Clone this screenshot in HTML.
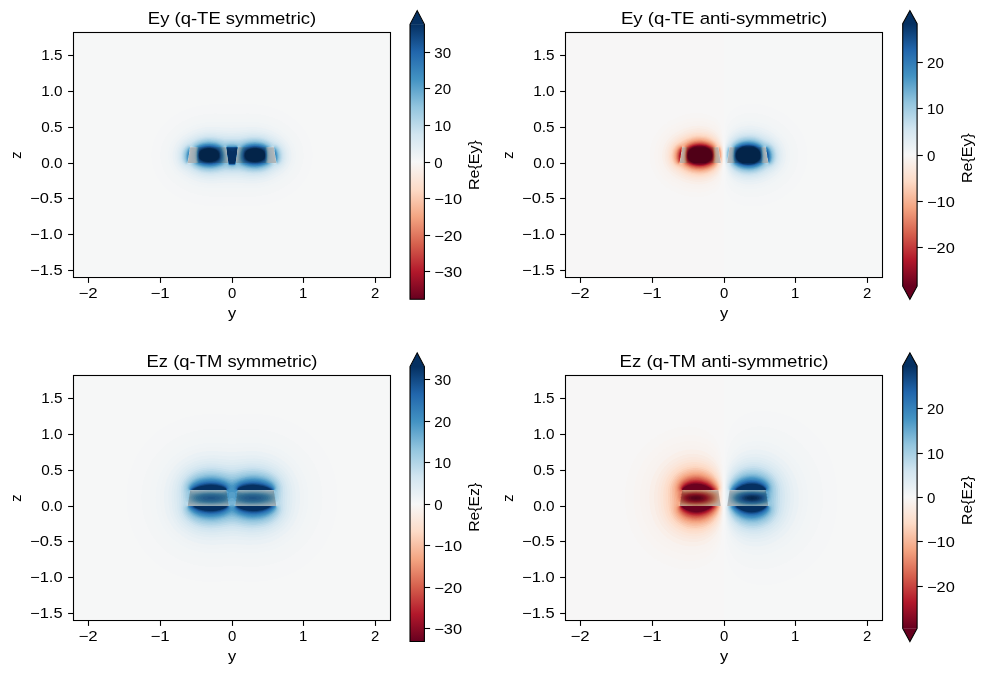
<!DOCTYPE html>
<html><head><meta charset="utf-8"><title>modes</title>
<style>html,body{margin:0;padding:0;background:#fff}body{width:985px;height:673px;overflow:hidden}svg{display:block}text{font-family:"Liberation Sans", sans-serif;fill:#000;opacity:0.999}</style>
</head><body>
<svg width="985" height="673" viewBox="0 0 985 673">
<defs>
<filter id="cm" color-interpolation-filters="sRGB" x="0" y="0" width="100%" height="100%" filterUnits="objectBoundingBox">
<feColorMatrix type="matrix" values="0.5 -0.5 0 0 0.503  0.5 -0.5 0 0 0.503  0.5 -0.5 0 0 0.503  0 0 0 0 1"/>
<feComponentTransfer><feFuncR type="table" tableValues="0.40588 0.70000 0.84118 0.95882 0.99412 0.97059 0.82157 0.57451 0.26471 0.13137 0.02157"/><feFuncG type="table" tableValues="0.00196 0.09608 0.37843 0.64902 0.86078 0.97059 0.90000 0.77451 0.57843 0.40196 0.19020"/><feFuncB type="table" tableValues="0.12353 0.17059 0.30392 0.51176 0.78235 0.97059 0.94314 0.87255 0.76667 0.67647 0.38235"/></feComponentTransfer>
</filter>
<linearGradient id="cb" x1="0" y1="0" x2="0" y2="1"><stop offset="0.0" stop-color="rgb(5,48,97)"/><stop offset="0.1" stop-color="rgb(33,102,172)"/><stop offset="0.2" stop-color="rgb(67,147,195)"/><stop offset="0.3" stop-color="rgb(146,197,222)"/><stop offset="0.4" stop-color="rgb(209,229,240)"/><stop offset="0.5" stop-color="rgb(247,247,247)"/><stop offset="0.6" stop-color="rgb(253,219,199)"/><stop offset="0.7" stop-color="rgb(244,165,130)"/><stop offset="0.8" stop-color="rgb(214,96,77)"/><stop offset="0.9" stop-color="rgb(178,24,43)"/><stop offset="1.0" stop-color="rgb(103,0,31)"/></linearGradient>
</defs>
<rect width="985" height="673" fill="#fff"/>
<g>
<clipPath id="clip0"><rect x="73.5" y="32.5" width="317.0" height="245.0"/></clipPath>
<g clip-path="url(#clip0)">
<g filter="url(#cm)">
<rect x="71.5" y="30.5" width="321.0" height="249.0" fill="#000"/>
<g transform="translate(232.00 163.00) scale(1 -1)"><path fill="#f00" fill-opacity="0.0080" fill-rule="evenodd" d="M-19 -43.2l10.8 -0.3 25 0.2 9.4 0.6 8 1.3 4 1 4.6 1.4 4 1.5 4.4 2 4 2.2 4 2.5 3.5 2.6 3.4 3 3.3 3.4 2.8 3.6 2.3 3.4 2 4 1.7 4 1.3 4.6 0.8 4.4 0.3 4.6 -0.1 4 -0.6 4.4 -0.9 4 -1.5 4.6 -1.8 4 -2.3 4 -2.8 4 -3.1 3.4 -5.3 4.9 -5.4 3.9 -6 3.4 -6.6 2.8 -7.4 2.3 -7 1.4 -7.6 0.8 -9 0.4 -23.4 0 -8.6 -0.2 -9 -0.8 -7.4 -1.3 -4.6 -1.2 -4 -1.3 -4.4 -1.7 -3.6 -1.7 -4 -2.2 -3.4 -2.3 -3.6 -2.7 -3 -2.7 -2.7 -2.8 -2.5 -3 -2.1 -3 -2.1 -3.4 -1.7 -3.6 -1.2 -3 -1 -3.4 -0.9 -4 -0.5 -4 -0.1 -3.6 0.2 -3.4 0.4 -3.6 0.9 -4 1.1 -3.4 1.5 -3.6 1.5 -3 1.8 -3 2.2 -3 2.5 -3 2.7 -2.7 3 -2.7 3 -2.2 4 -2.7 3.6 -1.9 4 -1.9 4 -1.6 8 -2.4 8.4 -1.6z"/><path fill="#f00" fill-opacity="0.0091" fill-rule="evenodd" d="M-19.4 -34.2l36.6 -0.1 6.6 0.3 5.4 0.7 7 1.4 4 1.2 3.6 1.3 4 1.9 3 1.6 3 1.8 3 2.1 3 2.6 2.7 2.6 2.5 3 2 3 1.7 3 1.4 3.6 1.1 3.4 0.7 3.6 0.3 3.4 -0.1 3.6 -0.4 3.4 -0.7 3.6 -1 3 -1.5 3.4 -1.9 3.6 -2.1 3 -3.5 4 -4.2 3.7 -5 3.5 -5 2.7 -5.6 2.3 -6 1.8 -6 1.2 -6.4 0.7 -7 0.3 -15.6 -0.2 -17.4 0.2 -6.6 -0.3 -5.4 -0.7 -7.6 -1.6 -7 -2.4 -6.4 -3.2 -3 -1.8 -3 -2.1 -2.7 -2.1 -2.6 -2.6 -2.2 -2.4 -1.9 -2.6 -1.9 -3 -1.3 -2.4 -1.2 -3 -1 -3 -0.6 -3 -0.5 -3.6 -0.1 -3.4 0.2 -3 0.6 -3.6 0.8 -3 1 -3 1.2 -2.4 1.4 -2.6 2 -3 2.1 -2.4 2.4 -2.6 5.3 -4.3 3 -1.9 3.4 -2 6.6 -2.9 7 -2.2 7.4 -1.5z"/><path fill="#f00" fill-opacity="0.0112" fill-rule="evenodd" d="M-21.4 -29.2l6.2 -0.1 16 0.3 17 -0.4 5 0.2 4 0.4 6.4 1.1 6 1.7 6 2.5 5.6 3.1 3 2.1 3 2.4 2.1 2.1 2.2 2.6 1.8 2.4 1.7 3 1 2.6 1 3 0.7 3 0.3 3 0 3.4 -0.3 3 -0.8 3.6 -1 3 -1.4 3 -1.4 2.4 -2.9 4 -3.5 3.6 -4.1 3.2 -4.4 2.8 -4.6 2.2 -5.4 2.1 -5.6 1.5 -6 1 -4.4 0.3 -4.6 0.1 -17 -0.4 -18.4 0.4 -8 -0.4 -6.6 -1.1 -6 -1.7 -6 -2.4 -5.4 -3.1 -3 -2 -2.6 -2 -2.4 -2.4 -2 -2.1 -1.9 -2.6 -1.5 -2.4 -2.3 -5 -0.9 -3 -0.5 -3 -0.3 -2.6 0 -3 0.2 -2.4 0.5 -3 0.9 -3 1 -2.6 1.2 -2.4 1.6 -2.6 1.9 -2.4 1.9 -2 4.6 -4.1 5.6 -3.6 6.4 -3.1 6 -2 7 -1.5z"/><path fill="#f00" fill-opacity="0.0134" fill-rule="evenodd" d="M-21.4 -25.8l5.6 0 15 0.5 18.6 -0.5 8 0.4 6 0.9 5.4 1.5 5 1.9 5 2.6 5.6 3.6 2.4 2.1 2 2.1 1.7 1.9 1.7 2.6 1.3 2.4 1 2.6 0.8 2.4 0.5 3 0.2 3 -0.1 3 -0.4 2.6 -0.8 3 -1.1 3 -1.3 2.4 -2.3 3.6 -3.2 3.4 -4 3.4 -4 2.6 -4.4 2.3 -5 2 -5.6 1.6 -5.4 0.9 -8 0.5 -18 -0.6 -18.6 0.6 -7.4 -0.3 -5.6 -0.8 -5.4 -1.4 -5.6 -2 -5 -2.5 -5 -3.3 -2.4 -2.1 -2 -1.9 -3.3 -4 -1.5 -2.4 -1.2 -2.6 -0.9 -2.5 -0.8 -2.9 -0.5 -5 0.1 -2.6 0.4 -3 0.6 -2.4 0.9 -2.6 1 -2 1.4 -2.4 1.8 -2.4 1.9 -2.2 4.5 -3.8 5 -3.2 3 -1.6 3.6 -1.5 6 -2 6 -1.2z"/><path fill="#f00" fill-opacity="0.0162" fill-rule="evenodd" d="M-25.3 -22.8l7.5 -0.2 18 0.7 17 -0.7 6.6 0.1 4.4 0.5 5 1 4.6 1.4 5 2.1 6 3.4 4.4 3.5 1.9 1.8 1.7 2 1.8 2.4 1 2 1 2.6 0.7 2.4 0.5 3 0.1 2.6 -0.2 3 -0.5 2.4 -0.7 2.6 -1.1 2.4 -2 3.6 -2.9 3.4 -3.3 3 -4 2.9 -4.4 2.4 -4.6 2 -5 1.6 -5 1 -4 0.4 -3.9 0.2 -20.1 -0.8 -5.4 0.1 -12 0.7 -6.6 -0.1 -5 -0.6 -5 -1.1 -4.4 -1.4 -4.6 -2 -5.4 -3.1 -4.6 -3.4 -3.5 -3.8 -2.6 -4 -1.2 -2.4 -0.8 -2.6 -0.9 -4.4 -0.1 -2.6 0.2 -2.4 0.9 -4.6 1.7 -4 2.7 -4 3.2 -3.2 4.4 -3.5 5.6 -3.1 5.4 -2.4 6.6 -1.8z"/><path fill="#f00" fill-opacity="0.0223" fill-rule="evenodd" d="M-26.3 -20.2l4.1 -0.4 4 0 13 0.8 6 0.1 16.4 -0.8 6 0 4.6 0.4 4 0.8 4 1.1 4 1.5 6 3.1 5 3.4 3.6 3.4 1.6 2 1.2 2 0.9 2 0.9 2.6 0.5 2.4 0.2 2.6 -0.3 4.4 -0.6 2.6 -0.9 2.4 -1.8 3.6 -2.3 3 -2.6 2.5 -3.4 2.6 -4.6 2.7 -5 2.4 -4.4 1.5 -5 1.1 -4.6 0.5 -5 0.2 -14.4 -0.9 -6 -0.2 -15.6 1 -6 0 -4 -0.3 -4.4 -0.8 -4 -1.1 -4 -1.4 -5.6 -2.8 -5 -3.3 -3.5 -3.3 -2.8 -3.4 -2 -4 -1.3 -4.6 -0.3 -4.4 0.6 -4.6 1.4 -4 2.1 -3.4 2.8 -3.2 4 -3.2 5.6 -3.4 5.4 -2.5 5.6 -1.7zM41.8 13.2l-0.4 1.6 0.4 0.1zM43.8 0.3l-0.6 1.9 -0.2 3 0.2 0.2 0.1 -2.6 0.5 -0.5zM-43.8 0.3l0 2 0.5 0.5 0.1 2.6 0.2 -0.2 -0.2 -3zM-41.8 13.2l0 1.7 0.4 -0.1z"/><path fill="#f00" fill-opacity="0.0271" fill-rule="evenodd" d="M-25.7 -17.8l3.5 -0.2 4 0 12.4 1 6 0.2 6 -0.2 11 -0.9 5.6 -0.1 3.9 0.4 3.5 0.5 3.6 0.9 3.4 1.2 5.6 2.7 6 3.7 3.3 2.8 2.4 3 1.1 2 0.8 2 0.6 2 0.3 2.6 0.1 2 -0.2 2.4 -0.5 2.6 -0.7 2 -1.5 3 -2.1 3 -2.6 2.6 -3 2.2 -4.6 2.7 -4.4 2.1 -4.6 1.6 -4.4 1 -4.6 0.6 -4.4 0.1 -14.6 -1.2 -6.4 -0.1 -5.6 0.2 -10.4 1 -5.6 0.1 -3.4 -0.3 -4 -0.6 -3.6 -0.9 -3.4 -1.3 -5.6 -2.6 -5 -3.1 -3.2 -2.7 -2.6 -3 -2 -3.4 -0.9 -2.6 -0.5 -2 -0.3 -2.4 -0.1 -2 0.6 -4 1.2 -3.6 2.2 -3.4 2.6 -2.8 3.6 -2.6 5.4 -3.3 5 -2.3 5.6 -1.6zM42.8 0.2l-0.3 1 -0.4 6.6 -1.3 7 0 0.4 0.4 0.3 0.6 -0.2 0.1 -2.5 0.3 -0.7 0.1 -2.3 0.5 -1 0.1 -2.6 0.3 -0.5 0.2 -1.9 0.3 -1 0.2 -2.6zM-43.8 0.2l-0.1 0 0.1 2.6 0.4 1 0.2 1.9 0.3 0.5 0.2 2.6 0.4 1 0.1 2.3 0.3 0.7 0.1 2.5 0.6 0.2 0.4 -0.3 0 -0.4 -1.4 -8.1 -0.3 -5.9 -0.1 -0.6z"/><path fill="#f00" fill-opacity="0.0279" fill-rule="evenodd" d="M-26.5 -15.8l3.7 -0.2 4 0 12.6 1.1 7 0.2 6 -0.2 10.4 -1 5.6 -0.1 3 0.2 3.4 0.5 3.6 0.8 3 1 5.4 2.5 6 3.6 3.5 2.6 2.1 2.6 0.9 1.4 0.9 2 0.6 2 0.3 2 0.2 2 -0.2 2.6 -1 4 -1.4 3 -1.7 2.4 -2.2 2.2 -2.4 2 -5 3 -4.6 2.2 -4 1.5 -4.4 1 -4.6 0.6 -4.4 0 -4 -0.2 -10 -1.1 -7 -0.2 -5.6 0.3 -10.4 1.1 -5.6 0.1 -3.4 -0.2 -3 -0.5 -3 -0.7 -3 -0.9 -5 -2.2 -5.6 -3.2 -3.4 -2.6 -2.6 -2.6 -2.1 -3.6 -1.2 -3.4 -0.6 -4.1 0.4 -3.9 0.9 -3 1.6 -3 2 -2.5 3 -2.3 6.6 -4 4.4 -2.1 5 -1.7zM41.8 0.2l-0.5 0 0.3 3.6 -0.2 4 -1.3 7.4 1.1 0.6 0.6 -0.3 0.1 -1.7 0.3 -1.3 0.2 -2.3 0.4 -1 0.1 -2 0.3 -1.1 0.2 -1.9 0.4 -1.1 0.2 -2.9 -0.2 -0.1zM-43.8 0.1l-0.2 0.1 0.2 2.9 0.3 0.7 0.3 2.3 0.3 1.1 0.1 2 0.4 1 0.2 2.3 0.3 1.3 0.1 1.7 0.6 0.3 1.1 -0.6 -1 -5 -0.4 -3.4 -0.1 -3.6 0.3 -3z"/><path fill="#f00" fill-opacity="0.0315" fill-rule="evenodd" d="M-26.3 -14.2l3.5 -0.3 4 0 12.6 1.3 7 0.2 6 -0.2 11 -1.2 5 -0.1 6 0.6 5.4 1.4 2.6 1 3 1.4 7 4.2 2.9 2.1 1.8 2 1.7 3 0.9 3.6 0.1 4 -0.8 4 -1 2.4 -1.6 2.6 -1.8 2 -2.2 1.8 -5 3 -4.6 2.3 -4 1.6 -4.4 1.1 -4.6 0.5 -4.4 0.1 -4 -0.3 -9.6 -1.2 -7.4 -0.2 -6 0.3 -10.6 1.3 -5 0.1 -6 -0.6 -5 -1.3 -4.4 -1.8 -6.6 -3.6 -3 -2 -2.4 -2.4 -2.2 -3.3 -1.3 -3.4 -0.6 -4 0.3 -3.6 0.8 -3 1.3 -2.4 1.7 -2 2.4 -2.1 7 -4.2 4 -2 5 -1.7zM40.2 0.2l-0.2 0 0.6 1.6 0.2 1.4 0.1 3.6 -0.6 4 -1.1 4.5 2 0.5 0.6 0 0.7 -5.6 0.3 -0.7 0.1 -2.3 0.3 -0.8 0.2 -2.2 0.4 -0.9 0.1 -1.5 0.3 -1.6 -0.4 -0.2zM-43.8 0l-0.4 0.2 0.3 1.6 0.1 1.5 0.4 0.9 0.2 2.2 0.3 0.8 0.1 2.3 0.3 0.7 0.7 5.6 1.2 -0.1 1.4 -0.5 -1.1 -4.4 -0.6 -4 0.1 -4 0.3 -1.6 0.5 -1z"/><path fill="#f00" fill-opacity="0.0355" fill-rule="evenodd" d="M-26.2 -12.8l3.4 -0.2 3.6 0 13 1.6 8 0.1 5.4 -0.2 10.6 -1.4 5 -0.1 5 0.4 5 1.2 3.4 1.3 3.6 1.8 8 4.7 1.4 1.2 1 1.1 1.1 1.5 0.7 1.6 0.8 3 0.1 3.4 -0.2 2 -0.5 2 -1.1 2.6 -1.2 2 -1.7 1.8 -2 1.6 -7 4.1 -3.4 1.7 -4 1.4 -3.6 0.8 -4 0.4 -4.4 0.1 -4 -0.4 -9 -1.3 -8.6 -0.2 -6 0.3 -10 1.4 -5 0.2 -5 -0.4 -5 -1.2 -5 -2 -7 -3.9 -2.4 -1.7 -1.9 -1.7 -2 -3 -1.2 -3 -0.6 -3.6 0.1 -3.4 0.6 -2.6 1.2 -2.4 1.6 -2 1.6 -1.4 8.6 -5 3 -1.5 5 -1.7zM38.8 0.2l-0.3 0 0.9 1.6 0.5 1.4 0.2 3.5 -0.3 2.5 -0.5 2.6 -0.6 2 -0.7 1.4 1.8 0.6 2 0.1 0.1 -1.7 0.3 -1.1 0.2 -1.9 0.4 -1.5 0.2 -2.5 0.2 -0.5 0.2 -1.9 0.4 -1.2 0.1 -1.8 0.4 -1.6 -0.5 -0.3zM-44.2 0.2l0.3 1.6 0.1 1.8 0.4 1.2 0.2 1.9 0.2 0.5 0.2 2.5 0.4 1.5 0.2 1.9 0.3 1.1 0.1 1.6 0.6 0.1 1.4 -0.1 1.8 -0.6 -0.7 -1.4 -0.6 -2 -0.5 -2.6 -0.3 -2.4 0 -2 0.3 -2 0.6 -1.6 0.7 -1 -5.3 -0.3z"/><path fill="#f00" fill-opacity="0.0399" fill-rule="evenodd" d="M-28 -11.2l3.8 -0.5 4.4 0 4 0.4 9.6 1.3 10 0.1 4 -0.2 9.4 -1.4 5 -0.2 5 0.3 4.6 1 3 1 3 1.4 6 3.8 3.4 1.6 2 1.7 0.9 1.1 0.8 1.6 0.8 3 0.1 3.4 -0.6 3.5 -1 2.5 -1.3 2 -1.3 1.6 -1.8 1.4 -10 5.4 -3.6 1.4 -4 0.9 -4 0.5 -4 0 -4.4 -0.4 -9 -1.4 -10 -0.2 -5 0.3 -9.6 1.5 -5 0.3 -4.4 -0.4 -4.6 -1 -3 -1 -3 -1.5 -7.4 -4.1 -2.6 -1.9 -1.8 -2.4 -1.4 -3 -0.7 -2.9 -0.1 -3.5 0.4 -2.6 1 -2.4 1.2 -1.7 1.4 -1.4 4 -1.9 4.6 -3 3.4 -1.8 4 -1.4zM37.2 0.2l-0.1 0 0.1 0.3 1 1.3 0.7 1.4 0.3 1.6 0.1 2 -0.2 2 -0.5 2.4 -0.6 2 -1 2 1.9 0.6 2.9 0.2 1.2 -8.8 0.3 -0.4 0.1 -2 0.4 -1 0.1 -2 0.4 -1.6 -0.1 -0.2 -0.4 -0.1zM-44.2 0l-0.1 0.8 0.4 1 0.1 2 0.4 1 0.1 2 0.3 0.4 1.2 8.8 2.9 -0.2 1.9 -0.6 -1 -2 -0.6 -2 -0.5 -2.4 -0.2 -2 0.1 -2 0.4 -1.9 0.6 -1.1 1.1 -1.6 -6.7 -0.3z"/><path fill="#f00" fill-opacity="0.0447" fill-rule="evenodd" d="M-26.3 -10.2l3.5 -0.3 4 0.1 4 0.5 6.6 1.2 3.4 0.3 11 -0.1 10 -1.6 5 -0.4 5 0.2 5 1 2.6 0.8 3 1.3 3 1.8 3.4 2.8 3 0.6 1 0.6 1 0.8 1.5 2.4 0.9 3 0.1 3.4 -0.5 3 -0.7 2 -1.2 2 -1.2 1.6 -1.3 1.1 -1.6 0.8 -2.5 1.1 -4.5 2.7 -2.4 1.2 -3.6 1.3 -3.4 0.8 -4 0.4 -4.6 -0.1 -4 -0.5 -7 -1.4 -3.4 -0.2 -11.6 0.1 -10 1.7 -4.4 0.4 -5 -0.2 -5 -1 -2.6 -0.8 -2.4 -1.2 -5 -3 -4 -1.8 -2 -1.6 -1.8 -2.4 -1.2 -3 -0.5 -3 0.1 -3.4 0.5 -2 0.6 -1.6 1 -1.4 1.3 -1.2 1.4 -0.7 2.6 -0.5 4.4 -3.4 4 -2.1 4 -1.3zM-5.2 10l-1 4.8 0 0.4 0.4 0.5 0.2 -2.5 0.4 -0.5zM-3.8 0.7l-0.4 1.1 -0.4 3.4 0.4 0.6 0 -2.6 0.1 -0.4 0.3 -0.2zM3.8 0.7l0 1.9 0.3 0.2 0.1 0.4 0 2.6 0.4 -0.6 -0.4 -3.4zM5.2 10l0 2.7 0.4 0.5 0.2 2.5 0.4 -0.5 0 -0.4zM36.8 0.2l-0.4 0 1.7 4.6 0.2 2.4 -0.4 3 -1.5 5 1.4 0.6 4 0.3 0.5 -2.9 0.1 -2 0.4 -1 0.1 -2 0.4 -1.4 0.2 -2 0.3 -1.1 0.2 -1.9 0.4 -1.6 -0.2 -0.3 -0.4 -0.1zM-44.2 -0.1l-0.1 0.8 0.3 1.1 0.2 2 0.3 1 0.2 2 0.4 1.4 0.1 2 0.4 1 0.1 2 0.5 2.9 4 -0.3 1 -0.3 0.4 -0.3 -1.5 -5 -0.4 -3.4 0.3 -2.6 1.6 -4 -6.8 -0.4z"/><path fill="#f00" fill-opacity="0.0502" fill-rule="evenodd" d="M-25.8 -9.2l4 -0.2 4 0.2 3.6 0.5 6 1.3 3 0.3 5 -0.3 7 0.2 9 -1.7 5 -0.5 5 0.1 5 0.9 4 1.4 3.4 1.9 2.9 2.3 0.8 1 0.4 1 0 0.6 -6.3 0.4 1 4 0.3 3 -0.2 3 -1.1 5 0.8 0.6 4.4 0.5 0.6 -0.1 0.5 -3 0.1 -2 0.4 -1 0.1 -2 0.4 -1.4 0.2 -2 0.3 -1 0.2 -2 0.4 -1 -0.1 -1.5 0.5 -0.6 1 0 1.4 0.8 1.1 1.3 0.7 1.4 0.6 2 0.2 2 0 2 -0.4 2.6 -0.7 2 -1.1 2 -1.2 1.4 -1.2 1 -1.4 0.7 -2.6 0.5 -3.4 2.6 -3.6 1.8 -3 1.1 -3.4 0.8 -4 0.4 -4.6 -0.1 -4 -0.5 -7 -1.6 -2.4 -0.2 -13 0.1 -9 1.9 -5 0.4 -5 -0.2 -4.6 -0.8 -4.4 -1.7 -2.6 -1.4 -3.4 -2.6 -3 -0.7 -2.2 -1.5 -1.5 -2 -1.3 -3 -0.6 -3.4 0.1 -3 0.7 -2.6 1.1 -2 0.7 -0.7 1 -0.6 1 -0.2 0.5 0.1 0.4 0.4 -0.1 1.6 0.4 1 0.2 2 0.3 1 0.2 2 0.4 1.4 0.1 2 0.4 1 0.1 2 0.5 3 0.6 0.1 4.4 -0.5 0.6 -0.3 0.2 -0.3 -1.1 -5 -0.2 -3 0.3 -3 1 -4 -6.3 -0.4 0.1 -1 0.6 -1 1.8 -1.8 2 -1.4 2 -1.1 2.6 -1.1 2.4 -0.8zM-3.8 0.2l-0.4 0.6 -0.4 1 -0.5 5.4 -1.5 7 0 1 0.4 0.6 0.4 0 0.2 -1.6 0.4 -1.1 0.1 -2.9 0.3 -0.8 0.2 -2.6 0.4 -0.7 0.1 -2.3 0.3 -0.9zM3.7 0.2l0.1 2.7 0.3 0.9 0.1 2.3 0.4 0.7 0.2 2.6 0.3 0.8 0.1 2.9 0.4 1.1 0.2 1.6 0.4 0 0.4 -0.6 0 -1 -1.5 -7 -0.5 -5.4 -0.4 -1z"/><path fill="#f00" fill-opacity="0.0563" fill-rule="evenodd" d="M-25.3 -8.2l3.5 -0.2 4 0.3 3.6 0.6 6.4 1.5 2 0.2 5.6 -0.4 5.4 0.4 1.6 0 9.4 -2.1 5.6 -0.5 3 0.1 3 0.4 2.4 0.5 3 0.9 3 1.4 2.6 1.6 1.7 1.8 0.9 1.5 -5.8 0.4 0.8 3.6 0.3 3.5 -0.3 3.9 -0.8 4 0.6 0.6 4 0.4 -0.1 1 -0.7 1 -1.6 1.5 -2 1.3 -2 0.9 -4.6 1.5 -4.4 0.6 -4 0.1 -3.6 -0.4 -3.4 -0.7 -5 -1.3 -2 -0.3 -6.6 0.3 -7.4 -0.3 -9 2.2 -5.6 0.5 -3 -0.1 -3 -0.3 -3 -0.7 -2.4 -0.8 -2.6 -1.2 -2 -1.3 -1.6 -1.5 -0.7 -1 -0.1 -0.4 0 -0.6 4 -0.4 0.6 -0.6 -0.8 -4 -0.3 -4 0.3 -3.4 0.8 -3.6 -5.8 -0.4 0.9 -1.6 1.3 -1.3 2 -1.4 2 -1.1 2.4 -1.1 2.6 -0.7zM-4.2 0.2l-0.4 0 -0.5 1 -0.5 6 -1.4 7 -0.1 1 0.4 0.6 0.5 0.1 0.4 0 0.1 -0.1 0.2 -1.6 0.3 -0.7 0.1 -2.7 0.3 -1 0.2 -2.6 0.4 -0.8 0.1 -2.2 0.3 -1 0.2 -3zM3.8 0.1l-0.2 0.1 0 0.6 0.2 2.4 0.3 1 0.1 2.2 0.4 0.8 0.2 2.6 0.3 1 0.1 2.7 0.3 0.7 0.3 1.7 0.4 0 0.5 -0.1 0.4 -0.6 0 -0.4 -1.5 -7.6 -0.4 -5.4 -0.3 -1 -0.3 -0.6zM-46.4 -0.2l0.6 -0.4 1.1 0 0.7 2.4 0.1 2 0.4 1 0.7 5.4 0.3 1 0.1 2 0.4 1.6 0 2 -0.2 0.2 -0.6 0.1 -1 -0.1 -1 -0.5 -1.7 -1.7 -1.4 -2.6 -0.8 -2.5 -0.2 -2.9 0.3 -3 1 -2.6zM44.5 -0.2l0.3 -0.4 0.4 -0.1 1 0.4 0.7 0.5 1 1.6 0.9 3 0.1 3.4 -0.8 3.6 -1.2 2.4 -1.1 1.5 -1 0.8 -1 0.5 -1 0.1 -0.6 -0.1 -0.2 -0.2 0 -2 0.4 -1.5 0.1 -2.1 0.3 -1 0.7 -5.4 0.4 -1 0.1 -2 0.3 -0.6z"/><path fill="#f00" fill-opacity="0.0597" fill-rule="evenodd" d="M-26.1 -7.2l4.3 -0.3 4.6 0.4 3.4 0.7 5.6 1.5 2 0.4 6 -0.8 2 0.1 3.4 0.7 1.6 -0.1 8.4 -2.1 3 -0.5 3 -0.2 3 0 3 0.3 3 0.6 2.6 0.8 2.4 1 2.6 1.6 1.6 1.3 1.1 1.6 -5.2 0.4 0.7 3 0.3 4 -0.3 4.6 -0.7 3.4 0.5 0.6 3.7 0.4 -0.7 1.3 -1.3 1.3 -1.7 1.1 -2 1.1 -4.6 1.5 -4.4 0.6 -4 0 -3.6 -0.3 -3.4 -0.8 -5.6 -1.7 -1.4 -0.2 -6.6 0.6 -7.4 -0.6 -8.6 2.4 -5.4 0.7 -3 0 -2.6 -0.3 -3 -0.6 -2.4 -0.7 -2.6 -1.1 -2.4 -1.6 -1.6 -1.4 -0.7 -1.3 3.7 -0.4 0.5 -0.6 -0.7 -3.4 -0.3 -4.6 0.3 -4 0.7 -3 -5.2 -0.4 0.7 -1.1 1.6 -1.5 3.4 -2.1 4 -1.5zM-5.8 0.2l-0.2 7 -1.7 8 0.4 0.6 1.1 0.3 0.4 -0.1 0.6 -2.2 0.2 -3 0.2 -0.7 0.2 -2.3 0.4 -1.2 0.1 -2.4 0.3 -0.7 0.4 -3.3 -0.4 -0.2zM3.8 0l-0.4 0.2 0.4 3.3 0.3 0.7 0.1 2.4 0.4 1.2 0.6 6 0.6 2.2 0.4 0.1 1.1 -0.3 0.4 -0.6 -1.7 -8 -0.2 -7zM-46.1 0.2l0.9 -0.4 0.4 0 0.4 1.4 0.3 0.6 0.2 2 0.3 1 0.2 2 0.4 1.4 0.1 2 0.4 1 0.1 2 0.3 1.6 -0.1 1.4 -0.6 0.3 -1.4 -0.5 -1.8 -1.8 -1.1 -2 -0.8 -2.4 -0.3 -3 0.3 -2.6 0.8 -2.4zM44.6 0.2l0.2 -0.4 1 0.2 0.8 0.8 0.5 1 0.9 3 0.1 3.4 -0.6 3 -1.2 2.6 -1.7 2 -0.8 0.5 -1 0.2 -0.6 -0.3 -0.1 -1.4 0.3 -1.6 0.1 -2 0.4 -1 0.1 -2 0.4 -1.4 0.2 -2 0.3 -1 0.2 -2 0.3 -0.6z"/><path fill="#f00" fill-opacity="0.0635" fill-rule="evenodd" d="M-27.4 -6.2l4.6 -0.4 5 0.3 4 0.8 6.6 2.1 1.4 0.2 3.6 -1 2 -0.3 2 0.2 3.4 1 1 0.1 8.1 -2.4 3.5 -0.7 3 -0.3 3 0 3 0.2 2.4 0.5 3 0.8 2.6 1.1 2 1.1 1.5 1.1 1.4 1.6 -4.7 0.4 0.7 3 0.3 4 -0.2 4 -0.8 4 0.4 0.6 3.3 0.4 -0.7 1 -1.2 1.1 -1.6 1 -2 1 -4 1.3 -4.4 0.7 -4 0 -4 -0.5 -3.6 -0.8 -6 -2.2 -4 0.8 -3.4 0.2 -3 -0.2 -4 -0.8 -7.6 2.6 -3 0.6 -3 0.3 -3 0.1 -3 -0.3 -2.4 -0.5 -2.6 -0.7 -2.4 -1 -2 -1.2 -1.6 -1.2 -0.9 -1.3 3.3 -0.4 0.4 -0.6 -0.8 -4 -0.2 -4 0.3 -4 0.7 -3 -4.7 -0.4 1.9 -2 3 -1.8 3.6 -1.4zM-6.8 0.2l-0.1 0 0.3 1 0.2 2.6 -0.1 3.4 -0.6 3.6 -1.2 4.4 0.2 0.6 1.9 0.4 0.4 0 0.6 -2.4 0.1 -2 0.4 -1.6 0.1 -2.4 0.4 -1 0.2 -2.6 0.2 -0.5 0.2 -1.9 0.3 -1.6 -0.5 -0.3 -0.4 0zM3.8 -0.1l-0.5 0.3 0.3 1.6 0.2 1.9 0.2 0.5 0.2 2.6 0.4 1 0.1 2.4 0.4 1.6 0.1 2 0.6 2.4 1 0 1.3 -0.4 0.2 -0.6 -1.3 -5 -0.6 -3.4 0 -4 0.2 -1.6 0.3 -1zM-45.5 0.2l0.7 -0.3 0.3 1.3 0.4 0.6 0.1 2 0.4 1 0.2 2 0.4 1.4 0.1 2 0.3 1 0.2 2.6 0.3 1 -0.1 1.3 -1.4 -0.3 -1.6 -1.6 -1.1 -2 -0.8 -2.4 -0.4 -3 0.3 -2.6 0.7 -2.4zM44.6 0.2l0.2 -0.3 0.7 0.3 0.7 1 0.7 1.6 0.5 3 -0.1 3 -0.6 2.4 -1.1 2.6 -0.8 1 -1 0.9 -1 0.4 -0.6 0 -0.1 -1.3 0.3 -1 0.2 -2.6 0.3 -1 0.1 -2 0.4 -1.4 0.2 -2 0.4 -1 0.1 -2 0.4 -0.6z"/><path fill="#f00" fill-opacity="0.0678" fill-rule="evenodd" d="M-25.6 -5.8l4.8 -0.1 5 0.7 4.6 1.3 5.4 2.4 0.6 0 1.4 -1.3 1 -0.4 1 -0.4 1.6 -0.2 1.4 0.1 1.6 0.4 1 0.5 1.4 1.3 0.6 0 4 -1.8 3 -1.1 3.4 -0.9 3.6 -0.5 3.4 -0.1 3 0.2 3 0.5 2.6 0.7 4 1.8 2 1.4 1.1 1.1 -4.2 0.4 0.8 3 0.2 4 -0.2 4.6 -0.8 3.4 0.3 0.6 0.2 0 2.8 0.4 -1.8 1.7 -3 1.7 -3.4 1.2 -4 0.7 -4 0.1 -4 -0.4 -4 -0.9 -3.6 -1.4 -1.9 -1.1 -0.8 -1 0 -0.6 1.3 -0.4 0.2 -0.6 -1.3 -4 -0.8 -4.4 0.1 -4 0.4 -1.6 0.6 -1 -2.7 -0.4 -0.5 -0.4 -1 0.4 -0.6 0.4 0.4 1.6 0.1 2 0.4 1 0.1 2.2 0.4 1.2 0.1 2 0.4 1.5 0.1 2.1 0.4 2 0.2 0.6 0.3 0.4 0.1 0.4 -0.3 0.6 -0.7 0.4 -1 0.4 -1.4 0.3 -4.6 0.1 -3 -0.5 -1.1 -0.7 -0.3 -0.6 0.1 -0.4 0.3 -0.4 0.2 -0.7 0.4 -1.9 0.1 -2 0.4 -1.6 0.1 -2 0.4 -1.2 0.1 -2.2 0.4 -1 0.1 -2 0.4 -1.6 -0.6 -0.4 -1 -0.4 -0.5 0.4 -2.7 0.4 0.6 1 0.3 1 0.2 3 -0.1 2.6 -0.4 2.4 -0.8 3.1 -0.8 1.9 0.2 0.6 1.3 0.4 -0.3 1 -0.5 0.6 -2.5 1.3 -2.4 1 -3 0.9 -3.6 0.5 -3 0.2 -3 -0.2 -3 -0.5 -3 -0.8 -3.4 -1.7 -1.6 -1 -1.2 -1.3 2.8 -0.4 0.2 0 0.3 -0.6 -0.8 -3.4 -0.2 -4.6 0.2 -4 0.8 -3 -4.2 -0.4 2.7 -2.2 3 -1.5 3.4 -1.2zM-45.1 0.2l0.3 -0.1 0.3 1.1 0.3 0.6 0.3 2.4 0.2 0.6 0.3 2.4 0.3 1 0.2 2.6 0.3 0.4 0.1 2.6 0.4 1 -0.1 1.2 -1.3 -0.8 -1.4 -1.4 -1 -2 -0.7 -2.6 -0.2 -2.4 0.2 -2.6 0.9 -3zM44.7 0.2l0.1 -0.1 0.3 0.1 0.4 0.6 1 3 0.3 2.4 -0.1 2.6 -0.6 2.4 -1.2 2.6 -1.4 1.4 -1.3 0.8 -0.1 -1.2 0.4 -1 0.1 -2.6 0.3 -0.4 0.2 -2.6 0.3 -1 0.3 -2.4 0.2 -0.6 0.3 -2.4 0.3 -0.6z"/><path fill="#f00" fill-opacity="0.0727" fill-rule="evenodd" d="M-28 -4.8l2.8 -0.3 3 -0.1 3 0.1 3 0.5 3 0.8 2.4 0.9 2.6 1.2 1.4 1.3 0.2 0.2 -2.4 0.4 0.7 1 0.5 1 0.3 1.6 0.1 2 -0.1 2.4 -0.5 2.6 -0.9 3 -0.8 1.4 0.1 0.6 1.2 0.4 -0.8 1 -2.6 1.6 -3.4 1.2 -4.6 0.8 -4 0.2 -4 -0.5 -4 -1 -3 -1.4 -2.4 -1.9 2.4 -0.4 0.3 -0.6 -0.7 -3.4 -0.3 -4.6 0.3 -4 0.8 -3 -3.7 -0.4 1.9 -1.5 2.4 -1.3 2.6 -1zM17 -4.8l2.8 -0.3 3 -0.1 3 0.1 3 0.5 2.4 0.6 2.6 1 2.4 1.3 1.9 1.5 -3.7 0.4 0.8 3 0.3 4 -0.3 4.6 -0.7 3.4 0.3 0.6 2.4 0.4 -2.4 1.9 -3.6 1.6 -3.9 0.9 -4.1 0.4 -4.4 -0.3 -4 -0.8 -3.6 -1.4 -1.4 -0.8 -1 -0.9 -0.4 -0.6 1.2 -0.4 0.1 -0.6 -0.9 -2 -0.9 -3 -0.4 -2.4 -0.1 -2.6 0.4 -3 0.5 -1 0.7 -1 -2.4 -0.4 1.6 -1.5 2.6 -1.2 3 -1.1zM-2.4 -2.8l2.2 -0.4 2 0.2 1.4 0.8 0.7 1 -0.3 1 -0.4 0.4 0.9 5 0.1 2 0.4 1 0.1 2 0.4 1.6 0.1 2 0.4 2.4 -0.2 1 -1.2 0.8 -2.4 0.3 -5 -0.1 -1.6 -0.5 -0.4 -0.3 -0.4 -0.6 1 -8.6 0.4 -0.9 0.1 -2.1 0.9 -5 -0.4 -0.4 -0.3 -1 0.7 -1zM-44.8 0.2l0.2 1 0.4 0.6 0.2 2.4 0.4 1 0.1 2 0.4 1 0.2 2.6 0.3 0.4 0.1 2.6 0.3 1 0 1 -1.7 -1.6 -0.7 -1 -1 -2.4 -0.5 -2 -0.1 -2 0.1 -2.6 0.8 -3zM44.7 0.2l0.6 1 0.8 3 0.1 2.6 -0.1 2 -0.5 2 -1 2.4 -0.7 1 -1.7 1.6 0 -1 0.3 -1 0.1 -2.6 0.3 -0.4 0.2 -2.6 0.4 -1 0.1 -2 0.4 -1 0.2 -2.4 0.4 -0.6z"/><path fill="#f00" fill-opacity="0.0784" fill-rule="evenodd" d="M-27.3 -4.2l2.5 -0.3 3 -0.1 2.6 0.2 3 0.4 2.4 0.7 2.6 0.9 2 1 1.5 1.2 -2.1 0.4 0.8 1 0.7 1.6 0.4 3 -0.1 2.4 -0.5 2.6 -1 3 -0.8 1.4 0.1 0.6 1 0.4 -0.6 0.6 -2.4 1.5 -3.6 1.2 -3.4 0.7 -4 0.2 -4 -0.4 -3.6 -0.8 -3 -1.2 -2.7 -1.8 2.2 -0.4 0.1 -0.6 -0.8 -3.4 -0.3 -4.6 0.3 -4 0.9 -3 -1.1 -0.3 -2.1 -0.1 2.1 -1.4 2.4 -1.2 2.6 -0.8zM17.8 -4.2l5.4 -0.4 3 0.2 2.6 0.4 4.4 1.4 2 1 2.1 1.4 -2.1 0.1 -1.1 0.3 0.9 3 0.3 4 -0.3 4.6 -0.8 3.4 0.1 0.6 2.2 0.4 -2.7 1.8 -3.6 1.4 -3.4 0.7 -4 0.3 -4 -0.3 -4 -0.9 -3.6 -1.4 -2 -1.5 1 -0.5 0.1 -0.6 -1 -2 -0.9 -3 -0.4 -2.4 -0.1 -2.6 0.2 -1.4 0.4 -1.6 1.3 -2 -2.1 -0.4 1.5 -1.2 2.6 -1.2 3 -1zM-2.2 -2.2l1.4 -0.4 2 0.1 1.6 0.5 0.6 0.8 0.1 0.4 -0.3 1 0 0.6 0.9 4.4 0.1 2 0.3 1 0.2 2 0.3 1.6 0.1 1.9 0.4 1.5 0 1 -0.3 0.6 -1 0.6 -2 0.2 -5.4 0 -1.6 -0.4 -0.4 -0.4 -0.3 -0.6 0 -1 0.4 -1.4 0.1 -2 0.3 -1.6 0.2 -2 0.3 -1 0.1 -2 0.9 -4.4 0 -0.6 -0.3 -1 0.5 -1zM-45 2.2l0.2 -0.4 0.6 0.1 0.2 2.3 0.4 1 0.2 2.6 0.3 0.4 0.1 2.6 0.3 0.4 0.2 3 0.3 0.4 0 0.8 -1.9 -2.2 -1.3 -3.4 -0.3 -3.6 0.2 -2.5zM44.2 2.2l0 -0.3 0.6 -0.1 0.7 2 0.2 3 -0.2 2 -0.4 2 -1 2.4 -1.9 2.2 0 -0.8 0.3 -0.4 0.2 -3 0.3 -0.4 0.1 -2.6 0.3 -0.4 0.2 -2.6 0.4 -1z"/><path fill="#f00" fill-opacity="0.0851" fill-rule="evenodd" d="M-26.9 -3.8l5.1 -0.2 5 0.5 4.6 1.3 2 0.9 1.5 1.1 -1.8 0.4 0.8 1 0.8 1.6 0.4 1.4 0.1 2 -0.2 2.6 -0.5 2.4 -0.8 2.6 -0.9 1.4 -0.1 0.6 0.9 0.4 -0.2 0.2 -2.6 1.5 -3 1 -3.4 0.7 -3.6 0.2 -3.4 -0.2 -3.6 -0.7 -3 -1 -2.9 -1.7 1.8 -0.4 0 -0.6 -0.5 -1.4 -0.5 -2.6 -0.2 -4 0.3 -4 1 -3 -1 -0.3 -1.7 -0.1 2.3 -1.4 2 -0.8 2.4 -0.8zM18.4 -3.8l4.8 -0.2 5 0.5 4.6 1.3 2 0.9 1.7 1.1 -1.7 0.1 -1 0.3 1 3 0.3 4 -0.2 4 -0.5 2.6 -0.5 1.4 0 0.6 1.8 0.4 -2.9 1.7 -3 1 -3.6 0.7 -3.4 0.2 -3.6 -0.2 -3.4 -0.7 -3.6 -1.3 -2.2 -1.4 0.9 -0.4 -0.1 -0.6 -0.9 -1.4 -0.8 -2.6 -0.6 -3 -0.1 -2.4 0.5 -3 0.8 -1.6 0.8 -1 -1.8 -0.4 2.1 -1.3 2 -0.9 2.4 -0.7zM-2.3 -1.8l1.6 -0.3 1.9 0 1.6 0.7 0.4 0.6 0 1.5 0.9 4.5 0.1 2 0.3 1 0.2 2.6 0.3 1 0.1 2 0.3 1.4 -0.2 1.2 -1 0.5 -1.4 0.2 -6 0 -1.6 -0.4 -0.5 -0.5 -0.1 -1 0.3 -1.4 0.1 -2 0.3 -1 0.2 -2.6 0.3 -1 0.7 -5.4 0.3 -1 0 -1.6 0.4 -0.6zM-44.4 2.2l0.2 0 0.1 2 0.4 1 0.2 2.6 0.3 0.4 0.2 2.6 0.3 0.4 -0.1 3.1 -0.8 -1.1 -1 -2.4 -0.6 -3 0.1 -4zM44.2 2.2l0.6 0.5 0.3 1.1 0.1 4 -0.6 3 -1 2.4 -0.8 1.1 -0.1 -3.1 0.3 -0.4 0.2 -2.6 0.3 -0.4 0.2 -2.6 0.4 -1z"/><path fill="#f00" fill-opacity="0.0930" fill-rule="evenodd" d="M-26.7 -3.2l4.5 -0.3 5 0.5 4 1 3.5 1.8 -1.5 0.4 0.9 1 0.8 1.6 0.4 1.4 0.2 2 -0.1 2.6 -0.5 2.4 -0.7 2.2 -1.4 2.4 0.7 0.4 -2.3 1.3 -3 1 -3 0.6 -3.6 0.2 -3.4 -0.2 -3 -0.6 -3 -0.9 -2.7 -1.4 1.3 -0.4 -1 -4 -0.3 -4 0.4 -4.6 0.3 -1.4 0.7 -1.6 -0.7 -0.3 -1.4 -0.1 3.8 -1.9 2.6 -0.7zM18.6 -3.2l4.6 -0.3 4.6 0.4 4 1 3.8 1.9 -1.4 0.1 -0.7 0.3 0.7 1.6 0.3 1.4 0.4 4.6 -0.3 3.9 -1 4.1 1.3 0.4 -2.7 1.4 -3 0.9 -3 0.6 -3.4 0.2 -3.6 -0.2 -3 -0.6 -3 -1 -2.3 -1.3 0.7 -0.4 -1.4 -2.4 -0.7 -2.2 -0.5 -2.4 -0.1 -2.6 0.2 -2 0.4 -1.4 0.8 -1.6 0.9 -1 -1.5 -0.4 2.1 -1.2 2 -0.7zM-2.4 -1.2l1.2 -0.4 2 -0.1 1.4 0.3 0.7 0.6 0.6 2.6 0.1 2 0.4 1.4 0.2 2 0.3 1 0.2 2.6 0.3 1 0.1 2.4 0.3 1 -0.2 1 -0.4 0.2 -1.6 0.2 -3.4 -0.1 -3 0.1 -1 -0.1 -1 -0.3 -0.2 -1 0.3 -1 0.1 -2.4 0.3 -1 0.2 -2.6 0.3 -1 0.2 -2 0.4 -1.4 0.5 -4 0.3 -0.8zM-44.4 2.8l0.3 2 0.4 0.4 0.1 2.6 0.4 0.4 0.1 2.6 0.4 0.4 -0.1 2.8 -0.4 -0.8 -0.5 -1.4 -0.5 -1 -0.5 -3 0 -4zM44.2 2.8l0.5 1 0 4 -0.5 3 -0.5 1 -0.5 1.4 -0.4 0.8 -0.1 -2.8 0.4 -0.4 0.1 -2.6 0.4 -0.4 0.1 -2.6 0.4 -0.4z"/><path fill="#f00" fill-opacity="0.1026" fill-rule="evenodd" d="M-26.8 -2.8l4 -0.2 4.6 0.3 4 0.9 3.6 1.6 -1.3 0.4 1.4 1.6 0.7 1.4 0.4 2 0.1 2.6 -0.4 2.4 -0.5 2 -0.7 1.5 -1.4 2.1 0.5 0.4 -2.4 1.2 -2.6 0.7 -3 0.5 -3 0.2 -3 -0.1 -3 -0.5 -2.4 -0.7 -2.8 -1.3 0.8 -0.5 -0.7 -1.9 -0.5 -2 -0.3 -2.6 0 -3 0.5 -3.4 0.4 -1.5 0.6 -1.1 -1.5 -0.4 3.9 -1.7zM18.6 -2.8l4.2 -0.2 4.4 0.3 4.1 1 3.4 1.5 -1.5 0.4 0.6 1.1 0.4 1.5 0.5 3.4 0 3 -0.3 2.6 -0.5 2 -0.7 2 0.8 0.4 -2.8 1.3 -2.4 0.7 -3 0.5 -3 0.1 -3 -0.2 -3 -0.5 -2.6 -0.7 -2.4 -1.2 0.5 -0.4 -1.4 -2 -0.7 -1.6 -0.5 -2 -0.4 -2.4 0.1 -2.6 0.4 -2 0.7 -1.4 1.4 -1.6 -1.3 -0.4 3.6 -1.6zM-1.3 -1.2l1.5 -0.1 1.6 0.1 1 0.5 0.2 0.5 1 5.4 0.7 5.6 0.3 1 0.1 2.4 0.3 1 -0.2 0.9 -1.4 0.1 -4 -0.3 -3.6 0.3 -1.4 -0.1 -0.2 -0.9 0.3 -1 0.1 -2.4 0.3 -1 0.7 -5.6 1 -5.4 0.2 -0.5 0.6 -0.3zM-44.2 5.8l0.4 -0.5 0.2 2.5 0.4 0.4 0 0.6 0 2.4 -0.6 -0.4 -0.2 -0.6 -0.1 -2 -0.3 -1zM43.7 5.8l0.1 -0.5 0.4 0.5 0.2 1.4 -0.3 1 -0.1 2 -0.2 0.6 -0.6 0.4 0 -2.4 0 -0.6 0.4 -0.4zM-43.1 11.8l0.3 -0.2 0 2 -0.2 -0.8zM42.7 11.8l0.1 -0.2 0.3 0.2 0 0.5 -0.3 1.3z"/><path fill="#f00" fill-opacity="0.1143" fill-rule="evenodd" d="M-27.1 -2.2l3.9 -0.4 4 0.2 4 0.8 3.6 1.4 -1.1 0.4 1.5 1.3 0.9 1.7 0.5 2 0.1 2.6 -0.3 2 -0.5 2 -0.9 2 -1.7 2 0.4 0.4 -2.1 0.9 -2.4 0.7 -2.6 0.4 -3 0.2 -3 -0.2 -2.4 -0.4 -2.6 -0.6 -2.3 -1 0.5 -0.4 -0.9 -1.6 -0.5 -1.4 -0.5 -4 0 -3 0.4 -2.6 0.7 -2 0.6 -1 -1 -0.4 3 -1.2zM18.4 -2.2l3.8 -0.4 4 0.2 4 0.8 3.6 1.4 -1 0.4 0.6 1 0.7 2 0.4 2.6 0 3 -0.5 4 -0.5 1.4 -0.9 1.6 0.5 0.4 -2.3 1 -2.6 0.6 -2.4 0.4 -3 0.2 -3 -0.2 -2.6 -0.4 -2.4 -0.7 -2.1 -0.9 0.4 -0.4 -1.9 -2.3 -0.5 -1.3 -0.6 -2 -0.4 -3.4 0.5 -3 0.9 -2 1.6 -1.6 -1.1 -0.4 3.2 -1.3zM-2.2 -0.8l1.4 -0.2 2 0.1 1 0.2 0.6 0.2 0.1 0.3 0.5 2 0.2 2 0.4 1.4 0.1 2 0.3 1 0.2 2.5 0.3 1.1 0.2 2.4 0.2 1 -0.1 0.7 -5.4 -0.5 -5 0.5 -0.1 -0.7 0.2 -1 0.2 -2.4 0.3 -1 0.2 -2.6 0.3 -1 0.1 -2 0.4 -1.4 0.2 -2 0.5 -2 0.1 -0.3zM-43.8 5.8l0 2.3 -0.2 -0.3 -0.1 -1zM43.7 5.8l0.4 0.9 -0.1 1.1 -0.2 0.3zM-43.5 8.8l0.3 -0.2 0 2.4 -0.4 -0.8zM43.2 8.8l0 -0.2 0.3 0.2 0.2 1 -0.2 1 -0.3 0.2z"/><path fill="#f00" fill-opacity="0.1290" fill-rule="evenodd" d="M-27.5 -1.8l3.7 -0.3 4 0.1 3.6 0.6 3.5 1.2 -1 0.4 1.5 0.9 1.2 1.7 0.7 2.4 0.2 2.6 -0.4 2.4 -0.6 2 -1.1 2 -1.9 1.6 0.3 0.4 -4 1.2 -5 0.5 -5 -0.4 -4.3 -1.3 0.3 -0.4 -1 -0.9 -0.4 -0.8 -0.6 -1.3 -0.3 -2 -0.2 -4 0.4 -3.6 0.8 -2 0.3 -0.5 0.9 -0.5 -0.9 -0.4 2.6 -0.9zM18 -1.8l3.8 -0.3 4 0.1 3.4 0.6 3.6 1.2 -0.9 0.4 0.9 0.6 0.4 0.7 0.6 1.3 0.4 2.9 0.1 3.1 -0.5 4 -0.9 2 -1.1 1 0.3 0.4 -4.3 1.3 -5 0.4 -5 -0.5 -4 -1.2 0.3 -0.4 -1.3 -1.1 -0.9 -0.9 -0.8 -1.6 -0.5 -1.4 -0.5 -3.6 0.4 -3 0.5 -1.4 0.6 -1 1.1 -1 1 -0.6 -1 -0.4 2.6 -0.9zM-2.8 -0.2l1 -0.4 2.6 0 1.4 0.1 0.6 0.3 0.6 2 0.2 2 0.4 1.4 0.6 5.6 0.3 1 0.3 4 -4 -0.9 -1.4 -0.1 -5 1 0.3 -4 0.3 -1 0.6 -5.6 0.4 -1.4 0.2 -2z"/><path fill="#f00" fill-opacity="0.1481" fill-rule="evenodd" d="M-28.1 -1.2l2.9 -0.4 3 -0.1 3 0.2 2.4 0.4 3 0.9 -1.1 0.4 2.1 1 1 1 0.7 1.6 0.5 2 0.1 2 -0.4 2.4 -0.4 1.6 -0.8 1.4 -1.1 1.3 -2.1 1.3 0.4 0.4 -2.3 0.7 -3 0.5 -3 0.1 -2.6 -0.1 -2.4 -0.4 -2.8 -0.8 0.4 -0.4 -2.2 -1.4 -0.8 -2.2 -0.4 -2.4 -0.1 -3.6 0.5 -3 0.8 -1.9 0.6 -0.4 1.5 -0.7 -1 -0.4zM17.5 -1.2l3.7 -0.5 3.6 0 3.4 0.5 3.5 1 -1 0.4 1.5 0.7 0.6 0.4 0.5 0.9 0.7 3 0.1 3.6 -0.2 2.4 -0.7 2.3 -0.4 0.9 -0.5 0.4 -1.7 1 0.4 0.4 -2.8 0.8 -3 0.4 -3 0.1 -3 -0.2 -4.3 -1.1 0.4 -0.4 -2.1 -1.3 -1 -1 -1 -1.9 -0.6 -2.8 -0.1 -2.6 0.6 -2.4 0.7 -1.4 1 -1.1 2.1 -1.1 -1.1 -0.4zM-2.4 -0.2l4.2 -0.1 1 0.1 0.5 2 0.3 2.4 0.4 1 0.6 6 0.3 0.6 0.1 3 0.2 0.7 -1 -0.1 -2.4 -0.9 -1.6 -0.2 -1.4 0.1 -3 1 -1 0.1 0.2 -0.7 0.1 -3 0.3 -0.6 0.1 -2.4 0.4 -1.6 0.1 -2 0.4 -1 0.2 -2 0.5 -2 0.1 -0.4z"/><path fill="#f00" fill-opacity="0.1739" fill-rule="evenodd" d="M-25.3 -1.2l2.5 -0.2 3 0.2 4.8 1 -1.3 0.4 1.5 0.6 1.6 0.7 0.8 0.7 0.7 1 0.5 1.6 0.3 2 -0.2 2.4 -0.4 2 -0.7 1.6 -0.8 1 -1.2 0.8 -2.4 1.2 0.5 0.4 -2.7 0.6 -2.4 0.3 -3 0 -2.6 -0.2 -2.9 -0.7 0.4 -0.4 -2.9 -1.5 -0.6 -0.5 -0.4 -1 -0.4 -1.6 -0.3 -3 0.2 -3.4 0.7 -2.6 0.8 -0.8 2.9 -1.2 -1.3 -0.4 2.8 -0.7zM20.4 -1.2l4.8 -0.1 4.6 0.8 0.8 0.3 -1.3 0.4 2.9 1.2 0.8 0.8 0.5 1.6 0.4 2.4 0 3 -0.4 2.6 -0.7 2 -0.6 0.5 -2.9 1.5 0.4 0.4 -2.9 0.7 -3 0.2 -3.6 -0.1 -3 -0.5 -1.1 -0.3 0.5 -0.4 -3.4 -1.9 -1.2 -1.7 -0.9 -2.4 -0.2 -2.6 0.3 -2.4 0.8 -2 1.2 -1.3 1.6 -0.7 1.5 -0.6 -1.3 -0.4 2.8 -0.7zM-2.9 0.2l0.1 -0.3 2.6 0.2 3 -0.2 0.6 2.3 0.2 2 0.3 1 0.2 2 0.3 1.6 0.2 2.4 0.3 0.6 0 3 -0.1 0.4 -3.6 -1.3 -1.4 -0.2 -1.6 0.3 -2.9 1.2 -0.2 -0.4 0 -3 0.3 -0.6 0.7 -6z"/><path fill="#f00" fill-opacity="0.2105" fill-rule="evenodd" d="M-26.5 -0.8l4.7 -0.2 5 0.7 0.4 0.1 -1.7 0.4 3.3 1 2 1.4 0.6 0.6 0.6 1.6 0.3 3 -0.5 3 -0.6 1.4 -0.8 1.1 -2 1.3 -3.1 1.2 0.7 0.4 -4.6 0.6 -3 -0.1 -3 -0.5 0.6 -0.4 -3.2 -1.2 -1.4 -0.9 -0.6 -0.5 -0.4 -1.3 -0.5 -2.7 0 -3.4 0.6 -2.6 0.3 -0.8 1 -0.8 2.1 -0.8 2.1 -0.6 -1.6 -0.4zM19.1 -0.8l4.7 -0.2 5 0.6 0.4 0.2 -1.6 0.4 3.2 1 1.8 1 0.5 1 0.4 1.6 0.2 3.5 -0.5 3.6 -0.4 1.3 -0.6 0.5 -1.4 0.9 -3.2 1.2 0.6 0.4 -3 0.5 -3 0.1 -4.6 -0.6 0.7 -0.4 -3.5 -1.5 -1.6 -1.1 -0.8 -1 -0.4 -1 -0.6 -2.4 -0.1 -2.6 0.7 -2.4 0.8 -1.2 1 -0.8 2 -0.9 2.3 -0.7 -1.7 -0.4zM-2.9 0.2l0.1 -0.2 3 0.4 2.6 -0.4 0.6 2.2 0.7 5.6 0.3 1 0.2 2.4 0.2 0.6 0.1 2.4 -0.1 0.8 -3 -1.5 -2 -0.4 -1.6 0.4 -3 1.5 -0.1 -0.8 0.1 -2.4 0.2 -0.6 0.2 -2.4 0.4 -1.6 0.1 -2 0.3 -1 0.2 -2z"/><path fill="#f00" fill-opacity="0.2667" fill-rule="evenodd" d="M-27.5 -0.2l4.7 -0.4 4.7 0.4 -3 0.4 2.9 0.4 2 0.5 1.4 0.7 1.5 1 0.8 1 0.4 1 0.4 2.4 -0.4 3 -0.6 1.6 -0.6 0.8 -1.4 1.2 -1.5 0.7 -4.8 1.3 1.2 0.4 -2.4 0.2 -3.9 -0.2 1.2 -0.4 -4.3 -1.1 -1.6 -0.6 -1.4 -1 -0.8 -1.3 -0.5 -2.6 0 -3 0.5 -2.4 0.8 -1.3 2 -1.1 2.4 -0.7 3.2 -0.5zM18.1 -0.2l4.7 -0.4 4.7 0.4 -2.9 0.4 2.6 0.4 2 0.5 1.8 0.7 1.2 0.7 0.6 0.6 0.4 1.5 0.3 3.2 -0.3 3.1 -0.4 1.6 -0.6 0.6 -1.4 1 -1.6 0.6 -4.3 1.1 1.2 0.4 -3.9 0.2 -2.4 -0.2 1.2 -0.4 -4.8 -1.3 -1.5 -0.7 -1.3 -1 -0.6 -0.9 -0.6 -1.1 -0.4 -2 -0.1 -2.6 0.5 -1.9 1 -1.5 2 -1.3 2.6 -0.8 3.3 -0.5zM-2.8 0.2l0 -0.2 2 0.7 1 0.1 2.6 -0.8 0.6 2.2 0.1 2 0.4 1 0.2 2.6 0.3 1 0.1 2.4 0.3 0.6 0 3.1 -3 -2 -1 -0.3 -1 -0.1 -2 0.7 -2.6 1.7 0 -3.1 0.3 -0.6 0.1 -2.4 0.3 -1 0.2 -2.6 0.2 -0.4 0.3 -2.6z"/><path fill="#f00" fill-opacity="0.3636" fill-rule="evenodd" d="M-2.8 0.2l0 -0.1 0.5 0.1 1.5 0.9 1 0.1 1 -0.3 1.6 -0.8 0.5 2.1 0.2 2 0.4 1 0.2 2.6 0.3 1 0.1 2.4 0.3 1 0 2.4 -1.6 -1.3 -1.4 -1 -1 -0.4 -1 0 -1 0.2 -1 0.5 -2.6 2 0 -2.8 0.3 -0.6 0.1 -2.4 0.3 -1 0.2 -2.6 0.3 -0.4 0.3 -2.6 0.3 -1zM-25.9 0.8l3.7 -0.2 3.4 0.3 3 0.9 2.3 1.4 0.7 1 0.4 1 0.3 2.6 -0.4 2.4 -0.4 1 -0.7 1 -1.6 1.3 -2 0.9 -2.6 0.6 -3 0.2 -3 -0.1 -2.5 -0.5 -2.1 -0.8 -1.8 -1.4 -0.7 -1.2 -0.4 -2.4 0.1 -2.7 0.4 -2.2 0.6 -0.7 2 -1.3 2 -0.7zM19.8 0.8l4 -0.2 3.4 0.4 2.7 0.8 2.3 1.4 0.6 0.7 0.2 0.9 0.3 3 -0.3 3 -0.2 0.8 -0.6 0.8 -1.4 1.1 -2 0.9 -2.6 0.6 -3 0.2 -3 -0.1 -2.4 -0.5 -2 -0.8 -1.7 -1 -1.2 -1.6 -0.7 -2 -0.1 -2.4 0.7 -2.5 1 -1.2 1.4 -1.1 2 -0.7z"/><path fill="#f00" fill-opacity="0.5357" fill-rule="evenodd" d="M-2.8 0.2l2 1.4 1 0.1 1 -0.4 1.6 -1.1 0.1 1 0.4 1 0.3 2.6 0.2 0.4 0.2 2.6 0.4 1 0.1 2.4 0.3 1 0 2.2 -1.6 -1.6 -1 -0.8 -1.5 -0.8 -0.9 -0.1 -1 0.3 -1.6 1 -2 2 0 -2.2 0.3 -1 0.1 -2.4 0.4 -1 0.2 -2.6 0.2 -0.4 0.3 -2.6 0.4 -1zM-26.6 1.2l3.8 -0.3 3.6 0.3 3 0.9 1.8 1.1 1.3 1.6 0.4 1 0.2 1.4 -0.3 2.6 -0.4 1 -0.7 1 -1.3 1.2 -1.6 0.8 -2.4 0.7 -2.6 0.3 -3 0 -2.4 -0.4 -2.1 -0.6 -1.9 -1.2 -1 -0.9 -0.6 -1.5 -0.3 -3 0.4 -2.4 0.6 -1 1.3 -1.1 2 -0.9zM19.2 1.2l3.6 -0.3 3.4 0.3 3 0.8 2.3 1.2 0.7 0.7 0.5 0.9 0.3 2 -0.1 3 -0.1 0.8 -0.6 1.1 -1.1 1.1 -1.9 1 -2.4 0.7 -2.6 0.3 -3 0 -2.4 -0.4 -2.1 -0.6 -1.7 -1 -1.5 -1.6 -0.7 -1.8 -0.3 -2.2 0.4 -2 0.9 -1.4 1.2 -1 1.8 -0.9z"/><path fill="#f00" fill-opacity="1.0000" fill-rule="evenodd" d="M-2.8 0.8l0 -0.5 1.6 1.5 0.4 0.2 1 0.2 1 -0.4 1.6 -1.5 0.2 1.5 0.3 0.4 0.2 2.6 0.3 0.4 0.2 2.6 0.3 1 0.1 2.4 0.4 1 0 1.9 -1 -1.4 -2 -1.6 -1 -0.5 -1 -0.2 -1 0.4 -2.1 1.4 -1.5 1.9 0 -1.9 0.4 -1 0.1 -2.4 0.3 -1 0.2 -2.6 0.3 -0.4 0.2 -2.6 0.3 -0.4zM-27.2 1.8l3.4 -0.5 3.6 0.1 3 0.8 2.1 1 1.4 1.6 0.5 1 0.2 1 -0.2 2.4 -0.9 2 -1.6 1.6 -1.5 0.7 -2 0.6 -2.6 0.4 -2.4 0 -2.6 -0.4 -2.4 -0.8 -1.6 -0.9 -1.4 -1.6 -0.4 -1 -0.2 -2.6 0.3 -2 0.6 -1 1.2 -1 1.5 -0.8zM18.6 1.8l3.2 -0.5 3.4 0.1 3 0.6 2.5 1.2 1.5 1.5 0.6 1.5 0 3 -0.6 1.6 -1.2 1.4 -1.6 1 -2.2 0.8 -2 0.4 -2.4 0.1 -3 -0.3 -2 -0.5 -2.1 -0.9 -1.5 -1.4 -0.9 -1.6 -0.3 -1.6 0.1 -2 0.6 -1.4 1.1 -1.2 1.4 -1z"/><linearGradient id="gapg" gradientUnits="userSpaceOnUse" x1="0" y1="15.85" x2="0" y2="-1.5"><stop offset="0" stop-color="#f00" stop-opacity="0.84"/><stop offset="0.24" stop-color="#f00" stop-opacity="0.86"/><stop offset="0.32" stop-color="#f00" stop-opacity="0.97"/><stop offset="0.85" stop-color="#f00" stop-opacity="1"/><stop offset="1" stop-color="#f00" stop-opacity="0.8"/></linearGradient><polygon points="-3.20,-1.50 -5.60,15.85 5.60,15.85 3.20,-1.50" fill="url(#gapg)"/></g>
</g>
<polygon points="187.70,163.00 190.20,147.15 226.40,147.15 228.80,163.00" fill="#000" fill-opacity="0.24"/><polygon points="276.30,163.00 273.80,147.15 237.60,147.15 235.20,163.00" fill="#000" fill-opacity="0.24"/>
</g>
<rect x="73.5" y="275.95" width="317.0" height="0.95" fill="#fff"/>
<rect x="73.5" y="32.5" width="317.0" height="245.0" fill="none" stroke="#000" stroke-width="1.10"/>
<line x1="88.50" y1="277.50" x2="88.50" y2="282.90" stroke="#000" stroke-width="1.10"/>
<text x="88.10" y="298.40" font-size="13.89" text-anchor="middle" textLength="19.2" lengthAdjust="spacingAndGlyphs">−2</text>
<line x1="160.50" y1="277.50" x2="160.50" y2="282.90" stroke="#000" stroke-width="1.10"/>
<text x="160.10" y="298.40" font-size="13.89" text-anchor="middle" textLength="19.2" lengthAdjust="spacingAndGlyphs">−1</text>
<line x1="232.50" y1="277.50" x2="232.50" y2="282.90" stroke="#000" stroke-width="1.10"/>
<text x="232.10" y="298.40" font-size="13.89" text-anchor="middle" textLength="8.3" lengthAdjust="spacingAndGlyphs">0</text>
<line x1="303.50" y1="277.50" x2="303.50" y2="282.90" stroke="#000" stroke-width="1.10"/>
<text x="303.10" y="298.40" font-size="13.89" text-anchor="middle" textLength="8.3" lengthAdjust="spacingAndGlyphs">1</text>
<line x1="375.50" y1="277.50" x2="375.50" y2="282.90" stroke="#000" stroke-width="1.10"/>
<text x="375.10" y="298.40" font-size="13.89" text-anchor="middle" textLength="8.3" lengthAdjust="spacingAndGlyphs">2</text>
<line x1="68.10" y1="55.50" x2="73.50" y2="55.50" stroke="#000" stroke-width="1.10"/>
<text x="62.60" y="60.35" font-size="13.89" text-anchor="end" textLength="21.3" lengthAdjust="spacingAndGlyphs">1.5</text>
<line x1="68.10" y1="91.50" x2="73.50" y2="91.50" stroke="#000" stroke-width="1.10"/>
<text x="62.60" y="96.35" font-size="13.89" text-anchor="end" textLength="21.3" lengthAdjust="spacingAndGlyphs">1.0</text>
<line x1="68.10" y1="127.50" x2="73.50" y2="127.50" stroke="#000" stroke-width="1.10"/>
<text x="62.60" y="132.35" font-size="13.89" text-anchor="end" textLength="21.3" lengthAdjust="spacingAndGlyphs">0.5</text>
<line x1="68.10" y1="163.50" x2="73.50" y2="163.50" stroke="#000" stroke-width="1.10"/>
<text x="62.60" y="168.35" font-size="13.89" text-anchor="end" textLength="21.3" lengthAdjust="spacingAndGlyphs">0.0</text>
<line x1="68.10" y1="198.50" x2="73.50" y2="198.50" stroke="#000" stroke-width="1.10"/>
<text x="62.60" y="203.35" font-size="13.89" text-anchor="end" textLength="32.5" lengthAdjust="spacingAndGlyphs">−0.5</text>
<line x1="68.10" y1="234.50" x2="73.50" y2="234.50" stroke="#000" stroke-width="1.10"/>
<text x="62.60" y="239.35" font-size="13.89" text-anchor="end" textLength="32.5" lengthAdjust="spacingAndGlyphs">−1.0</text>
<line x1="68.10" y1="270.50" x2="73.50" y2="270.50" stroke="#000" stroke-width="1.10"/>
<text x="62.60" y="275.35" font-size="13.89" text-anchor="end" textLength="32.5" lengthAdjust="spacingAndGlyphs">−1.5</text>
<text x="232.00" y="317.70" font-size="13.89" text-anchor="middle" textLength="8.2" lengthAdjust="spacingAndGlyphs">y</text>
<text x="20.50" y="155.00" font-size="13.89" text-anchor="middle" textLength="7.3" lengthAdjust="spacingAndGlyphs" transform="rotate(-90 20.50 155.00)">z</text>
<text x="232.00" y="23.60" font-size="16.67" text-anchor="middle" textLength="168.3" lengthAdjust="spacingAndGlyphs">Ey (q-TE symmetric)</text>
<rect x="410.00" y="24.35" width="14.40" height="274.95" fill="url(#cb)"/>
<polygon points="410.00,24.65 417.20,10.60 424.40,24.65" fill="rgb(5,48,97)"/>
<polygon points="410.00,299.30 410.00,24.35 417.20,10.60 424.40,24.35 424.40,299.30" fill="none" stroke="#000" stroke-width="1.10" stroke-linejoin="miter"/>
<line x1="424.40" y1="52.50" x2="430.10" y2="52.50" stroke="#000" stroke-width="1.10"/>
<text x="434.30" y="58.10" font-size="13.89" text-anchor="start" textLength="16.8" lengthAdjust="spacingAndGlyphs">30</text>
<line x1="424.40" y1="88.50" x2="430.10" y2="88.50" stroke="#000" stroke-width="1.10"/>
<text x="434.30" y="94.10" font-size="13.89" text-anchor="start" textLength="16.8" lengthAdjust="spacingAndGlyphs">20</text>
<line x1="424.40" y1="125.50" x2="430.10" y2="125.50" stroke="#000" stroke-width="1.10"/>
<text x="434.30" y="131.10" font-size="13.89" text-anchor="start" textLength="16.8" lengthAdjust="spacingAndGlyphs">10</text>
<line x1="424.40" y1="162.50" x2="430.10" y2="162.50" stroke="#000" stroke-width="1.10"/>
<text x="434.30" y="168.10" font-size="13.89" text-anchor="start" textLength="8.4" lengthAdjust="spacingAndGlyphs">0</text>
<line x1="424.40" y1="198.50" x2="430.10" y2="198.50" stroke="#000" stroke-width="1.10"/>
<text x="434.30" y="204.10" font-size="13.89" text-anchor="start" textLength="27.8" lengthAdjust="spacingAndGlyphs">−10</text>
<line x1="424.40" y1="235.50" x2="430.10" y2="235.50" stroke="#000" stroke-width="1.10"/>
<text x="434.30" y="241.10" font-size="13.89" text-anchor="start" textLength="27.8" lengthAdjust="spacingAndGlyphs">−20</text>
<line x1="424.40" y1="271.50" x2="430.10" y2="271.50" stroke="#000" stroke-width="1.10"/>
<text x="434.30" y="277.10" font-size="13.89" text-anchor="start" textLength="27.8" lengthAdjust="spacingAndGlyphs">−30</text>
<text x="479.10" y="165.02" font-size="13.89" text-anchor="middle" textLength="49.9" lengthAdjust="spacingAndGlyphs" transform="rotate(-90 479.10 165.02)">Re{Ey}</text>
</g>
<g>
<clipPath id="clip1"><rect x="565.5" y="32.5" width="317.0" height="245.0"/></clipPath>
<g clip-path="url(#clip1)">
<g filter="url(#cm)">
<rect x="563.5" y="30.5" width="321.0" height="249.0" fill="#000"/>
<rect x="565.5" y="32.5" width="158.5" height="245.0" fill="#0f0" fill-opacity="0.008"/><g transform="translate(724.00 163.00) scale(1 -1)"><path fill="#f00" fill-opacity="0.0080" fill-rule="evenodd" d="M23.7 -43.2l5.1 -0.3 5 0.3 5 0.8 5.4 1.4 5.6 2 5 2.3 5 2.9 4.4 3.2 4 3.5 3.6 3.6 3.2 4.3 2.5 4 2 4 1.9 5 1.3 5 0.7 5 0.1 5 -0.4 5 -0.9 5 -1.4 4.4 -1.8 4.6 -2.4 4.4 -3.1 4.6 -3.3 3.8 -3.7 3.6 -4.3 3.5 -4.4 3 -4.6 2.4 -5.4 2.4 -5 1.6 -5.6 1.3 -5 0.6 -3.4 0.2 -3.6 -0.1 -3.4 -0.4 -3 -0.6 -2.6 -0.6 -3 -1.2 -2.4 -1.3 -2 -1.5 -2 -1.8 -1.6 -1.9 -1.2 -2 -0.9 -2 -1.5 -5 -0.9 -7 -0.4 -7 -0.2 -10.6 0.1 -25.4 0.7 -11 0.5 -4 0.8 -3.5 1.4 -3.5 1.6 -2.9 2 -2.4 2.6 -2.1 3 -1.7 2.9 -1.3 3.5 -1z"/><path fill="#f00" fill-opacity="0.0091" fill-rule="evenodd" d="M24.7 -34.8l4.5 0 4.6 0.5 4.4 0.8 4.6 1.3 4.4 1.7 4 1.9 4.6 2.7 3.4 2.5 3.6 3.1 2.8 3.1 2.7 3.4 2.1 3.6 1.7 3.4 1.4 4 0.9 4 0.4 4 0.1 4 -0.5 4.6 -0.9 4 -1.3 4 -1.6 3.4 -2.4 4 -2.7 3.6 -2.7 3 -3.6 3.1 -3.4 2.6 -4 2.4 -4 2 -4 1.6 -5 1.6 -4.6 0.9 -4.4 0.5 -3.6 0 -3 -0.1 -3.4 -0.5 -3 -0.8 -3.1 -1 -1.9 -1 -2 -1.3 -2 -1.6 -1.6 -1.5 -1.4 -2.1 -1.3 -2.4 -1 -2.4 -1.3 -5.6 -0.7 -8 -0.3 -7.4 -0.1 -10 0.5 -12.6 0.9 -8 0.7 -3.4 1 -2.8 1.6 -2.9 1.7 -2.3 2.3 -2.2 2.4 -1.7 3 -1.4 3 -1.1 3.6 -0.7z"/><path fill="#f00" fill-opacity="0.0112" fill-rule="evenodd" d="M21.5 -29.8l3.7 -0.3 4 0.1 4.6 0.5 4 0.9 4 1.2 4.4 1.8 4 2 3.6 2.2 2.9 2.2 3.1 2.6 2.6 2.8 2.2 3 1.8 3 1.6 3.6 1.2 3.4 0.7 3.6 0.3 3.4 -0.1 4 -0.5 3.6 -0.8 3.4 -1.3 3.6 -1.5 3 -2.2 3.4 -2.4 3 -2.6 2.8 -3 2.6 -3.6 2.4 -3.4 2.1 -4 1.9 -4 1.4 -4 1.2 -4 0.7 -6 0.5 -3 -0.1 -3 -0.3 -2.6 -0.5 -3 -0.9 -2.4 -1.1 -2 -1.1 -2 -1.4 -1.6 -1.3 -1.4 -1.7 -1.4 -2.2 -1.2 -2.2 -0.7 -2.2 -1.3 -5.5 -0.9 -10.1 0 -14.4 0.9 -10.4 0.8 -3.6 0.8 -3 1.4 -3.2 1.6 -2.3 2 -2.2 2 -1.6 2.4 -1.5 2.6 -1.1 3 -0.9z"/><path fill="#f00" fill-opacity="0.0134" fill-rule="evenodd" d="M20.4 -26.2l3.4 -0.4 4 -0.1 4 0.4 4 0.7 4 1.1 3.4 1.3 3.6 1.7 3.4 1.9 3 2 3 2.4 2.6 2.4 2.1 2.6 2 3 1.5 3 1.2 3 0.7 3 0.5 3.4 0.1 3 -0.3 3.6 -0.6 3 -1.1 3.4 -1.3 3 -1.8 3 -1.8 2.6 -2.3 2.4 -2.7 2.6 -2.8 2.1 -3.4 2.2 -3.6 1.8 -3.4 1.5 -3.6 1.2 -3.4 0.9 -6 0.8 -3 0.1 -3 -0.1 -2.6 -0.4 -3 -0.6 -2.4 -0.8 -2.6 -1.1 -2 -1.2 -2 -1.6 -1.4 -1.4 -1.6 -1.9 -2 -3.8 -1.4 -5 -0.9 -4.7 -0.4 -4.6 -0.1 -13.4 1.2 -9.6 0.6 -3 0.8 -2.4 1.2 -2.8 1.5 -2.2 1.5 -1.8 2 -1.8 2.6 -1.6 2.4 -1.2 3 -1z"/><path fill="#f00" fill-opacity="0.0162" fill-rule="evenodd" d="M21.4 -23.8l3.4 -0.2 3.4 0 3.6 0.4 3.4 0.7 3.6 1 3.4 1.3 3.6 1.6 3.4 2 3 2 2.6 2 2.2 2.2 2.1 2.6 1.7 2.4 1.2 2.6 1.2 3 0.7 3 0.4 3 0 3 -0.3 3 -0.7 3 -1 3 -1.4 3 -1.6 2.4 -1.9 2.6 -2.2 2.2 -2.4 2.1 -3 2.2 -3 1.8 -3 1.5 -3.6 1.5 -3.4 1.1 -3.6 0.8 -6 0.7 -3 0 -3 -0.2 -3 -0.6 -3 -0.9 -2.4 -1 -2 -1.2 -2 -1.4 -1.6 -1.4 -1.4 -1.8 -1.3 -2 -1.8 -4 -1.5 -5.8 -0.4 -3.2 -0.3 -3.4 0 -11.6 1.6 -8.4 0.7 -2.6 1 -2.4 1.1 -2 1.4 -2 1.9 -2.1 2 -1.5 2 -1.2 3 -1.3 3 -0.9z"/><path fill="#f00" fill-opacity="0.0223" fill-rule="evenodd" d="M20.2 -21.2l3 -0.4 3.1 -0.1 2.9 0.2 3.6 0.5 6 1.6 3.4 1.4 3 1.5 3.6 2 2.4 1.7 2.5 2.1 2 1.9 1.7 2 1.6 2.6 1.2 2.4 0.9 2.6 0.6 2.4 0.3 3 0 3 -0.3 2.6 -0.8 3 -0.9 2.4 -1.2 2.6 -1.6 2.4 -2 2.5 -2 1.9 -2.4 2.1 -2.6 1.7 -3 1.8 -3 1.5 -3.4 1.4 -3 0.9 -6 1.2 -3 0.2 -3 0 -3 -0.3 -3 -0.6 -2.6 -0.8 -2.4 -1.1 -2 -1.1 -2 -1.5 -1.6 -1.4 -1.4 -1.8 -1.4 -2 -0.9 -2 -1.7 -5.3 -0.8 -3.3 -0.3 -3 -0.2 -5.4 0.2 -6 0.3 -2 1.4 -5.6 1.4 -3.9 1 -2.1 1.4 -2 1.6 -1.7 2 -1.6 2 -1.3 2.4 -1.2 3 -1zM3.8 0.2l-0.2 0 0.2 2.5 0.2 0.1 0.2 0.4 0 2.5 0.2 -0.5 -0.2 -4 -0.2 -1z"/><path fill="#f00" fill-opacity="0.0271" fill-rule="evenodd" d="M20 -18.8l2.8 -0.3 3 -0.1 3 0.2 3 0.4 3 0.6 3 1 5.4 2.3 6 3.6 4.1 3.3 1.8 2 1.4 2 1.1 2 1 2.6 0.7 2.4 0.3 2.6 0 2.4 -0.2 2.6 -0.5 2.4 -0.9 2.5 -1.1 2.5 -1.3 2 -1.5 2 -1.8 2 -4.1 3.2 -5.4 3.2 -6 2.5 -3 0.8 -3 0.6 -3 0.3 -3 0.1 -3 -0.2 -2.6 -0.4 -3 -0.7 -2.4 -1 -2 -1 -2 -1.3 -2 -1.7 -1.6 -1.7 -2.2 -3.7 -2.2 -5.4 -0.6 -2.6 -0.3 -3.4 -0.1 -5 0.1 -5 0.3 -1.8 3 -8 1 -1.8 1.6 -2 1.4 -1.6 2 -1.6 2 -1.2 2.6 -1.1 2.4 -0.8zM3.8 0.1l-0.5 0.1 0.5 3.1 0.3 0.9 0.1 2.1 0.4 0.5 0.2 2.4 0.2 0 0.1 0.6 0.1 2.9 0.4 0.5 0.2 2.4 0.4 -0.4 0 -0.4 -1.2 -7.6 -0.3 -7z"/><path fill="#f00" fill-opacity="0.0279" fill-rule="evenodd" d="M23.1 -17.2l3.1 -0.1 3 0.2 3 0.5 3 0.8 3 1 3 1.3 6 3.4 2.6 1.7 2 1.7 1.4 1.5 1.5 2 1.2 2 0.8 1.9 0.8 2.5 0.3 2 0.1 2.6 -0.2 2.4 -0.5 2.6 -0.7 2 -2 4 -1.5 2 -1.8 1.8 -2 1.7 -2.4 1.8 -3 1.8 -3.6 1.7 -5.4 2.1 -3 0.7 -3 0.5 -5 0.1 -5 -0.6 -4.6 -1.4 -2 -1 -2 -1.3 -3 -2.6 -2.4 -3.5 -2.6 -5.4 -0.7 -2 -0.3 -2 -0.2 -6.4 0.3 -6 0.5 -1.2 0.8 -1.4 1.6 -4.1 1.7 -2.9 1.3 -1.6 1.6 -1.5 2 -1.5 1.9 -1.2 2.5 -1 2.6 -0.8 2.4 -0.5zM41.8 12.4l-0.5 2.4 0.5 0.3zM43.8 0.2l-0.5 0.6 -0.2 1.4 -0.2 3 0.3 0.3 0.1 -2.3 0.2 -0.4 0.3 -0.3zM3.2 0.1l0.6 3.6 0.2 0.5 0.2 2.4 0.4 1.2 0.2 2 0.3 1 0.1 2.3 0.4 1.1 0.1 1.6 0.3 0 0.6 -0.6 -1.2 -8 -0.2 -3.4 0.3 -3.6 -1.7 -0.3z"/><path fill="#f00" fill-opacity="0.0315" fill-rule="evenodd" d="M23 -15.8l2.8 0 3 0.2 3 0.5 3 0.7 3 1.1 3 1.3 6 3.4 4 2.9 2.6 2.9 1.2 2 0.9 2 0.8 4 0.2 2 -0.2 2.6 -0.4 2 -0.7 2.5 -0.9 1.9 -1.2 2 -1.3 1.8 -1.6 1.6 -2 1.6 -2.4 1.7 -6 3.2 -5.6 2.1 -5.4 1.1 -5 0.2 -4.6 -0.5 -4.5 -1.3 -3.9 -2.1 -3.1 -2.6 -2.5 -3.2 -2.8 -5 -0.5 -1.6 -0.4 -2 -0.3 -6.4 0.1 -3.6 0.3 -2.4 0.6 -1.3 0.9 -0.7 1.5 -3.6 1.6 -2.8 1.6 -1.8 1.4 -1.4 2 -1.4 2 -1.1 4.6 -1.6 2.4 -0.5zM43.2 0.2l-0.3 0 -0.2 1 -0.4 5.6 -1.3 8 -0.1 0.4 0.3 0.3 0.6 -0.2 0.1 -2.5 0.3 -0.6 0.1 -2.4 0.5 -0.9 0.1 -2.7 0.3 -0.5 0.2 -2 0.4 -0.9 0.1 -2.6zM3.2 -0.2l-0.1 0.4 0.4 1.6 0.2 2 0.2 0.4 0.3 2.6 0.4 1 0.2 2.3 0.4 1.7 0 1.8 0.3 0.6 0.2 1.6 0.5 0 0.9 -0.6 -0.9 -5 -0.4 -3.4 -0.1 -3.6 0.5 -3z"/><path fill="#f00" fill-opacity="0.0355" fill-rule="evenodd" d="M22.6 -14.2l5.1 0 5.1 0.8 4.9 1.7 5.1 2.5 5.4 3.3 3.1 2.7 1.1 1.4 1.2 2 0.7 2 0.5 2 0.3 4 -0.7 4 -0.7 2 -1 2 -1.3 2 -1.2 1.4 -1.4 1.4 -2 1.5 -6 3.5 -5 2.2 -5 1.3 -5 0.6 -5 -0.3 -4.6 -1.1 -4 -1.7 -3 -2.1 -2.4 -2.6 -3.8 -5.5 -0.7 -1.6 -0.4 -1.4 -0.4 -4 0 -6 0.4 -3 0.3 -0.7 0.6 -0.3 0.6 2 0.3 2 0.4 1.4 0.1 2 0.4 1 0.1 2 0.4 1.6 0.1 1.9 0.4 2.1 0.2 0.2 0.4 -0.1 0.8 -0.1 0.7 -0.6 -1 -5 -0.4 -4 0.1 -3.4 0.7 -2.6 -3 -0.4 -0.1 -0.6 0.2 -1 0.5 -1.4 1.8 -3 1.3 -1.6 1.4 -1.4 2 -1.5 2 -1.1 4.6 -1.7zM42.2 0.2l-0.3 0 0.1 4 -0.3 3.6 -1.2 7 0 0.4 0.7 0.6 0.6 -0.3 0.2 -2.3 0.2 -0.7 0.2 -2.3 0.4 -1 0.1 -2 0.3 -1.1 0.2 -1.9 0.4 -1.1 0.2 -2.9 -0.2 -0.1z"/><path fill="#f00" fill-opacity="0.0399" fill-rule="evenodd" d="M20.2 -12.8l3.6 -0.3 4 0.1 3.4 0.5 3.6 1 4.4 1.9 7.6 4.3 2 1.3 1.9 1.8 1.6 2.4 1 2.6 0.6 3 -0.1 3.4 -0.6 3 -1.2 3 -1.7 2.6 -2.1 2.1 -4 2.7 -4.4 2.4 -3.6 1.6 -4.9 1.6 -5.1 0.6 -2.4 0 -3 -0.2 -3 -0.6 -2.6 -0.8 -2.4 -1.2 -2 -1.2 -1.6 -1.2 -1.7 -1.8 -2.6 -3.6 -1.7 -1.8 -0.9 -2.2 -0.5 -3 -0.1 -3.4 0.1 -4 0.4 -3 0.6 -0.8 0.6 1.8 0.2 2 0.4 1.4 0.2 2 0.3 1 0.2 2 0.4 1.6 0.1 2 0.4 2 0.2 0.3 2 -0.5 0.4 -0.4 -1.1 -5.4 -0.3 -4 0.2 -3 0.8 -2.6 -3.1 -0.4 0.1 -1.1 0.5 -1.5 0.9 -1.7 1.6 -2 1.4 -1.5 2 -1.4 4 -2 2.6 -0.8zM41.3 0.2l-0.3 0 0.4 3 0 3.6 -1.4 8.4 1.2 0.6 0.6 -0.1 0.7 -5.5 0.3 -0.7 0.1 -2.3 0.3 -0.8 0.2 -2.2 0.4 -0.9 0.4 -3.1 -0.4 -0.2z"/><path fill="#f00" fill-opacity="0.0447" fill-rule="evenodd" d="M21.9 -11.8l3.3 -0.1 3.6 0.3 3.4 0.6 3 1 3.6 1.5 5 3 3.5 1.8 1.5 1.1 1.3 1.4 1.5 2.4 0.9 2.6 0.3 2.4 -0.1 3 -0.7 3 -1 2.6 -1.3 2 -1.9 2 -3 2.1 -6.6 3.4 -3.4 1.6 -3 0.9 -3 0.6 -2.6 0.2 -3 0 -3 -0.3 -3 -0.7 -2.4 -0.9 -2.6 -1.2 -2 -1.4 -1.4 -1.3 -1.6 -1.8 -1.5 -2.2 -1.9 -1.6 -0.7 -1 -0.4 -1 -0.7 -4 0 -6 0.4 -3 0.3 -1 0.2 1 0.4 0.6 0.2 2 0.5 1.4 0.1 2 0.4 1 1 7.6 0.3 0.4 2.3 -0.4 0.5 -0.6 -1.1 -6 -0.1 -3.4 0.2 -2.6 0.7 -3 -3.1 -0.4 0.6 -2 1 -1.6 1.4 -1.9 1.6 -1.4 2 -1.4 2 -1.1 2.4 -1 3 -0.8zM40.2 0.2l-0.1 0 0.6 3 0.1 3 -0.3 3 -0.9 6 0.6 0.6 1 0.1 0.6 -0.1 0.6 -5 0.4 -1.1 0.2 -2.5 0.2 -0.6 0.2 -1.8 0.4 -1.2 0.1 -1.8 0.4 -1.6 -0.5 -0.3z"/><path fill="#f00" fill-opacity="0.0502" fill-rule="evenodd" d="M22.3 -10.8l2.9 0 3.6 0.2 3 0.6 3 0.9 4 1.9 5 3.1 3.4 1.5 2 1.7 1.2 1.7 1 2.4 0.4 2.6 0 3 -0.5 2.4 -0.9 2.6 -1.5 2.4 -1.7 1.8 -2 1.4 -10 5.1 -4.4 1.4 -4.6 0.7 -3 0 -2.4 -0.3 -2.6 -0.5 -2.4 -0.7 -2 -0.9 -2 -1.1 -1.8 -1.3 -1.5 -1.6 -1.5 -2 -0.5 -1.4 0.1 -0.6 1.9 -0.4 0.4 -0.6 -0.8 -5 -0.2 -3.4 0.2 -3.6 0.6 -3 -3 -0.4 0.4 -1 1.1 -2 1.2 -1.6 1.8 -1.6 2 -1.3 2.6 -1.3 2 -0.7 3 -0.7zM39.8 0.2l-0.2 0 0.6 3.6 0.1 3 -0.3 3 -0.8 5.4 0.5 0.5 1.5 0.3 0.6 0 0 -0.2 0.1 -1.6 0.4 -1 0.1 -2 0.4 -1.3 0.2 -2.7 0.3 -0.4 0.1 -2 0.4 -1 0.1 -2 0.4 -1.6 -0.1 -0.1 -0.4 -0.2zM2.7 1.2l0.1 -0.3 0.1 0.9 0.3 0.1 0.4 2.3 0.3 1 0.2 2 0.3 1 0.3 2.6 0.3 1 0.1 2 0.3 1.4 0 1 -0.2 0.3 -1 -0.4 -0.7 -0.9 -0.4 -1 -0.5 -2 -0.4 -5z"/><path fill="#f00" fill-opacity="0.0563" fill-rule="evenodd" d="M22.7 -9.8l3.1 0 3 0.3 3 0.6 2.4 0.8 2.6 1 2 1.1 4.4 3.3 2.6 0.5 1 0.4 1 0.6 0.9 1 1.2 2 0.6 2 0.4 2.4 -0.1 2.6 -0.5 2.4 -0.9 2.6 -1.3 2 -1.3 1.4 -2 1.4 -3 1.2 -4.6 2.6 -2.4 1.2 -4 1.3 -4.6 0.6 -5 -0.1 -4.4 -1 -2.6 -1 -2 -1.1 -1.5 -1.1 -1.6 -1.4 -1.5 -2 -0.4 -1.6 1.7 -0.4 0.3 -0.6 -0.7 -4 -0.2 -4 0.2 -4 0.6 -3 -2.8 -0.4 0.2 -0.6 1.2 -2 1.4 -1.4 1.7 -1.5 2 -1.3 2.5 -1.1 2.5 -0.8 2.4 -0.6zM39.2 0.2l0.5 3 0.2 3.6 -0.3 4 -0.7 4.4 0.4 0.6 1.9 0.3 0.6 0 0.2 -1.9 0.3 -1 0.1 -2 0.4 -1 0.1 -2 0.4 -1.4 0.1 -2 0.4 -1 0.2 -2 0.4 -1.6 -0.2 -0.3 -0.4 -0.1zM3.2 2.2l0.4 2.6 0.3 0.4 0.8 6 0.2 0.6 0.2 2.4 0.3 1 -0.2 0.9 -0.8 -0.3 -0.7 -1 -0.5 -1.6 -0.4 -1.9 -0.3 -3.5 0.1 -3 0.2 -1.6z"/><path fill="#f00" fill-opacity="0.0597" fill-rule="evenodd" d="M21.7 -8.8l3.1 -0.1 3 0.2 2.4 0.4 3 0.8 3 1.2 2.6 1.4 2 1.7 1.4 1.4 0.2 0.6 0 1 -3.6 0.4 0.6 3 0.1 3.6 -0.2 3.4 -0.7 5 0.3 0.6 0.3 0.1 2 0.3 0.6 0 0.1 -0.4 0.5 -4.6 0.4 -1 0.7 -5.4 0.3 -1 0.2 -2 0.4 -1 0 -0.6 -0.3 -1 0.1 -0.3 0.6 -0.4 1 0 1 0.5 0.9 0.8 1.1 1.4 0.8 2 0.4 2 0.1 2.6 -0.4 2.4 -0.8 2.6 -1 2 -1.3 1.4 -1.2 1 -1.2 0.7 -3 0.8 -3.4 2.3 -3 1.6 -4 1.3 -4 0.7 -5 -0.1 -4.6 -0.9 -4 -1.6 -2 -1.3 -1.4 -1.3 -1.4 -1.6 -0.7 -1.6 1.6 -0.4 0.2 -0.6 -0.6 -3.4 -0.3 -4.6 0.2 -4 0.6 -3 -2.5 -0.4 0.9 -1.6 1.4 -1.6 1.6 -1.3 2 -1.3 2 -1 2.4 -0.9zM3.1 3.2l0.1 -0.4 0.2 2 0.4 0.4 0.2 2.6 0.4 1 0.2 2.4 0.3 0.6 0.1 2.4 0.3 1 -0.1 0.7 -1 -0.9 -0.4 -0.7 -0.7 -3.1 -0.3 -3.9z"/><path fill="#f00" fill-opacity="0.0635" fill-rule="evenodd" d="M20.2 -7.8l3 -0.3 3 0.1 3 0.3 3 0.7 3 1.1 2.6 1.3 2.3 1.8 1.2 1.6 0.4 1 -3.2 0.4 0.6 3 0.1 4 -0.2 4 -0.7 4 0.3 0.6 1.9 0.4 0.1 1 -0.7 1 -1.1 1 -2.6 1.8 -3.4 1.5 -4 1 -4 0.4 -4 -0.3 -4 -0.9 -3.6 -1.6 -3 -2.1 -1.7 -2.2 -0.3 -0.6 1.5 -0.4 0.1 -0.6 -0.7 -4 -0.3 -3.9 0.3 -4.1 0.6 -3 -2.2 -0.4 2 -2.6 2.7 -2.1 3.6 -1.7zM44.7 -0.8l0.5 -0.1 1 0.2 1 0.8 0.9 1.1 0.6 1.6 0.4 1.4 0.3 2 -0.1 2 -0.7 3.6 -1.6 3 -0.8 1 -1.2 1 -1.2 0.5 -1 0.2 -0.8 -0.3 -0.3 -0.4 0.7 -3.6 0.1 -2 0.3 -1 0.1 -2 0.4 -1.4 0.2 -2 0.4 -1 0.1 -2 0.4 -1 0 -1zM3.6 5.2l0.2 0 0.2 2.6 0.4 1 0.1 2.4 0.3 0.6 0.1 3 -0.1 0.3 -0.8 -1.3 -0.7 -3 -0.2 -3.6 0.2 -1.5z"/><path fill="#f00" fill-opacity="0.0678" fill-rule="evenodd" d="M22 -7.2l2.8 -0.2 3 0.2 3 0.6 2.4 0.7 2.6 1.1 2.4 1.5 1.8 1.5 1 1.6 -2.8 0.4 0.6 3 0.2 4 -0.3 4.5 -0.6 3.5 0.1 0.6 1.7 0.4 -0.2 0.6 -0.5 1 -1.4 1.3 -2 1.3 -2 1 -3.6 1.1 -3.4 0.5 -4 0.1 -3.6 -0.5 -3.4 -1 -3 -1.5 -2.6 -2 -1.4 -1.9 1.2 -0.4 0.1 -0.6 -0.7 -3.4 -0.3 -4.6 0.2 -4 0.7 -3 -2 -0.4 2.2 -2.5 1.6 -1.1 2 -1.2 4 -1.5zM44.6 -0.2l0.2 -0.3 0.4 0 1 0.4 0.9 0.9 0.6 1 0.9 3 0.1 3.4 -0.7 3 -1.4 3 -0.8 1.1 -1 0.9 -1 0.5 -1 0.2 -0.6 -0.2 -0.2 -0.5 0 -1.4 0.4 -1.6 0.1 -2 0.3 -1 0.8 -5.4 0.3 -1 0.2 -2 0.2 -0.6zM3.7 5.8l0.3 2.4 0.3 0.6 0.1 2.4 0.4 0.6 0 2.9 -0.5 -1 -0.7 -2.9 0 -2 -0.2 -1.6z"/><path fill="#f00" fill-opacity="0.0727" fill-rule="evenodd" d="M19.6 -6.2l3.2 -0.5 3 0 3 0.3 3 0.7 2.4 0.9 2.6 1.2 2 1.5 1.4 1.7 0.2 0.2 -2.4 0.4 0.6 3 0.2 4 -0.3 4.6 -0.7 3.4 0.1 0.6 1.4 0.4 -1 1.6 -1.5 1.2 -3 1.7 -4 1.2 -4 0.5 -4 -0.1 -4 -0.7 -3.6 -1.4 -3 -1.9 -1.9 -2.1 1 -0.4 0.1 -0.6 -0.8 -3.4 -0.3 -4.6 0.3 -4 0.7 -3 -1.7 -0.4 2.2 -2.2 2.4 -1.7 3 -1.3zM44.6 0.2l0.2 -0.4 1 0.2 0.7 0.8 0.6 1 0.9 3 0.1 3.4 -0.7 3 -1.1 2.6 -0.7 1 -1.1 1 -0.7 0.4 -1 0.3 -0.6 -0.3 -0.1 -1.4 0.3 -1.6 0.1 -2 0.4 -1 0.1 -2 0.4 -1.4 0.2 -2 0.3 -1 0.2 -2 0.3 -0.6zM4 8.8l0.3 0 -0.1 2.9 -0.2 -0.5 -0.2 -1zM4.4 12.2l0.4 -0.4 0 2.4z"/><path fill="#f00" fill-opacity="0.0784" fill-rule="evenodd" d="M20.2 -5.8l3 -0.3 3 0.1 3 0.3 2.6 0.6 2.4 0.9 2.6 1.3 1.5 1.1 1.4 1.6 -2 0.4 0.7 3 0.2 4 -0.3 4 -0.8 4 0.1 0.6 1.1 0.4 -0.9 1.3 -1.6 1.2 -3 1.5 -3.4 1.1 -4 0.5 -3.6 0 -4 -0.7 -3 -1 -3 -1.7 -2.4 -2.2 0.8 -0.4 0 -0.6 -0.5 -2 -0.4 -2.4 -0.2 -5 0.4 -3 0.7 -2.6 -1.4 -0.4 2 -2 2.6 -1.5 3 -1.2zM44.6 0.2l0.2 -0.3 0.8 0.3 0.8 1 0.6 1.6 0.6 3 -0.2 3 -0.7 3 -1.4 2.4 -1.5 1.6 -1 0.4 -0.6 0 -0.1 -1.4 0.4 -1.6 0.1 -2 0.3 -1 0.1 -2 0.4 -1.4 0.2 -2 0.4 -1 0.1 -2 0.3 -0.6z"/><path fill="#f00" fill-opacity="0.0851" fill-rule="evenodd" d="M20.6 -5.2l2.6 -0.3 2.6 0 3 0.3 2.4 0.6 2.6 0.8 2 1 2 1.3 1.3 1.3 -1.7 0.4 0.8 3 0.2 4 -0.3 4 -0.8 4.6 0.8 0.4 -0.9 1 -1.4 1.1 -3 1.5 -3.6 1 -3.4 0.5 -3.6 -0.1 -3.4 -0.5 -3.6 -1.2 -2.4 -1.3 -2.4 -2 0.6 -0.4 -1 -4.6 -0.3 -5 0.4 -3.4 0.8 -2.6 -1.2 -0.4 2.1 -1.7 2.4 -1.5 3 -1.1zM44.7 0.2l0.1 -0.2 0.4 0.2 0.5 0.6 1 2.4 0.4 2.6 -0.2 3 -0.6 2.4 -1.1 2.6 -1.4 1.4 -0.7 0.5 -0.9 0.3 -0.1 -1.2 0.3 -1 0.2 -2.6 0.3 -1 0.2 -2 0.3 -1 0.3 -2.4 0.3 -1 0.2 -2 0.3 -0.6z"/><path fill="#f00" fill-opacity="0.0930" fill-rule="evenodd" d="M20.7 -4.8l2.5 -0.2 2.6 0 2.4 0.3 2.6 0.5 2.4 0.8 2 0.9 1.6 0.9 1.7 1.4 -1.4 0.4 0.8 2.6 0.3 3.4 -0.3 5 -1 4.6 0.7 0.4 -1.8 1.6 -2.6 1.3 -3.4 1.1 -3.6 0.5 -3.5 0 -2.9 -0.3 -3.6 -1 -3 -1.4 -2.2 -1.8 0.3 -0.4 -0.7 -2 -0.4 -2 -0.3 -5 0.4 -4 0.9 -2.6 -0.9 -0.4 1.9 -1.5 2.6 -1.4 3 -1zM44.7 0.2l0.3 0 0.3 0.6 1.1 3 0.2 2.5 -0.1 2.5 -0.6 2.4 -0.9 2 -1.2 1.6 -1.6 1.1 0 -1.1 0.3 -1 0.1 -2.6 0.3 -0.4 0.2 -2.6 0.3 -1 0.3 -2.4 0.2 -0.6 0.3 -2.4 0.4 -0.6z"/><path fill="#f00" fill-opacity="0.1026" fill-rule="evenodd" d="M20.6 -4.2l4.6 -0.3 2.6 0.2 2.4 0.4 4 1.4 2 1.1 1.6 1.2 -1 0.4 0.6 1.6 0.5 2.4 0.1 2.6 -0.1 3 -0.5 3.4 -0.8 2.6 0.4 0.4 -0.8 0.7 -2.4 1.4 -3 1.2 -3.5 0.6 -3.5 0.2 -3.6 -0.3 -3.4 -0.9 -3 -1.3 -2.3 -1.6 0.2 -0.4 -1.1 -3 -0.5 -4.6 0 -2.4 0.3 -2.6 0.4 -1.4 0.8 -1.6 -0.7 -0.4 1.9 -1.3 2.4 -1.3 2.6 -0.9zM44.7 0.8l0.1 -0.5 0.3 0.5 0.9 3 0.2 2.4 -0.2 2.6 -0.4 2 -1.1 2.4 -0.7 1 -1.6 1.6 0 -1 0.3 -1 0.1 -2.6 0.3 -0.4 0.2 -2.6 0.4 -1 0.1 -2 0.4 -1 0.2 -2.4 0.4 -0.6z"/><path fill="#f00" fill-opacity="0.1143" fill-rule="evenodd" d="M20.3 -3.8l2.5 -0.2 2.4 -0.1 4.6 0.6 4 1.3 2 1 1.4 1 -0.8 0.4 0.6 1 0.5 2 0.3 2.6 0 3 -0.4 3.4 -0.6 2 -0.7 1.6 0.3 0.4 -0.2 0.1 -2.4 1.6 -3 1.1 -3 0.6 -3.6 0.3 -3.4 -0.3 -3 -0.6 -3 -1.2 -2.7 -1.6 0.2 -0.4 -1.1 -1.7 -0.4 -1.7 -0.5 -4.2 0 -2.4 0.3 -2.6 0.6 -1.9 0.9 -1.1 -0.6 -0.4 1.7 -1.2 2.6 -1.1zM44.7 0.8l0.1 -0.2 0.1 0.2 0.1 0.4 -0.2 0.6 0.7 1.4 0.2 1 0.1 2.6 -0.3 2.4 -0.3 1.6 -1.1 2.4 -0.7 1 -1.2 1.2 0 -0.8 0.3 -0.4 0.1 -0.4 0.1 -2.6 0.3 -0.4 0.1 -2.6 0.3 -0.4 0.2 -2.6 0.4 -1 0.2 -2.4 0.4 0z"/><path fill="#f00" fill-opacity="0.1290" fill-rule="evenodd" d="M19.9 -3.2l4.3 -0.4 4.6 0.3 2.4 0.6 2 0.7 3.3 1.8 -0.6 0.4 0.9 1.1 0.5 1.9 0.3 2.6 0 3 -0.6 4 -0.5 1.4 -1 1.6 0.2 0.4 -2.5 1.5 -2.4 0.9 -3.1 0.6 -3.5 0.2 -3.4 -0.2 -3 -0.7 -2.6 -0.9 -2.5 -1.4 0.2 -0.4 -1.1 -1.4 -0.6 -1.1 -0.6 -3.1 -0.1 -4.4 0.3 -2 0.4 -1.8 0.6 -1 0.9 -0.8 -0.5 -0.4 0.6 -0.4 3.4 -1.7zM44.2 2.2l0 -0.1 0.6 0.3 0.5 1.4 0.1 4 -0.3 2 -0.5 1.4 -1.1 2.6 -0.7 0.7 -0.1 -3.3 0.3 -0.4 0.2 -2.6 0.3 -0.4 0.2 -2.6 0.4 -1z"/><path fill="#f00" fill-opacity="0.1481" fill-rule="evenodd" d="M19.4 -2.7l4.4 -0.5 4.4 0.3 4 0.9 3.7 1.8 -0.7 0.4 1 0.9 0.8 1.7 0.4 2.4 0 3 -0.2 2.6 -0.4 2.2 -0.6 1.2 -1.4 1.6 0.3 0.4 -2.3 1.2 -2.6 0.9 -3 0.6 -3 0.1 -3 -0.2 -2.4 -0.4 -3 -1 -2.4 -1.2 0.2 -0.4 -1.9 -2 -0.5 -1.2 -0.3 -1.8 -0.2 -4.6 0.5 -3.4 0.6 -1.2 1.6 -1.4 -0.6 -0.4 3 -1.5zM44.2 2.8l0 -0.5 0.4 0.5 0.4 1 0 4 -0.6 3 -0.9 2.4 -0.7 1 -0.1 -3 0.4 -0.4 0.1 -2.6 0.3 -0.4 0.2 -2.6 0.3 -0.4z"/><path fill="#f00" fill-opacity="0.1739" fill-rule="evenodd" d="M22 -2.8l3.2 0 3.6 0.3 3.4 0.9 3 1.4 -0.7 0.4 1.7 1.5 0.7 1.5 0.3 2.6 0.1 2.4 -0.3 2.6 -0.4 2 -0.8 1.4 -1.7 1.6 0.3 0.4 -2.6 1.2 -3.6 0.9 -3.4 0.4 -3.6 -0.2 -4 -0.9 -3 -1.3 -0.1 -0.1 0.2 -0.4 -1.7 -1.6 -0.8 -1 -0.6 -2 -0.4 -3.4 0.3 -3.6 0.7 -2 0.8 -1 1.5 -1 -0.6 -0.4 0.7 -0.5 3.6 -1.3zM44.2 2.8l0.5 1 -0.2 1.4 0.3 1.6 -0.1 1 -0.6 3 -1.3 3.1 0 -2.6 0.3 -0.5 0.1 -2.6 0.4 -0.4 0.2 -2.7 0.3 -0.3z"/><path fill="#f00" fill-opacity="0.2105" fill-rule="evenodd" d="M20.8 -2.3l2.4 -0.2 3 0.1 2.6 0.3 2.4 0.6 3.2 1.3 -0.7 0.4 1.5 1 1 1 0.6 1.6 0.3 2.4 -0.1 2.6 -0.2 2.3 -0.6 1.7 -0.4 0.8 -2.4 2.2 0.3 0.4 -2.9 1.2 -3.1 0.6 -3.5 0.3 -3.4 -0.3 -3 -0.6 -3 -1.2 0.2 -0.4 -1.8 -1.6 -1 -1 -0.4 -0.8 -0.4 -1.2 -0.4 -3 0.2 -3 0.6 -2.3 1.4 -1.6 1.7 -1.1 -0.7 -0.4 3 -1.3zM43.7 5.8l0.1 -0.5 0.4 0.4 0.3 1.5 -0.3 1 -0.2 2 -0.2 0.7 -0.6 0.4 0 -2.5 0 -0.6 0.4 -0.4zM42.7 11.8l0.1 -0.2 0.3 0.2 0 0.4 -0.3 1.4z"/><path fill="#f00" fill-opacity="0.2667" fill-rule="evenodd" d="M19.8 -1.8l2.4 -0.3 3 0 2.6 0.2 2.4 0.5 3.5 1.2 -0.9 0.4 1.8 1 1.2 1.1 0.5 0.9 0.5 2 0.1 3 -0.3 2.6 -0.4 1.2 -0.4 1 -1.2 1.2 -2 1.6 0.3 0.4 -2.7 1 -3.4 0.6 -3.6 0.1 -3 -0.3 -2.4 -0.6 -2.3 -0.8 0.3 -0.4 -2.1 -1.6 -1.3 -1.4 -0.6 -1.3 -0.5 -2.7 0 -2.6 0.5 -2.4 0.5 -1 1 -1 2.4 -1.6 -0.8 -0.4 2.3 -0.9zM43.7 5.8l0.1 -0.2 0.1 0.2 0.3 1 -0.1 1 -0.3 0.4zM43.2 8.8l0 -0.3 0.5 0.3 0.1 0.4 -0.2 1.6 -0.4 0.3z"/><path fill="#f00" fill-opacity="0.3636" fill-rule="evenodd" d="M22.4 -1.8l2.8 0 2.6 0.2 4.4 1.1 0.7 0.3 -1 0.4 2.3 1.3 1 0.7 0.7 1 0.6 1.6 0.2 2 -0.1 2 -0.4 2.3 -0.5 1.1 -0.9 1.4 -3 2.2 0.3 0.4 -2.9 0.9 -3.4 0.5 -3.6 -0.1 -3 -0.4 -2.8 -0.9 0.3 -0.4 -2.9 -2 -1.6 -2 -0.6 -2 -0.1 -3 0.3 -2 1 -1.9 1.8 -1.7 2 -1 -0.9 -0.4 3.1 -1zM43.7 6.2l0.3 0.6 -0.2 1.1zM43.2 8.8l0.3 1 -0.3 1z"/><path fill="#f00" fill-opacity="0.5357" fill-rule="evenodd" d="M20.7 -1.2l2.5 -0.3 3 0.1 3 0.4 2.6 0.7 0.2 0.1 -1.1 0.4 1.9 0.8 1.2 0.8 1.1 1 0.7 0.9 0.4 1.4 0.2 1.7 -0.1 2.4 -0.3 1.6 -0.7 1.4 -1.1 1.3 -1 0.9 -2.4 1.4 0.4 0.4 -3 0.8 -3 0.3 -3.4 -0.1 -3 -0.5 -1.5 -0.5 0.3 -0.4 -3.3 -2 -1.5 -1.9 -0.9 -2.1 -0.2 -2 0.2 -2 0.7 -2 0.8 -1 1.1 -1 1.3 -0.8 1.8 -0.8 -1 -0.4z"/><path fill="#f00" fill-opacity="1.0000" fill-rule="evenodd" d="M19.4 -0.8l2.4 -0.3 2.4 -0.1 2.6 0.1 2.4 0.4 2 0.5 -1.3 0.4 2.7 1 1.6 1.2 0.8 0.8 0.8 1.4 0.4 2.6 -0.1 1.6 -0.3 1.7 -0.6 1.3 -1 1.3 -1.4 1.2 -3 1.5 0.5 0.4 -3.1 0.7 -3 0.1 -3 -0.1 -3 -0.7 0.4 -0.4 -2.8 -1.4 -1.5 -1.2 -1.2 -1.4 -0.8 -2 -0.3 -2.6 0.4 -2 0.7 -1.4 1.3 -1.6 1.8 -1.1 2.4 -0.9 -1.2 -0.4z"/><path fill="#0f0" fill-opacity="0.0080" fill-rule="evenodd" d="M-32.9 -43.2l3.7 -0.3 3.4 0.1 3.6 0.3 3 0.5 3.4 1 2.6 1 2.4 1.4 2 1.4 1.6 1.3 1.4 1.7 1.6 2.3 1 2 0.8 2.3 0.8 3 0.9 7 0.4 7 0.2 11.4 -0.1 25 -0.7 11 -0.6 4 -0.9 3.6 -1.3 3.4 -1.5 2.6 -2 2.4 -2.6 2.1 -3 1.8 -3.4 1.4 -4 1 -4 0.5 -5 0.2 -5 -0.4 -5 -0.8 -5.6 -1.5 -5.4 -2 -5 -2.4 -4.6 -2.7 -4.4 -3.3 -4 -3.5 -3.6 -3.7 -3.1 -4.1 -2.5 -4 -2.3 -4.6 -1.8 -5 -1.2 -5 -0.7 -5 -0.1 -5 0.3 -4.4 0.8 -4.6 1.5 -5 1.8 -4.4 2.4 -4.6 2.8 -4 3.3 -4 3.8 -3.7 4 -3.2 5 -3.4 4.6 -2.4 5 -2.1 5.4 -1.8 5 -1.2z"/><path fill="#0f0" fill-opacity="0.0091" fill-rule="evenodd" d="M-29.6 -34.8l3.4 0 3.4 0.2 3 0.5 3 0.7 3 1.1 2.6 1.2 2 1.3 2 1.8 1.4 1.7 1.4 2.1 1.2 2.2 0.8 2.2 1.2 5.6 0.7 7.4 0.4 7.6 0 6.4 -0.1 8.6 -0.3 7 -0.4 4.4 -0.5 4 -0.8 3.7 -1.1 2.8 -1.2 2.5 -1.7 2.5 -2 2 -2.6 1.8 -3 1.6 -3 1 -4 0.9 -4 0.5 -4.4 0 -4.6 -0.5 -4.4 -0.8 -4.6 -1.3 -4.4 -1.8 -4.6 -2.2 -4 -2.4 -3.4 -2.6 -3.6 -3.1 -2.7 -3 -2.7 -3.6 -2.1 -3.4 -1.9 -4 -1.3 -4 -0.9 -4 -0.4 -4 -0.1 -4 0.5 -4.6 0.9 -4 1.4 -4 1.7 -3.4 2.1 -3.6 2.7 -3.4 2.8 -3 3.4 -3 3.6 -2.7 4.6 -2.7 4 -1.9 4 -1.5 5 -1.5 4.4 -0.8z"/><path fill="#0f0" fill-opacity="0.0112" fill-rule="evenodd" d="M-31.9 -29.8l6.1 -0.3 3 0.2 3 0.4 5 1.4 2.6 1.1 2 1.2 2 1.5 1.4 1.4 1.6 1.9 1 1.6 1 2.1 0.8 2.5 1.2 5.6 1 10.2 -0.1 14.2 -0.9 10.1 -0.8 3.9 -1 3 -1.2 2.9 -1.6 2.3 -2 2.2 -2 1.6 -2.4 1.5 -3 1.3 -3 0.9 -3 0.5 -4 0.4 -4 -0.1 -4.6 -0.5 -4 -0.9 -4 -1.2 -4 -1.6 -4 -2 -4 -2.5 -3 -2.2 -3 -2.8 -2.5 -2.8 -2.2 -3 -2 -3.4 -1.6 -3.6 -1.1 -3.4 -0.7 -3.6 -0.3 -3.4 0 -3.6 0.5 -3.5 0.8 -3.5 1.3 -3.4 1.7 -3.6 2 -3 2.4 -3 2.7 -2.7 3 -2.5 3.6 -2.4 4 -2.3 4 -1.8 4 -1.4 4 -1.1z"/><path fill="#0f0" fill-opacity="0.0134" fill-rule="evenodd" d="M-32.2 -26.2l6 -0.5 5.4 0.4 5 1.2 2.6 1 2 1 3.4 2.6 1.6 1.6 1.4 2.1 1 1.8 1 2.2 1.2 5 1.2 9 0 12.6 -0.3 4 -0.6 4.4 -0.7 3.6 -1 2.9 -1.2 2.9 -1.4 2.2 -1.6 1.9 -2 1.8 -2 1.3 -2.6 1.3 -3 1 -3 0.8 -3.4 0.4 -4 0.1 -4 -0.3 -3.6 -0.6 -4 -1 -4 -1.5 -3.4 -1.6 -4 -2.2 -3 -2 -3 -2.5 -2.6 -2.5 -2.3 -3 -1.9 -3 -1.5 -3 -1.1 -3 -0.8 -3.4 -0.5 -3.6 0 -3 0.4 -3.4 0.6 -3 1 -3 1.4 -3 1.9 -3 1.9 -2.6 2.5 -2.5 3 -2.5 3 -2.2 3.4 -2 4 -1.9 4 -1.6 4 -1.1z"/><path fill="#0f0" fill-opacity="0.0162" fill-rule="evenodd" d="M-30.5 -23.8l3.3 -0.2 3 0 5.4 0.7 3 0.8 2.6 1 2 1 2 1.4 1.4 1.3 1.6 1.6 1.4 2.1 1 1.9 1.6 4.3 1.5 7.7 0.2 2.4 0.1 5 -0.3 8.6 -0.5 3.6 -0.9 3.8 -0.8 2.6 -1 2.4 -1.3 2.3 -1.6 2 -1.4 1.5 -2 1.5 -2.6 1.5 -2.4 1 -3 0.9 -2.6 0.5 -3.4 0.3 -3.6 0 -3.4 -0.3 -4 -0.8 -4 -1.2 -3.6 -1.3 -3.4 -1.7 -3 -1.8 -3 -2.1 -2.7 -2.3 -2.5 -2.4 -1.9 -2.6 -1.6 -2.4 -1.4 -3 -1 -3 -0.7 -3 -0.3 -3 0 -3 0.4 -3 0.7 -3 1.2 -3 1.2 -2.6 1.7 -2.4 2.1 -2.6 2.2 -2.2 3 -2.3 3.6 -2.3 3.4 -1.9 3.6 -1.5 4 -1.4 3 -0.7z"/><path fill="#0f0" fill-opacity="0.0223" fill-rule="evenodd" d="M-31.3 -21.2l3.1 -0.4 3 -0.1 5.4 0.5 2.6 0.6 2.4 0.8 2.6 1.1 2 1.2 3.2 2.7 1.2 1.6 1.3 2 1.7 3.9 1.8 7.1 0.3 2 0.1 4.4 -0.2 8.6 -1.1 5.4 -1.9 5.2 -1 1.9 -1.4 2.2 -1.6 1.6 -1.4 1.4 -2 1.3 -2 1.1 -2.6 1 -2.4 0.7 -3 0.5 -3.6 0.3 -3.4 -0.1 -3.6 -0.4 -3.4 -0.8 -3.6 -1 -3.4 -1.4 -3.6 -1.8 -3 -1.8 -3 -2.2 -2.4 -2.1 -1.8 -2 -1.9 -2.6 -1.7 -3 -1 -2.5 -0.9 -2.9 -0.4 -3 -0.2 -2.5 0.2 -2.5 0.5 -3 0.8 -2.6 1.1 -2.4 1.4 -2.6 1.9 -2.4 2 -2.1 2.4 -2.1 3 -2.1 3.6 -2 3.4 -1.7 3.6 -1.4 3.4 -1zM-3.8 0.2l-0.2 0 -0.2 1 -0.2 4 0.2 0.5 0 -2.4 0.2 -0.5 0.2 -0.1 0.2 -2.5z"/><path fill="#0f0" fill-opacity="0.0271" fill-rule="evenodd" d="M-31 -18.8l5.8 -0.4 3 0.2 2.4 0.3 4.6 1.2 2.4 1.1 2 1.1 3 2.4 2.6 3.1 1.5 3 2.5 7 0.3 2.6 0.1 4 -0.3 7.4 -0.7 3.6 -2.2 5.4 -2.2 3.7 -1.6 1.7 -1.4 1.3 -2 1.4 -2 1.1 -4.6 1.6 -3 0.6 -3.4 0.3 -3 0 -3.6 -0.4 -3 -0.6 -3.4 -1 -3.6 -1.4 -3 -1.4 -5.4 -3.4 -2.6 -2 -2 -2 -1.5 -1.9 -1.6 -2.6 -1.1 -2.4 -1 -3 -0.5 -2.6 -0.2 -2.9 0.2 -2.5 0.5 -2.6 0.7 -2.4 1.2 -2.6 1.2 -2 1.6 -2 2.1 -2 2.4 -1.9 2.6 -1.7 3.4 -2 6 -2.6 3.6 -1.1zM-4.2 0.2l-0.5 0 -0.3 7 -1.2 7.6 0 0.4 0.4 0.4 0.2 -2.4 0.4 -0.5 0.1 -2.9 0.1 -0.6 0.2 0 0.2 -2.4 0.4 -0.5 0.1 -2.1 0.3 -0.9 0.5 -3.1 -0.5 -0.1z"/><path fill="#0f0" fill-opacity="0.0279" fill-rule="evenodd" d="M-27.3 -17.2l4.5 0 4.6 0.7 4.4 1.5 3.6 1.9 3 2.7 2 2.6 1.2 2.6 1.4 3.4 1.1 2 0.3 1.6 0.2 7 -0.4 6 -0.6 2 -0.8 1.8 -2.6 5.2 -1.4 1.7 -1.4 1.6 -2 1.6 -2 1.3 -2 1 -2.6 0.9 -5 1 -3 0.1 -3 0 -3.4 -0.5 -3 -0.7 -3 -1 -3 -1.2 -3.6 -1.7 -3 -1.8 -2.4 -1.8 -2 -1.7 -1.8 -1.8 -1.5 -2 -2 -4 -0.8 -2.6 -0.4 -2.4 -0.2 -2.6 0.2 -2.4 0.4 -2 0.7 -2.6 1 -2 1.2 -2 1.6 -2 1.6 -1.4 2.4 -1.9 3 -2 3.6 -1.9 3 -1.4 3 -1.1 3 -0.9 3 -0.5zM-5.2 0.2l-0.3 0 0.3 3.6 -0.2 3.4 -1.2 8 0.8 0.6 0.2 -1.6 0.4 -1.1 0.1 -2.3 0.3 -1 0.2 -2 0.4 -1.2 0.2 -2.4 0.2 -0.5 0.2 -1.9 0.4 -1.6 0 -0.1 -0.6 -0.2zM-43.8 0.2l0 2.3 0.3 0.3 0.2 0.4 0.1 2.3 0.3 -0.3 -0.2 -3 -0.2 -1.4zM-41.8 12.4l0 2.7 0.5 -0.3z"/><path fill="#0f0" fill-opacity="0.0315" fill-rule="evenodd" d="M-27.2 -15.8l4.4 0.1 4.6 0.6 4 1.3 3.4 1.9 2.6 2 2.2 2.7 1.4 2.4 1.5 3.6 0.9 0.7 0.4 0.7 0.4 1.6 0.2 6.4 -0.1 3.6 -0.3 2.4 -0.4 1.6 -0.8 1.7 -3 5.1 -1.4 1.9 -1.6 1.5 -3.4 2.5 -2 1 -2.6 0.9 -4.4 0.9 -3 0.2 -3 0 -3 -0.4 -3 -0.6 -3 -0.9 -3 -1.2 -6.6 -3.5 -2.4 -1.7 -1.9 -1.4 -1.7 -1.8 -1.3 -1.8 -1.2 -2 -0.9 -2 -0.7 -2.4 -0.4 -2 -0.2 -2.6 0.2 -2 0.8 -4 0.9 -2 1.2 -2 2.6 -2.9 2.6 -1.9 3 -1.9 3.4 -2 3 -1.4 3 -1.2 3 -0.8zM-5.8 0.2l-0.4 0 0.5 3 -0.1 4 -0.4 3 -0.9 5 0.6 0.5 0.7 0.2 0.3 -1.7 0.3 -0.6 0 -1.8 0.4 -1.7 0.2 -2.4 0.4 -0.9 0.3 -2.6 0.2 -0.4 0.2 -2 0.4 -1.6 -0.1 -0.4 -0.6 0zM-43.8 0.2l-0.1 0 0.2 2.6 0.3 1 0.2 1.9 0.3 0.6 0.1 2.6 0.5 0.9 0.1 2.4 0.3 0.6 0.1 2.5 0.6 0.2 0.3 -0.3 -0.1 -0.4 -1.3 -8 -0.4 -5.6 -0.2 -1z"/><path fill="#0f0" fill-opacity="0.0355" fill-rule="evenodd" d="M-27.4 -14.2l3.2 -0.1 3.4 0.2 3 0.6 3 1 2.6 1.2 2.4 1.6 2 1.9 1.6 1.8 1.5 2.8 0.5 1.4 0.2 1 -0.1 0.6 -3 0.4 0.6 2 0.3 3 -0.4 4.6 -1.1 5.4 0.7 0.6 1.2 0.2 0.2 -0.2 0.4 -2 0.1 -2 0.4 -1.6 0.1 -2 0.4 -0.9 0.1 -2.1 0.4 -1.4 0.3 -2 0.4 -1.6 0.2 -0.4 0.6 0.3 0.4 1.1 0.4 5.6 -0.2 5 -0.5 3 -1.1 2.4 -3.9 5.6 -1.7 1.6 -1.4 1.3 -2 1.3 -2.6 1.2 -2.4 0.9 -2.6 0.5 -2.4 0.4 -3 0.1 -3 -0.2 -3 -0.5 -3 -0.7 -2.6 -0.9 -6 -2.9 -5 -3.1 -1.8 -1.6 -1.4 -1.4 -1.4 -2 -1.1 -2 -0.9 -2.6 -0.4 -2 -0.3 -4 0.3 -2 0.5 -2 0.7 -2 0.8 -1.4 1.1 -1.6 1.5 -1.5 1.4 -1.2 2.6 -1.6 5 -2.9 3 -1.5 2.4 -1 3 -0.9zM-43.8 0.1l-0.2 0.1 0.2 2.9 0.3 0.7 0.3 2.3 0.3 1.1 0.1 2 0.4 1 0.2 2.3 0.2 0.7 0.2 2.3 0.6 0.3 0.7 -0.6 -1.3 -8.4 -0.1 -6.6z"/><path fill="#0f0" fill-opacity="0.0399" fill-rule="evenodd" d="M-29.6 -12.8l3.4 -0.3 3.4 0.1 3 0.3 3 0.7 3 1.2 2.6 1.4 2.2 1.6 1.9 2 1.8 3 0.5 1.6 0.1 1 -3.1 0.4 0.8 2.6 0.2 2.4 -0.3 4.6 -1.1 5.4 0.7 0.6 1.7 0.3 0.2 -0.3 0.4 -2 0.1 -2 0.4 -1.6 0.2 -2 0.3 -0.9 0.2 -2.1 0.4 -1.4 0.2 -2 0.6 -1.8 0.6 0.8 0.4 3.4 0.1 5.6 -0.4 3.4 -0.8 2.6 -4.3 5.7 -2 2.1 -3.6 2.4 -3.4 1.5 -2.5 0.7 -2.5 0.4 -5 0.2 -5 -0.6 -5 -1.6 -3.6 -1.6 -4.4 -2.4 -4 -2.7 -1.6 -1.5 -1.3 -1.6 -1.1 -2 -0.8 -2 -0.6 -2 -0.3 -2.6 0 -2 0.2 -2 0.5 -2 0.9 -2 0.8 -1.4 1.3 -1.5 1.4 -1.3 1.6 -1.1 8.4 -4.8 4.6 -1.8zM-43.8 0l-0.4 0.2 0.4 3.1 0.4 0.9 0.2 2.2 0.3 0.8 0.1 2.3 0.3 0.7 0.7 5.6 0.6 0 1.2 -0.6 -1.1 -6 -0.3 -3 0 -3.4 0.4 -2.6z"/><path fill="#0f0" fill-opacity="0.0447" fill-rule="evenodd" d="M-27.7 -11.8l3.5 -0.1 3 0.2 3 0.6 2.4 0.7 2.6 1.1 2.4 1.4 2 1.7 1.8 2 1.2 2 0.6 2 -3.1 0.4 0.7 3 0.2 2.6 -0.1 3.4 -1.1 6 0.5 0.6 2.3 0.4 0.3 -0.4 0.4 -2 0.1 -2 0.3 -1 0.2 -2.6 0.4 -1 0.1 -2 0.5 -1.4 0.1 -1.6 0.5 -1 0.1 -1 0.3 0.6 0.5 3.4 0 5.6 -0.4 3.4 -0.8 2.4 -1 1.1 -1.5 1.1 -2.5 3.4 -2.6 2.3 -3.4 2 -4 1.4 -4.6 0.7 -5 -0.1 -5 -1 -4.4 -1.7 -8 -4.2 -2.6 -1.8 -1.5 -1.6 -1.4 -2 -1 -2 -0.6 -2 -0.4 -2 -0.1 -2 0.3 -3.4 0.7 -2 0.7 -1.6 1.8 -2.4 2.1 -1.5 3.4 -1.8 4.6 -2.7 2.4 -1.2 4.6 -1.6zM-44.2 0.2l0.3 1.6 0.1 1.8 0.4 1.2 0.2 1.8 0.2 0.6 0.2 2.5 0.4 1.1 0.6 5 0.6 0.1 1 -0.1 0.6 -0.6 -1 -6.4 -0.2 -3.6 0.1 -2.4 0.6 -2.6 -3.7 -0.3z"/><path fill="#0f0" fill-opacity="0.0502" fill-rule="evenodd" d="M-27.1 -10.8l3.3 0 3.6 0.3 3.4 0.8 3 1.2 2.6 1.4 2.4 2 1.9 2.3 1.2 2.6 -3 0.4 0.6 3 0.2 3.6 -0.2 3.4 -0.8 5 0.4 0.6 1.9 0.4 0 1 -0.4 1 -1.9 2.6 -2.9 2.3 -3.4 1.8 -3.6 1.1 -4.4 0.6 -4.6 -0.2 -4.4 -0.8 -4.6 -1.7 -8.4 -4.5 -2 -1.4 -1.6 -1.6 -1.1 -1.6 -0.9 -2 -0.6 -2 -0.5 -3.6 0.4 -3.4 1.1 -3 1 -1.6 1 -1 1.6 -1 3.4 -1.4 4.2 -2.7 3 -1.6 4.4 -1.5zM-44.2 0.1l0.4 3.7 0.4 1 0.1 2 0.4 0.9 0.1 2.2 0.4 1.3 0.1 2 0.4 1 0.1 1.6 0 0.2 0.6 0 1.5 -0.2 0.5 -0.6 -0.8 -5.4 -0.3 -4 0.2 -3 0.5 -2.6 -3.6 -0.3zM-2.8 1.2l0 -0.3 0.1 0.3 0.3 2.6 0.2 3 -0.3 5 -0.4 2 -0.6 1.4 -0.7 0.9 -1 0.4 -0.2 -0.3 0 -1 0.3 -1.4 0.1 -2 0.3 -1 0.3 -2.6 0.3 -1 0.2 -2 0.3 -1 0.3 -2 0.1 -0.3 0.3 -0.1z"/><path fill="#0f0" fill-opacity="0.0563" fill-rule="evenodd" d="M-26.5 -9.8l3.3 0 3.4 0.4 3 0.7 3 1.2 2.6 1.5 2 1.6 1.8 2.2 1.1 2 -2.8 0.4 0.6 3 0.2 4 -0.2 4 -0.7 4 0.3 0.6 1.7 0.4 -0.4 1.6 -2 2.4 -2.6 2.1 -3.6 1.7 -3.4 1 -4 0.5 -4.6 -0.1 -4.4 -0.9 -4 -1.6 -5 -2.9 -3.6 -1.4 -2 -1.4 -1.3 -1.4 -1 -1.6 -0.9 -2 -0.6 -2 -0.3 -3.4 0.4 -3 1.1 -3 1.6 -2 1.6 -0.9 3 -0.6 4.4 -3.3 4 -2 4 -1.2zM-44.2 -0.1l-0.1 0.9 0.3 1 0.2 2 0.4 1 0.1 2 0.4 1.4 0.1 2 0.4 1 0.5 4.6 0.1 0.3 0.6 0 1.9 -0.3 0.4 -0.6 -0.7 -5 -0.3 -4.4 0.2 -3 0.5 -2.6 -4 -0.4zM-3.3 2.2l0.4 0.6 0.3 1.4 0.1 3.6 -0.3 3.4 -0.4 2 -0.5 1.6 -0.7 1 -0.8 0.3 -0.2 -0.9 0.3 -1 0.2 -2.4 0.2 -0.5 0.2 -2.5 0.5 -1.6 0.1 -2 0.4 -1z"/><path fill="#0f0" fill-opacity="0.0597" fill-rule="evenodd" d="M-27.5 -8.8l3.3 -0.1 3.4 0.3 3 0.6 3 1 3 1.6 2 1.5 1.6 1.7 1.3 2 -2.5 0.4 0.6 3 0.2 4 -0.3 4.6 -0.6 3.4 0.2 0.6 1.6 0.4 -0.2 0.6 -1.3 2 -2 1.9 -2.6 1.5 -3 1.3 -4 0.9 -4 0.3 -4 -0.4 -4.4 -1.1 -3.6 -1.6 -4.4 -2.9 -2.6 -0.6 -2 -1.1 -1 -0.9 -1.1 -1.3 -1.4 -3 -0.6 -2.6 -0.2 -2 0.2 -2.4 0.5 -2 0.9 -2 1.3 -1.5 1.4 -0.8 1 0 0.7 0.7 -0.3 1 0 0.6 0.4 1 0.2 1.9 0.3 1.1 0.7 5.4 0.4 1 0.5 4.6 0.1 0.4 0.6 0 2.3 -0.4 0.3 -0.6 -0.7 -5 -0.2 -4 0.1 -3 0.6 -3 -3.6 -0.4 0 -1 0.6 -1 1.5 -1.6 3.5 -2.3 2 -0.9 2.6 -0.8zM-3.3 3.2l0.1 -0.4 0.2 1 0.2 3.4 -0.3 4 -0.7 3 -0.4 0.8 -1 0.9 -0.1 -0.7 0.3 -1 0.1 -2.4 0.3 -0.6 0.2 -2.4 0.4 -1 0.2 -2.6 0.4 -0.4z"/><path fill="#0f0" fill-opacity="0.0635" fill-rule="evenodd" d="M-28.9 -7.8l3.1 -0.3 3.6 0.1 3.4 0.5 3 0.9 2.6 1.1 2.4 1.6 2 1.9 1.3 1.8 -2.2 0.4 0.6 3 0.3 4.1 -0.3 3.9 -0.7 4 0.1 0.6 1.5 0.4 -1 1.6 -1 1.2 -1.6 1.2 -2 1.2 -3.4 1.4 -3.6 0.8 -4 0.3 -4 -0.4 -4 -1 -3 -1.3 -3 -2 -1.1 -1 -0.7 -1 0.1 -1 1.9 -0.4 0.3 -0.6 -0.7 -4 -0.2 -4 0.1 -4 0.6 -3 -3.2 -0.4 0.2 -0.6 0.5 -1 1.2 -1.3 3 -2 3.6 -1.6zM-46 -0.8l0.8 -0.1 0.4 0.1 0.4 0.6 0 1 0.4 1 0.1 2 0.4 1 0.2 2 0.4 1.4 0.1 2 0.3 1 0.1 2 0.7 3.6 -0.5 0.6 -1 0 -1 -0.3 -1 -0.5 -1 -0.9 -1.7 -2.5 -0.7 -1.4 -0.5 -2 -0.3 -3.6 0.5 -3 1.2 -2.4 0.8 -1zM-3.8 5.2l0.2 0 0.3 0.6 0.2 1 -0.2 4 -0.7 3 -0.8 1.3 -0.1 -0.3 0.1 -3 0.3 -0.6 0.1 -2.4 0.4 -1z"/><path fill="#0f0" fill-opacity="0.0678" fill-rule="evenodd" d="M-27 -7.2l2.8 -0.2 3 0.2 3 0.6 2.4 0.7 2.6 1.2 2 1.2 1.9 1.7 1.3 1.6 -2 0.4 0.7 3 0.2 4 -0.3 4.6 -0.7 3.4 0.1 0.5 1.2 0.5 -1.1 1.6 -1.9 1.6 -2 1.3 -2 0.9 -3.4 1 -3.6 0.5 -3.4 0 -3.6 -0.5 -3.4 -1 -3 -1.5 -2.5 -1.9 -1 -1.4 -0.2 -0.6 1.7 -0.4 0.1 -0.6 -0.6 -3.4 -0.3 -4.6 0.2 -4 0.6 -3 -2.8 -0.4 0.2 -0.6 0.8 -1 1.2 -1.2 1.6 -1 2 -1.1 4 -1.4zM-46.1 -0.2l0.9 -0.3 0.4 0 0.7 2.3 0.2 2 0.3 1 0.8 5.5 0.3 0.9 0.1 2.1 0.4 1.5 0 1.4 -0.2 0.5 -0.6 0.2 -1 -0.2 -0.9 -0.5 -1.5 -1.4 -1.3 -2 -0.9 -3 -0.3 -3 0.3 -3 1 -2.6 0.7 -1zM-3.8 5.8l0.3 0.4 0.1 1 -0.2 1.6 0 2 -0.7 3 -0.5 0.9 0 -2.9 0.4 -0.6 0.1 -2.4 0.4 -1z"/><path fill="#0f0" fill-opacity="0.0727" fill-rule="evenodd" d="M-29.4 -6.2l3.2 -0.4 3 -0.1 3 0.3 3 0.7 2.4 0.9 2.6 1.3 2 1.5 1.6 1.8 -1.7 0.4 0.7 3 0.3 4 -0.3 4.6 -0.8 3.4 0.1 0.6 1 0.4 -1.5 1.7 -1.4 1.2 -3 1.6 -3.6 1.1 -3.4 0.6 -4 0 -4 -0.6 -3.6 -1.1 -3 -1.7 -2 -1.8 -0.5 -1 1.4 -0.4 0.1 -0.6 -0.7 -3.4 -0.3 -4.6 0.2 -4 0.6 -3 -2.4 -0.4 1.6 -1.9 2.6 -1.7 3.4 -1.6zM-46.1 0.2l0.9 -0.4 0.4 0 0.4 1.4 0.3 0.6 0.2 2 0.3 1 0.2 2 0.4 1.4 0.1 2 0.4 1 0.1 2 0.3 1.6 -0.1 1.4 -0.6 0.3 -1.4 -0.6 -1.7 -1.7 -1.1 -2 -0.8 -2.4 -0.3 -3 0.2 -2.6 0.8 -2.5zM-4.3 8.8l0.3 0 0.2 1 -0.2 1.4 -0.2 0.5zM-4.8 12.2l0 -0.4 0.4 0.4 -0.4 2z"/><path fill="#0f0" fill-opacity="0.0784" fill-rule="evenodd" d="M-28.7 -5.8l2.9 -0.3 3 0.1 3 0.3 2.6 0.6 2.4 0.9 2 1 2 1.4 1.6 1.6 -1.4 0.4 0.7 2.6 0.4 3 -0.2 5 -0.4 2.4 -0.5 2 0 0.6 0.8 0.4 -2.4 2.2 -3 1.7 -3.6 1.1 -3.4 0.6 -4 0 -4 -0.6 -3.6 -1.2 -3 -1.7 -1.1 -1.1 -0.8 -1 1.1 -0.4 0.1 -0.6 -0.8 -4 -0.3 -4 0.2 -4 0.7 -3 -2 -0.4 1.9 -2 2.6 -1.5 3 -1.2zM-45.6 0.2l0.8 -0.3 0.4 1.3 0.3 0.6 0.1 2 0.4 1 0.2 2 0.4 1.4 0.1 2 0.3 1 0.1 2 0.4 1.6 -0.1 1.4 -0.6 0 -1 -0.4 -1.5 -1.6 -1.2 -2 -0.8 -2.4 -0.3 -2.6 0.2 -3 0.8 -2.4z"/><path fill="#0f0" fill-opacity="0.0851" fill-rule="evenodd" d="M-28.3 -5.2l2.5 -0.3 3 0 2.6 0.3 2.4 0.5 2.6 0.9 2 0.9 2 1.3 1.5 1.4 -1.2 0.4 0.8 2.6 0.4 3.4 -0.3 5 -1 4.5 0.6 0.5 -1.8 1.7 -3 1.6 -3 1.1 -3.6 0.6 -4 0.1 -4 -0.6 -3.4 -1.1 -3 -1.6 -1.9 -1.8 0.8 -0.4 -0.8 -4.6 -0.3 -4 0.2 -4 0.8 -3 -1.7 -0.4 1.9 -1.7 2.4 -1.4 3 -1.2zM-45.2 0.2l0.4 -0.2 0.3 1.2 0.3 0.6 0.2 2 0.3 1 0.3 2.4 0.3 1 0.2 2 0.3 1 0.2 2.6 0.3 1 -0.1 1.2 -0.9 -0.2 -0.7 -0.6 -1.4 -1.4 -1 -2 -0.7 -2.6 -0.2 -2.4 0.2 -2.6 1 -3z"/><path fill="#0f0" fill-opacity="0.0930" fill-rule="evenodd" d="M-28.1 -4.8l4.9 -0.2 2.4 0.2 2.6 0.5 2.4 0.8 2 0.9 2 1.2 1.5 1.2 -0.9 0.4 0.8 2 0.4 2.6 0.1 3 -0.2 3 -0.4 2.4 -0.8 2.6 0.3 0.4 -1.2 1.1 -3 1.7 -3 1 -3.6 0.7 -3.4 0.1 -3.6 -0.4 -3.4 -0.9 -3 -1.4 -2.4 -1.9 0.7 -0.4 -1 -4.6 -0.3 -5 0.3 -3.4 0.8 -2.6 -1.4 -0.4 1.7 -1.4 2.6 -1.4 2.9 -1.1zM-45 0.2l0.2 -0.1 0.2 1.1 0.4 0.6 0.3 2.4 0.2 0.6 0.3 2.4 0.3 1 0.2 2.6 0.3 0.4 0.1 2.6 0.3 1 0 1.1 -1.6 -1.1 -0.9 -1 -1 -2 -0.7 -2.6 -0.2 -2.4 0.1 -2.6 0.9 -3z"/><path fill="#0f0" fill-opacity="0.1026" fill-rule="evenodd" d="M-28.2 -4.2l2.4 -0.3 2.6 0 4.4 0.6 2.6 0.7 2 0.8 3.3 2.2 -0.7 0.4 0.8 1.5 0.5 2.1 0.2 2.4 0 2.6 -0.5 4 -1.1 3 0.2 0.4 -0.3 0.2 -2.4 1.6 -3 1.3 -3.6 0.8 -3.4 0.2 -4 -0.3 -3.6 -0.9 -3 -1.3 -2.2 -1.6 0.4 -0.4 -0.6 -2.1 -0.5 -1.9 -0.3 -5 0.3 -4 0.9 -2.6 -1 -0.4 1.6 -1.2 2.4 -1.3 2.6 -0.9zM-45.1 0.8l0.3 -0.5 0.2 0.9 0.4 0.6 0.2 2.4 0.4 1 0.1 2 0.4 1 0.2 2.6 0.3 0.4 0.1 2.6 0.3 1 0 1 -1.6 -1.6 -0.7 -1 -0.9 -2 -0.5 -2 -0.3 -2 0.1 -2.4z"/><path fill="#0f0" fill-opacity="0.1143" fill-rule="evenodd" d="M-28.5 -3.8l4.7 -0.3 4.6 0.5 4 1.3 2 0.9 1.7 1.2 -0.6 0.4 0.9 1.1 0.6 1.9 0.3 2.6 0 2.4 -0.5 4.2 -0.4 1.7 -1.1 1.7 0.2 0.4 -2.7 1.6 -3 1.2 -3 0.6 -3.4 0.3 -3.6 -0.3 -3 -0.6 -3 -1.1 -2.6 -1.7 0.3 -0.4 -0.7 -1.3 -0.4 -1.7 -0.6 -4 0 -3 0.3 -2.6 0.5 -2 0.6 -1 -0.8 -0.4 2 -1.3 2 -0.9 2 -0.7zM-44.9 0.8l0.1 -0.2 0.2 1.2 0.4 0 0.2 2.4 0.4 1 0.2 2.6 0.3 0.4 0.1 2.6 0.3 0.4 0.1 2.6 0.1 0.4 0.3 0.4 0 0.8 -1.2 -1.2 -0.7 -1 -1.1 -2.4 -0.3 -1.6 -0.3 -2 0.1 -2.4 0.2 -1.6 0.7 -1.4 -0.2 -0.6z"/><path fill="#0f0" fill-opacity="0.1290" fill-rule="evenodd" d="M-28.8 -3.2l4.6 -0.4 4.4 0.4 4 1.1 3.6 1.9 -0.5 0.4 0.9 0.8 0.8 1.8 0.5 2.4 0 3 -0.2 2.6 -0.4 2 -0.7 1.6 -1.1 1.4 0.2 0.4 -2.5 1.4 -2.6 0.9 -3 0.7 -3.4 0.2 -3.6 -0.2 -3 -0.6 -2.4 -0.9 -2.5 -1.5 0.2 -0.4 -1 -1.6 -0.5 -1.4 -0.6 -4 0 -3 0.3 -2.6 0.5 -1.9 0.9 -1.1 -0.6 -0.4 3.3 -1.8zM-44.7 2.2l0.5 -0.1 0.1 2.1 0.4 1 0.2 2.6 0.3 0.4 0.2 2.6 0.3 0.4 -0.1 3.3 -0.7 -0.7 -0.5 -1 -0.9 -2.6 -0.4 -2 -0.1 -1.4 0.1 -2.6 0.2 -1z"/><path fill="#0f0" fill-opacity="0.1481" fill-rule="evenodd" d="M-29.3 -2.8l4.1 -0.4 4.4 0.2 4 0.9 2 0.8 2 1.1 -0.6 0.4 1.6 1.4 0.7 1.6 0.4 2 0.1 3 -0.3 2.6 -0.4 2 -0.5 1 -1.8 2 0.2 0.4 -2.4 1.2 -3 1 -2.4 0.4 -3 0.2 -3 -0.1 -3 -0.6 -2.6 -0.9 -2.3 -1.2 0.3 -0.4 -1.4 -1.6 -0.5 -1 -0.6 -3 -0.1 -4.4 0.6 -3.6 0.6 -1.1 1 -0.9 -0.7 -0.4 3.1 -1.6zM-44.6 2.8l0.4 -0.5 0.1 1.9 0.4 1 0.2 2.6 0.3 0.4 0.1 2.6 0.4 0.4 0 0.6 -0.1 2.4 -0.7 -1 -0.9 -2.4 -0.6 -3 0 -3.6z"/><path fill="#0f0" fill-opacity="0.1739" fill-rule="evenodd" d="M-26.7 -2.8l2.5 -0.1 2.4 0.2 2.6 0.4 2.4 0.6 3.3 1.5 -0.6 0.4 1.5 1 0.8 1 0.6 1.3 0.3 2.3 0.1 2.4 -0.3 2.6 -0.7 2.3 -0.8 1.1 -1.7 1.6 0.2 0.4 -2.7 1.2 -3.4 0.9 -3.6 0.4 -3.4 -0.2 -4 -0.9 -3 -1.3 -0.2 -0.1 0.3 -0.4 -2.1 -2.3 -0.6 -1.4 -0.3 -1.9 -0.1 -4.4 0.3 -2.6 0.6 -1.4 0.5 -0.7 1.3 -0.9 -0.7 -0.4 4 -1.7zM-44.3 2.8l0.2 2 0.4 0.4 0.1 2.6 0.4 0.4 0.1 2.6 0.3 0.5 0 2.6 -1.3 -3.1 -0.6 -3 -0.1 -1 0.3 -1.6 -0.2 -1.4z"/><path fill="#0f0" fill-opacity="0.2105" fill-rule="evenodd" d="M-27.8 -2.2l2.6 -0.3 2.4 0 2.6 0.3 2.4 0.6 3.6 1.4 -0.7 0.4 1.6 1.1 1.1 0.9 0.6 1 0.4 2 0.2 2.6 -0.2 2.7 -0.7 2.3 -1.3 1.4 -1.8 1.6 0.2 0.4 -3 1.2 -3 0.6 -3.4 0.3 -3 -0.2 -3.6 -0.7 -2.9 -1.2 0.3 -0.4 -2.4 -2.2 -0.4 -0.8 -0.5 -1.6 -0.4 -3 0.2 -3.4 0.7 -2.5 0.9 -1.1 1.6 -1 -0.7 -0.4 3.2 -1.3zM-44.3 5.8l0.5 -0.5 0.2 2.5 0.4 0.4 0 0.6 0 2.5 -0.6 -0.4 -0.2 -0.7 -0.2 -2 -0.3 -1zM-43.1 11.7l0.3 -0.1 0 2 -0.2 -0.8z"/><path fill="#0f0" fill-opacity="0.2667" fill-rule="evenodd" d="M-28.8 -1.8l2.6 -0.3 3 0 2.4 0.2 2.6 0.5 3.3 1.2 -0.8 0.4 1.9 1.2 1.5 1.4 0.5 1 0.5 2.4 0 2.6 -0.4 2.4 -0.5 1.3 -1 1.3 -2.6 2 0.3 0.4 -2.7 1 -3 0.6 -3.6 0.1 -3 -0.2 -3 -0.7 -2.1 -0.8 0.3 -0.4 -2 -1.5 -0.9 -1.1 -0.8 -1.4 -0.5 -3 0 -3.6 0.6 -2.2 0.5 -0.8 0.9 -0.9 2 -1.1 -0.9 -0.4 2.5 -1zM-43.9 5.8l0.1 -0.2 0.1 0.2 -0.1 2.4 -0.3 -0.5 -0.1 -0.5zM-43.7 8.8l0.5 -0.3 0 2.6 -0.4 -0.3 -0.1 -0.6z"/><path fill="#0f0" fill-opacity="0.3636" fill-rule="evenodd" d="M-26.1 -1.8l2.9 0 2.4 0.2 2.6 0.5 2.4 0.8 -0.8 0.5 1.4 0.7 1.3 0.9 1.7 1.8 0.4 1.2 0.3 2 0 2 -0.3 2 -0.4 1 -1.1 1.5 -1 0.9 -2.4 1.6 0.3 0.4 -2.8 0.9 -3.6 0.5 -3.4 -0.1 -3 -0.4 -2.9 -0.9 0.3 -0.4 -2.4 -1.7 -1.6 -1.9 -0.6 -2 -0.3 -3 0.4 -3 0.5 -1.2 1.6 -1.5 2.3 -1.3 -1 -0.4 3.1 -1zM-43.9 6.2l0.1 1.7 -0.2 -1.1zM-43.3 8.8l0.1 2 -0.3 -1z"/><path fill="#0f0" fill-opacity="0.5357" fill-rule="evenodd" d="M-27.8 -1.2l2.6 -0.3 3 0.1 3 0.4 2.4 0.7 0.2 0.1 -1 0.4 1.8 0.8 1.3 0.8 1.1 1 0.8 1 0.6 1.4 0.3 1.6 -0.1 2 -0.4 2 -0.8 1.4 -1.2 1.5 -3.4 2.1 0.3 0.4 -2.9 0.8 -3 0.3 -3 -0.1 -3 -0.4 -2 -0.6 0.4 -0.4 -3 -1.8 -1.5 -1.8 -0.8 -2 -0.3 -2 0.1 -3 0.5 -1.5 0.7 -0.9 1.1 -1 1.2 -0.8 1.9 -0.8 -1.1 -0.4z"/><path fill="#0f0" fill-opacity="1.0000" fill-rule="evenodd" d="M-29.2 -0.8l2.4 -0.3 2.6 -0.1 2.4 0.1 2.6 0.4 1.8 0.5 -1.2 0.4 2.4 0.9 2 1.3 1 1.1 0.7 1.3 0.5 2.4 -0.1 1.6 -0.3 1.4 -0.7 1.6 -0.7 1 -1.7 1.4 -3.1 1.6 0.4 0.4 -2.6 0.6 -2.4 0.2 -3.6 -0.1 -3.5 -0.7 0.5 -0.4 -2.4 -1.2 -1.6 -1.1 -1.4 -1.7 -0.8 -2 -0.2 -2.6 0.4 -2.4 0.8 -1.6 1.2 -1.2 1.6 -0.9 2.3 -0.9 -1.3 -0.4z"/></g>
</g>
<polygon points="679.70,163.00 682.20,147.15 718.40,147.15 720.80,163.00" fill="#000" fill-opacity="0.24"/><polygon points="768.30,163.00 765.80,147.15 729.60,147.15 727.20,163.00" fill="#000" fill-opacity="0.24"/>
</g>
<rect x="565.5" y="275.95" width="317.0" height="0.95" fill="#fff"/>
<rect x="565.5" y="32.5" width="317.0" height="245.0" fill="none" stroke="#000" stroke-width="1.10"/>
<line x1="580.50" y1="277.50" x2="580.50" y2="282.90" stroke="#000" stroke-width="1.10"/>
<text x="580.10" y="298.40" font-size="13.89" text-anchor="middle" textLength="19.2" lengthAdjust="spacingAndGlyphs">−2</text>
<line x1="652.50" y1="277.50" x2="652.50" y2="282.90" stroke="#000" stroke-width="1.10"/>
<text x="652.10" y="298.40" font-size="13.89" text-anchor="middle" textLength="19.2" lengthAdjust="spacingAndGlyphs">−1</text>
<line x1="724.50" y1="277.50" x2="724.50" y2="282.90" stroke="#000" stroke-width="1.10"/>
<text x="724.10" y="298.40" font-size="13.89" text-anchor="middle" textLength="8.3" lengthAdjust="spacingAndGlyphs">0</text>
<line x1="795.50" y1="277.50" x2="795.50" y2="282.90" stroke="#000" stroke-width="1.10"/>
<text x="795.10" y="298.40" font-size="13.89" text-anchor="middle" textLength="8.3" lengthAdjust="spacingAndGlyphs">1</text>
<line x1="867.50" y1="277.50" x2="867.50" y2="282.90" stroke="#000" stroke-width="1.10"/>
<text x="867.10" y="298.40" font-size="13.89" text-anchor="middle" textLength="8.3" lengthAdjust="spacingAndGlyphs">2</text>
<line x1="560.10" y1="55.50" x2="565.50" y2="55.50" stroke="#000" stroke-width="1.10"/>
<text x="554.60" y="60.35" font-size="13.89" text-anchor="end" textLength="21.3" lengthAdjust="spacingAndGlyphs">1.5</text>
<line x1="560.10" y1="91.50" x2="565.50" y2="91.50" stroke="#000" stroke-width="1.10"/>
<text x="554.60" y="96.35" font-size="13.89" text-anchor="end" textLength="21.3" lengthAdjust="spacingAndGlyphs">1.0</text>
<line x1="560.10" y1="127.50" x2="565.50" y2="127.50" stroke="#000" stroke-width="1.10"/>
<text x="554.60" y="132.35" font-size="13.89" text-anchor="end" textLength="21.3" lengthAdjust="spacingAndGlyphs">0.5</text>
<line x1="560.10" y1="163.50" x2="565.50" y2="163.50" stroke="#000" stroke-width="1.10"/>
<text x="554.60" y="168.35" font-size="13.89" text-anchor="end" textLength="21.3" lengthAdjust="spacingAndGlyphs">0.0</text>
<line x1="560.10" y1="198.50" x2="565.50" y2="198.50" stroke="#000" stroke-width="1.10"/>
<text x="554.60" y="203.35" font-size="13.89" text-anchor="end" textLength="32.5" lengthAdjust="spacingAndGlyphs">−0.5</text>
<line x1="560.10" y1="234.50" x2="565.50" y2="234.50" stroke="#000" stroke-width="1.10"/>
<text x="554.60" y="239.35" font-size="13.89" text-anchor="end" textLength="32.5" lengthAdjust="spacingAndGlyphs">−1.0</text>
<line x1="560.10" y1="270.50" x2="565.50" y2="270.50" stroke="#000" stroke-width="1.10"/>
<text x="554.60" y="275.35" font-size="13.89" text-anchor="end" textLength="32.5" lengthAdjust="spacingAndGlyphs">−1.5</text>
<text x="724.00" y="317.70" font-size="13.89" text-anchor="middle" textLength="8.2" lengthAdjust="spacingAndGlyphs">y</text>
<text x="512.50" y="155.00" font-size="13.89" text-anchor="middle" textLength="7.3" lengthAdjust="spacingAndGlyphs" transform="rotate(-90 512.50 155.00)">z</text>
<text x="724.00" y="23.60" font-size="16.67" text-anchor="middle" textLength="206.2" lengthAdjust="spacingAndGlyphs">Ey (q-TE anti-symmetric)</text>
<rect x="902.70" y="23.72" width="14.40" height="262.45" fill="url(#cb)"/>
<polygon points="902.70,24.02 909.90,10.60 917.10,24.02" fill="rgb(5,48,97)"/>
<polygon points="902.70,285.88 909.90,299.30 917.10,285.88" fill="rgb(103,0,31)"/>
<polygon points="902.70,286.18 902.70,23.72 909.90,10.60 917.10,23.72 917.10,286.18 909.90,299.30" fill="none" stroke="#000" stroke-width="1.10" stroke-linejoin="miter"/>
<line x1="917.10" y1="62.50" x2="922.80" y2="62.50" stroke="#000" stroke-width="1.10"/>
<text x="927.00" y="68.10" font-size="13.89" text-anchor="start" textLength="16.8" lengthAdjust="spacingAndGlyphs">20</text>
<line x1="917.10" y1="108.50" x2="922.80" y2="108.50" stroke="#000" stroke-width="1.10"/>
<text x="927.00" y="114.10" font-size="13.89" text-anchor="start" textLength="16.8" lengthAdjust="spacingAndGlyphs">10</text>
<line x1="917.10" y1="155.50" x2="922.80" y2="155.50" stroke="#000" stroke-width="1.10"/>
<text x="927.00" y="161.10" font-size="13.89" text-anchor="start" textLength="8.4" lengthAdjust="spacingAndGlyphs">0</text>
<line x1="917.10" y1="201.50" x2="922.80" y2="201.50" stroke="#000" stroke-width="1.10"/>
<text x="927.00" y="207.10" font-size="13.89" text-anchor="start" textLength="27.8" lengthAdjust="spacingAndGlyphs">−10</text>
<line x1="917.10" y1="247.50" x2="922.80" y2="247.50" stroke="#000" stroke-width="1.10"/>
<text x="927.00" y="253.10" font-size="13.89" text-anchor="start" textLength="27.8" lengthAdjust="spacingAndGlyphs">−20</text>
<text x="971.80" y="158.15" font-size="13.89" text-anchor="middle" textLength="49.9" lengthAdjust="spacingAndGlyphs" transform="rotate(-90 971.80 158.15)">Re{Ey}</text>
</g>
<g>
<clipPath id="clip2"><rect x="73.5" y="375.5" width="317.0" height="245.0"/></clipPath>
<g clip-path="url(#clip2)">
<g filter="url(#cm)">
<rect x="71.5" y="373.5" width="321.0" height="249.0" fill="#000"/>
<g transform="translate(232.00 506.00) scale(1 -1)"><path fill="#f00" fill-opacity="0.0080" fill-rule="evenodd" d="M-24.6 -75.8l7.8 0 16.6 0.7 18 -0.7 9.4 0.2 6 0.6 6 0.9 5.6 1.3 6 1.7 6.5 2.6 6.5 3.1 6.4 4 5.6 4 5.4 4.9 5 5.3 4.2 5.4 3.9 6 3.8 7.6 2.9 7.4 2.1 7.6 1.6 8.4 0.7 8.6 0 9 -0.8 9 -1.7 8.4 -2.3 8 -3.1 7.6 -3.7 7 -4.3 6.4 -5 6 -5.7 5.8 -6.6 5.2 -6.4 4.2 -4 2.2 -4 1.9 -4 1.6 -4.6 1.6 -4.4 1.3 -4.6 1 -5 0.9 -4.4 0.6 -5.6 0.4 -6 0.1 -20 -0.7 -14.4 0.6 -6.6 0.1 -8 -0.4 -8 -1.1 -9 -2.1 -8.4 -2.9 -8 -3.7 -4 -2.3 -3.6 -2.3 -3.4 -2.5 -3.6 -2.9 -3.3 -3 -3 -3 -5.4 -6.6 -2.4 -3.4 -2.5 -4 -2.6 -5 -2 -4.6 -1.9 -5 -1.6 -5.4 -1.3 -5.6 -0.9 -5.4 -0.6 -6 -0.2 -5.6 0.1 -5.4 0.4 -6 0.9 -6 1.1 -5.6 1.5 -5.4 1.9 -5.6 2.2 -5 2.3 -4.4 2.6 -4.6 3.1 -4.4 3.2 -4 3.4 -3.8 4 -3.8 4 -3.4 4 -2.9 4.6 -2.9 5 -2.7 5 -2.3 5 -1.9 5 -1.5 5 -1.3 5.4 -1 5.6 -0.7z"/><path fill="#f00" fill-opacity="0.0091" fill-rule="evenodd" d="M-22.1 -61.2l6.9 0 15 0.6 16.4 -0.7 8 0.1 4.6 0.4 5 0.7 5 1 4 1 6 2.1 5.4 2.5 5.6 3.1 4.4 3 4.6 3.7 4 3.9 3.9 4.6 3.2 4.4 3.5 6 2.7 6 2.3 7 1.5 6.6 0.9 7 0.2 7 -0.3 7 -1.1 7 -1.5 6.4 -2.1 6 -3 6.6 -3.3 5.4 -3.7 5 -4.5 5 -4.7 4.4 -5.6 4 -4 2.4 -3.4 1.9 -7.6 3.1 -8 2.4 -8.4 1.4 -5.6 0.5 -5.4 0.1 -20 -0.7 -18 0.7 -6 -0.2 -6 -0.5 -8 -1.6 -7 -2.1 -6.6 -2.6 -6.4 -3.5 -6 -4.2 -5.6 -4.7 -4.8 -5.2 -4.4 -6 -2.4 -4 -2.1 -4 -1.9 -4.6 -1.5 -4.4 -1.2 -4.6 -0.9 -4.4 -0.6 -4.6 -0.4 -5 0 -5 0.2 -4.4 0.6 -5 0.8 -4.6 1.3 -5 1.5 -4.4 1.6 -4 2.1 -4.6 2.4 -4 2.3 -3.4 2.7 -3.6 3.2 -3.4 3.1 -3.1 3.4 -2.9 3.6 -2.6 4 -2.5 4 -2.2 4.4 -2.1 4 -1.5 4.6 -1.4 4.4 -1.1 5 -0.8 5 -0.6z"/><path fill="#f00" fill-opacity="0.0112" fill-rule="evenodd" d="M-20.3 -53.2l5.5 0 14.6 0.7 16 -0.7 7 0 8 0.8 8 1.6 5.4 1.8 4.6 1.8 4.4 2.3 4.6 2.8 4 3.1 3.6 3.2 3.3 3.6 3.1 4 3.2 5 2.7 5.4 2.2 6 1.4 5.6 1.1 6.4 0.4 6 -0.1 6.6 -0.7 6 -1.2 6 -1.8 6 -2.4 5.4 -2.7 5 -3.1 4.6 -3.8 4.4 -4.2 4.1 -4.6 3.5 -3 2 -3.4 2 -7 3.2 -7.6 2.3 -8 1.5 -5 0.4 -5 0.2 -18.4 -0.8 -18.6 0.8 -5 -0.1 -5 -0.3 -7 -1.1 -6.4 -1.7 -6 -2.2 -6 -3 -5.6 -3.5 -5 -4.1 -4.1 -4.2 -4 -5 -2.3 -3.4 -1.9 -3.6 -1.9 -4 -1.5 -4 -1.2 -4 -0.9 -4 -0.7 -4.4 -0.4 -4.6 -0.1 -4.4 0.1 -4.6 0.5 -4.4 0.8 -4.6 0.9 -4 1.4 -4.4 1.6 -4 2 -4 2 -3.6 2.4 -3.4 2.4 -3 2.8 -3 3.1 -3 3 -2.4 3.6 -2.5 3 -1.8 4 -2 3.4 -1.5 4 -1.5 4 -1.1 4 -0.9 4.6 -0.7 4.4 -0.5z"/><path fill="#f00" fill-opacity="0.0134" fill-rule="evenodd" d="M-25.5 -47.2l8.7 -0.3 17 0.8 14.6 -0.7 6 -0.1 6.4 0.4 6.6 1 4.4 1.2 4.6 1.5 4.4 1.9 3.6 1.8 3.4 2.2 3.7 2.7 3.3 3 2.9 3 3.1 4 2.9 4.6 2.4 5 1.6 4.4 1.5 5.6 0.9 5.4 0.4 6 0 6 -0.6 5.6 -1.1 5.4 -1.6 5.6 -1.9 4.4 -2.4 4.6 -3 4.4 -3.4 4 -3.7 3.6 -3 2.4 -3 2.1 -3.4 2.1 -3.6 1.7 -3.4 1.5 -4 1.3 -7.6 1.8 -5.4 0.7 -5.6 0.3 -5.4 -0.1 -14.6 -0.8 -15.4 0.8 -7 0 -6.6 -0.6 -6 -1 -5.4 -1.5 -5.6 -2.2 -5.4 -2.8 -4.6 -2.9 -4.4 -3.7 -4 -4.1 -2.4 -3 -2.1 -3 -1.7 -3 -1.8 -3.6 -1.4 -3.4 -1.1 -3.6 -1 -4 -0.7 -4 -0.4 -4.4 -0.2 -4 0.1 -4 0.4 -4.6 0.6 -4 0.9 -4 1 -3.4 1.5 -4 1.7 -3.6 1.6 -3 2 -3 2.2 -3 2.7 -3 2.5 -2.4 5.6 -4.3 3 -1.9 3.4 -1.9 3.6 -1.6 3.5 -1.3 3.9 -1.1 3.6 -0.9z"/><path fill="#f00" fill-opacity="0.0162" fill-rule="evenodd" d="M-24.9 -42.8l8.1 -0.2 17 1 14.6 -0.9 5.4 -0.1 5.6 0.3 5.4 0.8 4 0.8 4 1.2 4 1.5 4 1.9 3.6 2.1 3 2.1 3 2.4 2.7 2.7 2.9 3.4 2.8 4 2.3 4.6 1.8 4.4 1.4 4.5 1 5.5 0.5 5.6 0.1 5.4 -0.4 5.6 -0.8 5 -1.1 4.4 -1.7 4.6 -2.2 4.4 -2.5 4 -2.8 3.7 -3.2 3.3 -2.8 2.5 -2.6 1.8 -3 2 -3.4 1.9 -3.6 1.5 -3.4 1.3 -3.6 1 -4 0.9 -5 0.7 -5.4 0.3 -6 -0.1 -10.6 -0.7 -4.4 -0.1 -14.6 0.8 -5.4 0.1 -6 -0.3 -5.6 -0.8 -5.4 -1.3 -5 -1.8 -5 -2.3 -4.6 -2.7 -4 -3 -3.8 -3.7 -2.2 -2.5 -2.2 -2.9 -1.9 -3 -1.5 -3 -1.5 -3.6 -1.1 -3 -0.9 -3.4 -0.7 -3.6 -0.5 -4 -0.2 -4 0 -4 0.3 -4.4 0.5 -4 0.8 -4 1 -3.6 1.3 -3.4 1.3 -3 1.6 -3 2 -3 1.9 -2.6 4.4 -4.6 2.4 -2.2 3 -2.2 3 -1.9 3 -1.5 6.6 -2.7 7 -1.8z"/><path fill="#f00" fill-opacity="0.0223" fill-rule="evenodd" d="M-25.3 -38.8l4.1 -0.2 4.4 0 13 0.9 4 0.1 14 -0.9 5.6 -0.1 5 0.2 5 0.6 4 0.8 3.4 1 3.6 1.2 3.4 1.6 3 1.6 3 1.9 3 2.3 2.6 2.3 2.9 3.3 2.5 3.4 2 3.6 1.8 4 1.4 4.4 1 4.6 0.7 5 0.2 5.4 -0.2 5 -0.6 5 -0.9 4.6 -1.3 4 -1.7 4 -2 3.4 -2.4 3.5 -3.1 3.5 -3.3 3.1 -4 2.9 -4 2.3 -4.6 2 -4.4 1.5 -5 1.2 -5.6 0.7 -5.4 0.3 -5.6 -0.2 -14 -0.9 -4.4 0.1 -10.6 0.8 -6 0.1 -5 -0.2 -5 -0.7 -3.4 -0.8 -3.6 -1 -3.4 -1.3 -3.6 -1.6 -3 -1.7 -3 -2 -4.8 -4 -2.3 -2.6 -2 -2.4 -1.7 -2.6 -1.7 -3 -1.4 -3 -1.1 -3 -1.7 -6.4 -0.5 -3.6 -0.2 -4 -0.1 -4 0.2 -4 0.5 -4 0.6 -3.4 0.8 -3.6 1.2 -3.4 2.6 -5.6 3.3 -5 4.1 -4.4 4.8 -3.9 5.4 -3.3 6 -2.5 6.6 -1.8z"/><path fill="#f00" fill-opacity="0.0271" fill-rule="evenodd" d="M-21.3 -34.8l6.5 0.2 14 1.1 4.6 -0.2 9.4 -0.8 5 -0.3 5.6 0.2 5.4 0.6 6.6 1.5 3 1 3.4 1.5 3 1.6 2.6 1.6 2.4 1.9 2.6 2.2 2.6 2.9 2.2 3 2 3.6 1.5 3.4 1.3 4 0.8 4 0.5 4.5 0.3 5.5 -0.1 4.6 -0.5 4.4 -0.8 4 -1.2 4 -1.4 3.6 -2 3.4 -2.1 3 -2.6 3 -3.1 2.8 -3.4 2.6 -4 2.2 -4 1.8 -4.6 1.5 -4.4 1 -5 0.6 -5 0.2 -5.6 -0.2 -13.4 -1 -4 0.1 -10 0.9 -5 0.2 -5.6 -0.1 -5.5 -0.6 -3.5 -0.8 -3.4 -0.9 -6 -2.4 -3 -1.6 -2.6 -1.6 -2.4 -1.9 -2.6 -2.2 -2 -2.1 -1.9 -2.5 -1.7 -2.4 -1.3 -2.6 -2.2 -5.4 -1.4 -6 -0.5 -3.6 -0.2 -4 0.1 -4 0.3 -4.4 1.1 -7 0.9 -3 1.1 -3 2.5 -5 3.4 -4.6 4.1 -4 4.7 -3.3 5.6 -2.8 6 -2 6 -1.3z"/><path fill="#f00" fill-opacity="0.0279" fill-rule="evenodd" d="M-26.2 -31.2l4.4 -0.4 5 0.1 12.6 1.1 4 0.2 4 -0.1 13.4 -1.3 5 0 4.6 0.4 6 1.1 6 2 5.4 2.7 4.5 3.2 2.5 2.3 2.4 2.7 1.7 2.4 1.7 3 1.4 3.6 0.9 3 0.6 3.4 0.5 4.6 0.3 5 -0.1 5 -0.3 4 -0.7 4 -1.1 3.4 -1.4 3.6 -1.7 3 -2.2 3 -2.7 3 -3.3 2.7 -3.4 2.3 -3.6 1.8 -4 1.6 -4.4 1.3 -4.6 0.8 -4.4 0.4 -7.6 -0.1 -11 -1.1 -4 -0.2 -4 0.2 -13.4 1.2 -5 0 -4.6 -0.4 -6 -1.1 -5.4 -1.7 -5 -2.4 -2.6 -1.6 -2.4 -1.8 -4 -3.8 -3.2 -4.1 -1.4 -2.6 -1.2 -2.4 -0.9 -2.6 -0.8 -3 -0.5 -3 -0.4 -3.4 0 -7.6 0.7 -8 0.5 -3 0.8 -3 2.1 -5 2.5 -4 3.2 -3.6 4 -3.4 4.6 -2.7 5 -2.2 5.4 -1.6z"/><path fill="#f00" fill-opacity="0.0315" fill-rule="evenodd" d="M-25.9 -28.8l4.7 -0.3 4.4 0.1 13 1.3 4 0.2 4 -0.2 12.6 -1.3 4.4 -0.1 4.6 0.3 6 1 5.4 1.7 5 2.4 4.5 2.9 2.3 2 1.9 2 1.9 2.6 1.5 2.4 1.2 2.6 1 3 0.7 3 0.4 3.4 0.4 5.6 0.1 5.4 -0.2 4 -0.5 4 -0.9 3.6 -1.1 3 -1.6 3 -2 3 -2.5 2.8 -3.1 2.6 -3 2.1 -3.4 1.8 -3.6 1.5 -4.4 1.3 -4 0.8 -4.6 0.4 -7.4 0 -11.6 -1.3 -4 -0.2 -4 0.2 -13 1.3 -5 0.1 -4.4 -0.3 -5.6 -1 -5.4 -1.7 -4.6 -2.1 -4.4 -2.9 -3.9 -3.4 -3.1 -4 -2.4 -4.6 -1.6 -5 -0.8 -6 0 -7 0.6 -8.4 0.4 -3 0.8 -3 1.6 -4 2.5 -4 3.1 -3.6 3.8 -3 4.4 -2.7 4.6 -1.9 5 -1.5z"/><path fill="#f00" fill-opacity="0.0355" fill-rule="evenodd" d="M-26 -26.2l4.2 -0.4 5 0.1 13 1.5 4 0.2 4 -0.2 12 -1.5 4.6 -0.1 4.4 0.3 5.6 0.8 5 1.5 4.4 1.9 4.6 2.8 2 1.6 1.9 1.9 1.7 2 1.3 2 1.3 2.6 0.8 2 0.6 2.4 0.4 2.6 0.7 13 0 4 -0.3 3 -0.7 3.4 -1 3 -1.5 3 -1.6 2.6 -2.2 2.5 -2.6 2.5 -2.8 2 -3.6 1.9 -3.4 1.5 -4 1.2 -4 0.8 -4.6 0.4 -3.4 0.1 -4 -0.1 -11.6 -1.4 -4 -0.3 -4 0.2 -13 1.5 -4.4 0.1 -4.6 -0.3 -5.4 -0.9 -5 -1.5 -4.6 -2.1 -4 -2.5 -3.4 -3.1 -2.9 -3.5 -2.2 -4 -1.4 -4.6 -0.7 -5 -0.1 -6 0.6 -10.4 0.4 -3 0.6 -2.6 1.4 -3.4 2.1 -3.6 2.7 -3 3.5 -2.9 4 -2.4 4.4 -1.9 5 -1.5zM39.8 0.2l3 0.4 1 0 0.2 -0.4zM-43.8 0.2l-0.2 0 0.2 0.4 0.6 0 3.5 -0.4z"/><path fill="#f00" fill-opacity="0.0399" fill-rule="evenodd" d="M-25.4 -24.2l4.2 -0.3 4.4 0.1 4.6 0.4 8.4 1.3 4 0.2 3.6 -0.3 12.4 -1.6 4.6 -0.1 4 0.2 5 0.7 5 1.4 4.4 1.8 4 2.4 3.8 3.2 2.8 3.6 1.1 2 0.9 2 0.9 4 0.7 15 -0.2 5.4 -0.5 3 -0.7 2.6 -1 2.4 -1.8 2.9 -2 2.5 -2.4 2.3 -3 2.2 -3.1 1.6 -3.5 1.5 -3.4 1.1 -4 0.8 -4 0.5 -4 0.1 -4 -0.2 -12 -1.6 -3.6 -0.3 -4 0.3 -12.4 1.6 -4.6 0.2 -4 -0.2 -5.4 -0.9 -4.6 -1.2 -4.4 -1.9 -3.8 -2.3 -3.6 -3 -2.9 -3.4 -1.9 -3.6 -1.3 -4 -0.6 -4 -0.1 -4.4 0.6 -13.6 0.2 -2.4 0.5 -2 1.4 -3.5 1.9 -3.1 2.8 -3 3.2 -2.5 4 -2.3 4.1 -1.6 4.5 -1.3zM36.8 0.2l6 0.9 1 -0.1 0.5 -0.8zM-44.3 0.2l0.1 0.3 0.4 0.5 1 0.1 6.4 -0.9z"/><path fill="#f00" fill-opacity="0.0447" fill-rule="evenodd" d="M-25 -22.2l4.2 -0.3 4.6 0.2 4 0.5 8.4 1.3 4 0.3 3.6 -0.3 12 -1.7 4.4 -0.3 4 0.2 5 0.7 4.6 1.1 4 1.6 4 2.2 3.4 2.8 2.8 3.1 1.8 3.6 1 3.4 0.1 2.6 -0.3 5 0.7 9 -0.1 5 -0.4 2.4 -0.7 2.6 -1 2 -1.2 2 -2 2.4 -2.1 2.1 -2.6 1.8 -3 1.7 -3.4 1.5 -3.6 1 -3.4 0.8 -4 0.4 -4 0.1 -4 -0.2 -12 -1.8 -3.6 -0.3 -4 0.3 -8 1.3 -4.4 0.6 -4.6 0.1 -4 -0.2 -5 -0.7 -4.4 -1.2 -4 -1.7 -3.6 -2 -3.4 -2.9 -2.7 -3.1 -2 -3.6 -1 -3.4 -0.4 -3 0 -3 0.7 -10 -0.2 -6.6 0.6 -3.4 1.3 -3 2.1 -3 2.6 -2.6 3 -2.2 3.4 -1.9 4 -1.6 4 -1zM-10.8 0.2l5.6 0.4 1 0 0.6 -0.4zM3.8 0.2l-0.2 0 0.2 0.2 0.4 0.2 1 0 5.8 -0.4zM31.8 0.2l5.3 0.6 5.7 0.8 1 -0.1 0.6 -0.3 0.1 -1zM-44.2 0.2l-0.3 0 0.1 1 0.6 0.3 1 0.1 6 -0.9 5.3 -0.5zM37.8 15.2l-0.4 0 1.8 0.6 1.5 0 -0.1 -0.6 -0.4 0zM-40.2 15.2l-0.4 0 -0.1 0.6 1.5 0 1.8 -0.6z"/><path fill="#f00" fill-opacity="0.0502" fill-rule="evenodd" d="M-27.1 -20.2l4.9 -0.5 5.4 0.1 4.6 0.6 9 1.5 3.4 0.3 3.5 -0.3 11.5 -1.9 4.6 -0.3 4 0.1 4.4 0.5 4.6 1.1 4 1.5 3.4 1.8 3.4 2.5 2.6 2.7 2 3.3 1 3 0 3 -0.8 3.4 -0.1 1 1 7.6 0.3 6.4 -0.2 2 -0.5 2 -1.5 3.6 -1.6 2.3 -2.1 2.1 -2.5 1.9 -3 1.8 -3 1.4 -3.4 1.2 -3.6 0.7 -3.4 0.5 -4.6 0.2 -4.4 -0.3 -4.6 -0.6 -7.4 -1.4 -4 -0.3 -3.6 0.3 -11.4 2 -4.6 0.3 -4 -0.1 -4.5 -0.6 -3.9 -0.9 -4 -1.4 -3.6 -1.8 -3.3 -2.3 -2.7 -2.7 -1.9 -2.9 -1.4 -3.4 -0.5 -3 0 -3.1 0.4 -5.5 0.9 -6 -0.1 -1 -0.9 -4 0.2 -3 1.1 -3 1.6 -2.4 2.2 -2.5 2.4 -2 3 -1.9 3.6 -1.6 4 -1.2zM3.8 0.2l-0.5 0 0.5 0.5 1.4 0.3 12.6 -0.7 12.4 0.2 6.6 0.6 6.4 1.3 0.6 -0.1 0.1 -0.5 0.8 -0.6 -0.1 -1 -0.8 -0.1zM-44.2 0.1l-0.4 0.1 -0.1 1 0.8 0.5 0.1 0.6 0.6 0.1 6.4 -1.3 6.6 -0.6 12.4 -0.2 12.6 0.7 1.4 -0.3 0.5 -0.5zM38.8 14.7l-6.1 0.5 2.5 0.5 6 0.1 0.1 -0.6 -0.5 -0.3zM-39.8 14.7l-1.4 0.4 -0.2 0.7 0.2 0 6 0 2.5 -0.6z"/><path fill="#f00" fill-opacity="0.0563" fill-rule="evenodd" d="M-25.3 -18.8l4.5 -0.2 5 0.3 4.6 0.6 8 1.6 3.4 0.3 3.6 -0.4 7.4 -1.5 4.1 -0.6 4.5 -0.3 4 0.1 4.4 0.6 4 0.9 3.6 1.2 3.4 1.8 2.6 1.7 2 1.7 1.9 2.2 1.2 2 0.8 2.6 0.2 2 -0.6 2 -0.5 0.6 -0.6 0.3 -0.4 0 -1.6 -0.6 -41 0.1 0.6 0.9 1.4 0.3 13.6 -0.7 7 0 6 0.3 4.4 0.6 3.4 0.6 2.6 0.9 1.6 1 0.4 -0.7 1 0.3 1 1.1 0.8 2.4 1 9 0 2 -0.3 2 -0.7 2 -0.8 1.6 -1.4 2.1 -2 2.1 -2.6 1.9 -2.4 1.5 -3 1.3 -3.6 1.1 -3.4 0.8 -3.6 0.4 -4 0.1 -4.4 -0.2 -4.6 -0.7 -8 -1.6 -3.4 -0.3 -3.6 0.3 -7 1.5 -4.4 0.7 -4.6 0.3 -4 -0.1 -4.4 -0.5 -4 -0.9 -3.6 -1.3 -3.4 -1.8 -3 -2.1 -2.7 -2.6 -1.9 -3 -1 -3 -0.2 -3.6 0.8 -8 0.8 -3 0.5 -1 0.7 -0.5 1 -0.3 0.4 0.7 1.6 -1 3 -0.9 3.4 -0.7 4.6 -0.5 6 -0.3 6.4 0 13.6 0.7 1.4 -0.3 0.6 -0.6 0 -0.3 -1 0 -40 -0.1 -1.6 0.6 -0.4 0 -0.6 -0.3 -0.7 -1.2 -0.3 -1 -0.1 -1.4 0.4 -2 0.6 -1.6 1.1 -1.9 1.3 -1.5 1.5 -1.6 3.8 -2.6 4 -2 5 -1.5zM7.2 15.1l-0.4 0.1 -0.1 0.6 4.8 0 7.1 -0.6 -8.8 -0.2zM38.8 14.2l-8 0.8 -7.6 0.2 6.6 0.6 11.4 0 0.5 0 0 -0.6 -0.5 -0.6 -1 -0.3zM-39.8 14.2l-1 0.2 -0.7 0.4 -0.2 1 0.5 0 11.4 0 6.6 -0.6 -7 -0.2zM-18.3 15.2l6.8 0.6 4.8 -0.1 -0.1 -0.5 -1.4 -0.2z"/><path fill="#f00" fill-opacity="0.0597" fill-rule="evenodd" d="M-25.2 -17.2l4.4 -0.3 5 0.3 4.6 0.7 8 1.8 3.4 0.3 3 -0.3 7.6 -1.7 4 -0.6 4.4 -0.4 4.6 0 4 0.5 3.9 0.9 3.5 1.2 3 1.4 2.6 1.6 1.8 1.6 1.6 1.7 1.3 1.7 0.9 2 0.4 2 -0.2 1.6 -0.8 1 -1 0.2 -9 0.2 -32 0 -0.7 0 0 0.6 0.1 0.4 0.6 0.4 1.4 0.3 8 -0.6 5.6 -0.2 7 0 6 0.4 4.4 0.6 3.6 0.9 2 0.8 1.2 1 0.2 0.5 0.1 -0.5 0.5 -0.3 0.4 0.2 0.5 0.5 0.9 3 0.3 4.6 0.8 4.4 -0.2 2.6 -1.2 3 -1.3 2 -1.9 2 -2.3 1.8 -2.6 1.4 -3 1.3 -3 1 -3.4 0.8 -3.6 0.4 -4.4 0.1 -4.6 -0.3 -4.4 -0.8 -7.6 -1.7 -3.4 -0.4 -3 0.4 -7.6 1.7 -4 0.7 -4.4 0.4 -4.6 -0.1 -4 -0.4 -4 -0.9 -3.4 -1.3 -3 -1.4 -3 -2 -2.6 -2.5 -1.8 -2.8 -0.9 -2.4 -0.2 -3 0.8 -4 0.2 -4 0.8 -3 0.5 -1 0.6 -0.3 0.5 0.3 0.1 0.5 0.2 -0.5 1.2 -1 2.6 -1 4 -0.9 4.4 -0.5 6 -0.3 6.6 0 5.4 0.2 7.6 0.6 1.4 -0.3 0.6 -0.4 0.1 -1 -0.7 0 -33.4 0 -7.6 -0.2 -1.1 -0.2 -0.7 -1 -0.1 -1 0 -1.6 0.5 -1.4 0.7 -1.6 1 -1.4 2.7 -2.8 3.6 -2.4 4 -1.8 4.4 -1.3zM38.2 13.7l-6.4 0.8 -6 0.3 -6.6 0.1 -11 -0.3 -1 0.2 -1 0.4 0 0.6 35 0 0.7 0 0 -0.6 -0.1 -0.9 -0.5 -0.5 -1.1 -0.2zM-41.2 13.7l-0.6 0.6 -0.1 0.9 0 0.6 0.7 0 35 0 0 -0.6 -1 -0.4 -1 -0.2 -17 0.2 -6.6 -0.3 -7.4 -0.9z"/><path fill="#f00" fill-opacity="0.0635" fill-rule="evenodd" d="M-26.5 -15.8l5.3 -0.3 5 0.2 5 0.8 8.4 2.1 3 0.3 3 -0.4 7 -1.7 4 -0.8 4.6 -0.5 4.4 0 4 0.5 3.6 0.7 3.4 1.1 3 1.3 2.6 1.5 2 1.5 1.4 1.5 1.4 1.8 0.9 2 0.4 1.4 -0.2 1.6 -0.6 1 -1.3 0.2 -7.6 0.1 -32.4 0 -0.8 0.1 0 1 0.6 0.6 0.2 0.4 1 0.3 12 -1 6 -0.1 6 0.3 6.4 0.7 2.6 0.6 2 0.8 2 1.2 0.5 0.8 0.5 1.2 1 0.1 0.6 1.1 -0.1 3.6 -0.3 1.4 1.3 2.6 0.4 2 -0.3 2 -0.7 1.9 -1.3 2.1 -1.6 1.7 -2.6 1.9 -2.4 1.5 -3 1.3 -3 0.9 -3 0.6 -3.6 0.5 -4.4 0.1 -5 -0.5 -4.6 -0.8 -7.4 -2 -3 -0.3 -3 0.4 -7 1.9 -4 0.8 -4.5 0.4 -4.5 0 -4 -0.4 -3.6 -0.7 -3.4 -1.1 -3 -1.4 -3 -1.9 -2.6 -2.2 -1.9 -2.7 -0.8 -2.6 -0.2 -1.4 0.3 -1.6 1.4 -3 -0.3 -1.4 -0.1 -3.6 0.6 -1.1 1 -0.1 0.5 -1.2 0.8 -1 1.7 -1 2.6 -0.9 3 -0.7 3.9 -0.4 6.1 -0.3 6.4 0 5.6 0.2 7.4 0.8 1 -0.3 0.2 -0.5 0.6 -0.5 0 -1 -0.8 -0.1 -32.4 0 -7.6 -0.1 -1.3 -0.2 -0.6 -1 -0.2 -1 0.1 -1 0.5 -1.6 1.5 -2.6 2.6 -2.5 3 -2 3.4 -1.7 4 -1.3zM41.2 12.6l-7.4 1.2 -6.6 0.6 -7 0.1 -12 -0.2 -1.4 0.3 -0.9 0.6 0 0.6 0.9 0 34.4 0.1 0.8 -0.1 0 -1.6 0.7 -0.4 0 -0.6 -0.9 -0.7zM-41.8 12.5l-0.9 0.7 0 0.6 0.7 0.4 -0.1 1 0.1 0.6 0.2 0 35 0 0.9 0 0 -0.6 -0.9 -0.6 -1.4 -0.3 -12 0.2 -7.6 -0.2 -6.3 -0.5z"/><path fill="#f00" fill-opacity="0.0678" fill-rule="evenodd" d="M-24.6 -14.8l4.8 -0.1 5 0.5 4.6 0.8 7.4 2.1 3 0.4 2.6 -0.4 7 -1.9 4.4 -1 4.6 -0.4 4.4 0 4 0.4 3.6 0.7 3.4 1.1 3 1.4 2 1.2 2 1.5 2.6 2.7 0.8 1.6 0.5 1.4 0 1.6 -0.4 1 -1.5 0.2 -8 0.1 -32 0 -0.3 0.1 -0.2 1 0.6 0.6 0.5 1.2 0.4 0.3 4.6 -0.7 4.4 -0.5 5 -0.3 5.6 0 5 0.3 4.4 0.5 3.1 0.6 2.8 1 1.5 1 0.6 0.8 0.6 1.2 0.3 1.6 -0.9 2.4 -1.4 0.8 -5.8 1.2 -6.8 0.7 -7 0.2 -10 -0.3 -2.4 0.1 -1.6 0.5 -0.4 0.5 -0.1 0.9 35.5 0.1 1 -0.1 0.6 -0.8 0.4 0.1 0.9 0.7 0.6 1.4 -0.1 2 -0.7 2 -1.4 2 -1.7 1.8 -2 1.5 -2.6 1.4 -2.4 1 -3 1 -3 0.6 -3.6 0.5 -5 0 -5 -0.5 -4.4 -0.9 -7 -2.1 -3 -0.4 -2.6 0.4 -7 2.1 -4 0.9 -5 0.5 -4.4 0 -3.6 -0.3 -3.4 -0.7 -3.6 -1.1 -3 -1.3 -2.4 -1.5 -2 -1.6 -1.6 -1.6 -1.1 -1.7 -0.7 -2 -0.1 -2 0.5 -1.2 1 -0.9 0.4 -0.1 0.6 0.8 1 0.1 35.5 -0.1 -0.1 -0.9 -0.4 -0.5 -1.6 -0.5 -2.4 -0.1 -11 0.3 -8 -0.3 -7.6 -1 -3 -0.8 -1.4 -0.8 -0.9 -2.4 0.3 -1.6 0.7 -1.4 0.9 -0.8 1.1 -0.8 3.9 -1.2 6 -0.9 8.4 -0.3 8.6 0.4 8 1.1 0.4 -0.3 0.5 -1.2 0.6 -0.6 -0.2 -1 -0.3 -0.1 -32 0 -8 -0.1 -1.5 -0.2 -0.4 -1 -0.1 -1 0.2 -1 0.6 -1.6 1.8 -2.4 2.8 -2.5 3 -1.8 4 -1.6 4 -1.1zM-43.7 8.2l0.5 -0.2 0.3 0.2 0 0.6 -0.3 0.3zM42.9 8.2l0.3 -0.2 0.5 0.2 -0.5 0.9 -0.3 -0.3zM-43.4 11.2l0.6 -0.3 0.5 0.3 -0.5 0.9 -0.4 -0.3zM42.3 11.2l0.5 -0.3 0.6 0.3 -0.2 0.6 -0.4 0.3z"/><path fill="#f00" fill-opacity="0.0727" fill-rule="evenodd" d="M-23.3 -13.8l5.1 0.1 4.4 0.5 4.6 1.1 6.4 2 2.6 0.5 2.4 -0.3 6.6 -2.1 4 -1 3.4 -0.5 4 -0.3 4.6 0.2 4.4 0.6 4 1.2 3.6 1.5 3.4 2.2 1.6 1.3 1.3 1.6 0.9 1.4 0.6 1.6 0 1.4 -0.1 0.6 -0.3 0.1 -13 0.2 -28 0 -0.5 0.1 -0.4 0.6 -0.2 0.4 0 0.6 0.7 0.7 0.1 -0.3 0.3 0 0 0.4 -0.3 0.2 0.4 1 0.9 0.4 2.6 -0.7 4.5 -0.7 4.9 -0.5 5.6 -0.1 5 0.2 4.4 0.4 4 0.8 2.6 0.9 1.3 0.7 1 1 0.5 1 0.3 1 -0.1 1 -0.6 1.1 -1 0.9 -1.3 0.6 -5.1 1.1 -6.6 0.7 -6.4 0.1 -9.6 -0.4 -2.4 0.1 -1.6 0.4 -0.4 0.3 -0.2 0.7 0 1 35.6 0.1 1.6 -0.1 0.8 0.4 0.4 1 -0.1 1.6 -0.7 1.8 -1 1.6 -2 2 -2 1.4 -2.4 1.4 -2.6 1 -3 0.9 -3 0.6 -3.4 0.4 -5 0 -5 -0.6 -5 -1.2 -6.6 -2.2 -2 -0.3 -2.4 0.3 -6 2.1 -4 1 -4 0.7 -4 0.3 -4.6 -0.2 -4.4 -0.7 -4 -1.1 -3.6 -1.5 -2 -1.2 -2 -1.6 -1.4 -1.5 -1 -1.4 -0.6 -1.6 -0.2 -1.4 0.4 -1.6 0.8 -0.4 1.6 0.1 35.6 -0.1 0 -1 -0.2 -0.7 -1.4 -0.7 -2.6 -0.1 -12 0.4 -8 -0.4 -3.9 -0.5 -3.5 -0.9 -1.9 -0.7 -1.2 -1 -0.5 -1 0 -1.4 0.4 -1 0.7 -1 0.9 -0.8 1.6 -0.8 4.4 -1.1 6.6 -0.7 7.4 -0.2 8 0.6 4 0.7 2.6 0.7 0.9 -0.4 0.4 -1 -0.3 -0.2 0 -0.4 0.3 0 0.1 0.3 0.6 -0.5 0.1 -0.8 -0.6 -1 -0.5 -0.1 -30.6 0 -8.4 -0.1 -2.3 -0.2 -0.1 -2 1.1 -2.6 2.2 -2.4 2.5 -2 3.6 -1.9 3.4 -1.2 4 -1z"/><path fill="#f00" fill-opacity="0.0784" fill-rule="evenodd" d="M-23.2 -12.8l4.9 0.1 5.1 0.7 4.4 1.1 6.6 2.4 2 0.3 2.4 -0.3 5.6 -2.1 3 -0.9 5 -0.9 3 -0.3 3.4 -0.1 3 0.2 3 0.4 3 0.7 3 1.1 3 1.4 2.6 1.6 2 1.7 1.4 1.9 0.8 1.6 0.4 2 -3.2 0.2 -9 0.1 -29 -0.1 -0.9 0.2 -2.1 1 -1 -0.1 -1.5 -0.9 -0.9 -0.2 -28 0.1 -13 -0.3 -0.2 0 0 -0.6 0.4 -1.4 1.2 -2.3 2 -2.1 3 -2.1 3 -1.5 3.6 -1.3 4 -0.8zM-25.1 2.8l6.9 -0.1 6 0.4 5 0.9 3 1.2 1 -0.6 0.4 0 3 0.2 2.6 -0.2 0.4 0 1 0.6 2.3 -1 2.7 -0.6 4 -0.6 4.6 -0.3 8.4 0.1 4 0.4 3.1 0.6 1.9 0.5 2.2 0.9 1.2 1 0.7 1 0.2 1.6 -0.4 1 -0.9 0.7 -1.4 0.7 -2 0.7 -3 0.6 -6.6 0.7 -6 0.1 -9.4 -0.5 -2.6 0.1 -1.4 0.4 -0.7 0.5 0.3 0.4 0.2 1.6 36.6 0.1 0.8 0.3 0.3 0.6 0.1 1 -0.1 1 -0.7 1.4 -1.4 1.9 -2 1.8 -2 1.3 -2.4 1.2 -2.6 0.9 -3 0.8 -3 0.5 -6 0.4 -6 -0.6 -5 -1.2 -7 -2.7 -2 -0.4 -1 0 -1.4 0.4 -5 2 -3 1 -5.6 1.1 -3.4 0.3 -3.6 0 -3.4 -0.3 -3.6 -0.6 -3 -0.8 -3 -1.3 -2.4 -1.3 -2.4 -1.8 -1.6 -1.9 -0.9 -1.7 -0.3 -1 0 -1 0.4 -1 0.2 -0.1 0.6 -0.2 10 0 26 0 0.6 -0.2 0.2 -1.5 0.3 -0.4 -1.1 -0.7 -2 -0.3 -11.6 0.5 -8.4 -0.3 -5.6 -0.9 -2.4 -0.7 -1.7 -0.6 -1.2 -1 -0.2 -0.6 -0.2 -1 0.5 -1.4 0.8 -0.9 0.8 -0.7 2.2 -0.9 2.4 -0.7 3.6 -0.5z"/><path fill="#f00" fill-opacity="0.0851" fill-rule="evenodd" d="M-24.4 -11.8l5.6 0 6 0.8 4.6 1.3 6.4 2.7 1.6 0.4 2 -0.4 4.4 -2 3 -1 5 -1.3 3 -0.4 3.6 -0.2 3 0.1 3.4 0.4 3 0.6 3 0.9 3 1.3 2.6 1.5 2 1.5 1.4 1.6 1.3 1.8 0.7 2 -6 0.2 -15 0.1 -23 -0.2 -29 0.2 -15 -0.3 -0.4 0 0.4 -1.4 1.6 -2.4 2 -2 2.4 -1.8 3 -1.5 3 -1.1 3.6 -0.8zM-25.5 3.2l7.3 0 6.5 0.6 2.6 0.4 2.3 0.8 1.3 0.8 0.7 0.9 0.9 -0.5 -0.2 -1 0.3 -0.2 0.7 0.2 0.3 1 1 1.1 1.6 0.8 1 -0.1 1 -0.7 0.9 -1.1 0.4 -1 0.1 0 0.6 -0.2 0.3 0.2 -0.2 1 0.9 0.5 0.7 -0.9 1.7 -1 2 -0.6 3.6 -0.6 4.4 -0.4 5.6 -0.1 5 0.3 4 0.7 3.7 1.1 1.5 1 0.8 1 0.2 1 -0.3 1 -0.9 1 -1.1 0.6 -1.9 0.6 -3 0.7 -6.6 0.6 -6 0.1 -9.4 -0.6 -2.6 0 -1 0.4 0 0.6 -0.4 0.6 0.2 1 0.4 0.4 0.1 0.6 1.3 0.1 35 0.1 0.8 0.2 0.3 1 -0.1 1 -0.6 1.6 -1.4 1.8 -2 1.7 -2 1.2 -2.6 1.2 -2.4 0.8 -3 0.8 -3 0.5 -3 0.2 -3.6 0 -6 -0.7 -5 -1.5 -6.4 -3 -1.6 -0.4 -1 0.1 -1 0.3 -4.4 2.2 -2.6 1 -3 0.9 -3 0.6 -3.4 0.5 -4 0 -3.6 -0.2 -3.4 -0.6 -3 -0.8 -3 -1.2 -2.6 -1.3 -2 -1.4 -1.4 -1.5 -1.3 -1.8 -0.4 -1.4 0.1 -1 0.2 -0.6 0.8 -0.2 6.6 -0.1 29 0 0.7 -0.1 0.1 -0.6 0.4 -0.4 0.2 -1 -0.4 -0.6 0 -0.6 -1 -0.4 -2.6 0 -9.4 0.6 -6 -0.1 -6.6 -0.6 -3 -0.7 -2 -0.7 -1.5 -0.9 -0.5 -0.7 -0.2 -0.9 0.2 -1 0.3 -0.4 1.1 -1 2.1 -1 2.1 -0.6 3 -0.6zM-4.8 7l0 0.4 0.6 0.3 0.3 -0.5 -0.3 -0.2zM4.2 7l-0.3 0.2 0.3 0.5 0.6 -0.5 0 -0.2z"/><path fill="#f00" fill-opacity="0.0930" fill-rule="evenodd" d="M-25.8 -10.8l3 -0.2 3.6 0 3.4 0.4 3.6 0.6 3 0.9 2.4 0.9 6.6 3.4 1 -0.1 3.4 -2.1 3 -1.4 5.6 -1.7 3.4 -0.6 3.6 -0.3 3.4 0 3.6 0.4 3 0.5 3 0.9 2.4 1 2.6 1.3 2 1.4 2 1.8 1.1 1.5 1.1 2 -13.2 0.3 -26.6 -0.1 -1.9 -0.2 -1.5 -0.9 -1 -0.2 -2.1 1.1 -1.9 0.2 -25 0.1 -14.6 -0.3 -0.2 0 0.8 -1.5 1.4 -2 2 -1.8 2 -1.4 2.6 -1.3 3 -1.2 3 -0.8zM-25.1 3.8l4.9 -0.2 4.4 0.2 4 0.6 3.4 0.8 1.2 0.6 1.1 1 0.8 1.4 0.1 0.8 0.4 0 0.1 -0.8 0.5 -0.3 0.4 0 0.5 0.3 0.3 1 -0.3 1.6 0.3 1 0.1 1.4 2.7 0.9 1 -0.1 2.1 -0.8 0.1 -1.4 0.3 -1 -0.3 -1.6 0.3 -1 0.5 -0.3 0.4 0 0.5 0.3 0.1 0.8 0.4 0 0.1 -0.8 0.5 -1 0.8 -1 1.2 -0.7 1.4 -0.5 4.6 -0.9 5.4 -0.5 5.9 0.2 5.1 0.6 2 0.5 2 0.8 1 0.5 0.9 1 0.2 1 -0.5 1 -1 0.9 -1.5 0.7 -3.1 0.7 -4 0.6 -4.4 0.2 -4.6 -0.1 -5.7 -0.4 -4.3 -0.7 -1 -0.4 -1 -1.4 -0.8 0.5 0 0.4 0.5 0.6 -0.8 0.4 1.1 0.6 -0.1 0.4 -0.3 0.6 -1.4 0.4 0.1 0.6 0.4 0.4 0.6 0.6 0.7 0.3 0.2 0.7 0.8 0.1 35.6 0.1 0.5 0.2 0.2 0.6 0 1 -0.7 1.4 -1 1.4 -2 1.8 -2 1.2 -2.6 1.2 -2.4 0.9 -3 0.7 -3 0.5 -3.6 0.3 -3.4 -0.1 -3.6 -0.3 -3.4 -0.8 -3 -0.9 -2.6 -1.1 -5 -3.1 -1 -0.4 -0.4 0 -1 0.4 -3.6 2.3 -2.4 1.3 -3 1.1 -3 0.8 -4 0.6 -4 0.2 -4 -0.2 -3.6 -0.6 -3 -0.7 -3 -1.1 -2.4 -1.3 -2 -1.3 -1.9 -1.8 -1 -1.4 -0.4 -1.6 0.2 -1 0.5 -0.2 7 -0.1 29 0 0.4 -0.1 0.2 -0.7 0.7 -0.3 0.6 -0.6 0.4 -0.4 0.1 -0.6 -1.4 -0.4 -0.3 -0.6 -0.1 -0.4 1.1 -0.6 -0.8 -0.4 0.5 -0.6 0 -0.4 -0.8 -0.5 -1.1 1.5 -1.4 0.4 -5.5 0.7 -5 0.4 -5 0 -4.6 -0.4 -3.8 -0.7 -2.6 -0.9 -1.6 -1.1 -0.5 -1 0.2 -1 0.9 -1 1.4 -0.7 2.1 -0.7 2.9 -0.7z"/><path fill="#f00" fill-opacity="0.1026" fill-rule="evenodd" d="M-27.2 -9.7l4 -0.5 4.4 0.1 4.6 0.5 4 1 4 1.6 2.9 1.8 1 1 0.7 1 0.1 0.4 -0.1 1 -1.1 1.6 -1.1 0.2 -25 0.1 -15 -0.3 1.6 -2.1 1.4 -1.5 3.6 -2.6 4.4 -2 2.5 -0.7zM15.3 -9.8l4.5 -0.4 4.4 0.1 4 0.5 4 1 4 1.7 3 1.8 2.6 2.3 2 2.6 -7.6 0.2 -15 0.1 -16 -0.1 -2.5 -0.2 -0.8 -1 -0.4 -1.6 0.4 -1 1.4 -1.4 2.5 -1.6 3 -1.3 3 -0.9zM-23.9 4.2l6.7 0.1 3.4 0.4 2.7 0.5 1.9 0.7 1.3 0.9 0.8 1 0.1 1 -0.5 1 -1.3 0.6 -3 0.7 -4 0.4 -4 0.3 -4 -0.1 -4 -0.4 -2.6 -0.5 -2.6 -1 -1.2 -1 -0.1 -1 0.6 -1 1.7 -1 1.8 -0.6 3 -0.6zM18.1 4.2l6.7 0.1 3 0.3 2.4 0.6 1.8 0.6 1.7 1 0.4 0.4 0.2 1 -0.6 1.1 -1.7 0.9 -2.8 0.8 -3.4 0.5 -4 0.3 -4 -0.1 -4.8 -0.5 -3.2 -0.5 -1.6 -0.5 -0.7 -0.4 -0.4 -0.6 -0.1 -0.4 0.1 -1 0.8 -1 1.7 -1 1.6 -0.6 3 -0.6zM-4.4 8.2l0.4 0 0.2 0.6 -0.4 0.5 -0.2 -0.5zM4 8.2l0.4 0 0 0.6 -0.2 0.5 -0.4 -0.5zM-5.1 11.8l0.3 -0.3 0.6 0.3 -0.6 0.5zM4.2 11.8l0.6 -0.3 0.3 0.3 -0.3 0.5zM-5.3 15.8l0.1 -0.5 1 0 1 0.1 1.1 0.8 0.5 1.6 -0.2 1 -0.5 1 -1.4 1.4 -1.2 1 -2.9 1.6 -3.4 1.3 -4.6 0.9 -4.4 0.4 -3.6 -0.1 -4 -0.5 -3.4 -0.8 -3.6 -1.2 -3 -1.6 -2.4 -1.9 -1.6 -1.9 -0.4 -1.6 0 -0.6 1 -0.1 35 -0.2zM2.6 15.8l0.6 -0.4 1 -0.1 1 0 0.1 0.5 0.9 0.1 34.6 0.1 1.4 0.2 0 0.6 -0.4 1.6 -1.6 1.9 -2.4 1.9 -3 1.6 -3.6 1.2 -3.4 0.8 -4 0.5 -3.6 0.1 -4 -0.3 -4 -0.8 -3.4 -1.1 -3 -1.4 -2.7 -2 -1.3 -2 -0.2 -1.6 0.5 -1z"/><path fill="#f00" fill-opacity="0.1143" fill-rule="evenodd" d="M-25.4 -9.2l4.2 -0.3 4 0.2 4 0.7 4 1.1 3.4 1.6 2.3 1.7 1 1.4 0.1 1 -0.2 1 -0.3 0.6 -0.3 0.1 -5 0.1 -23 0 -12.2 -0.2 2.2 -2.4 1.4 -1.3 2 -1.4 2 -1.1 2.6 -1.1 2.4 -0.7zM17.2 -9.2l4 -0.3 4 0.2 4 0.7 3.6 1 3 1.2 3 1.7 2.4 2.1 2.2 2.4 -7.6 0.2 -14.6 0.1 -15.4 -0.1 -2.9 -0.2 -0.5 -1.6 0.1 -1 1 -1.4 1.7 -1.4 2.6 -1.3 3 -1.1 3 -0.7zM-26.8 5.2l6 -0.4 5.8 0.4 2.4 0.6 1.8 0.7 1.2 0.7 0.5 1 -0.1 0.6 -0.5 0.4 -0.9 0.6 -1.6 0.4 -2.7 0.6 -6.3 0.3 -5.6 -0.4 -3.5 -0.9 -1 -0.6 -0.8 -1 0 -0.4 0.3 -0.6 1 -0.8 1.7 -0.6zM15 5.2l5.8 -0.4 6 0.4 2.3 0.6 1.7 0.6 1 0.8 0.3 0.6 0 0.4 -0.8 1 -1 0.6 -1.5 0.5 -2.6 0.5 -6 0.3 -3.4 -0.2 -3 -0.3 -3.2 -0.8 -0.9 -0.6 -0.5 -0.4 -0.1 -0.6 0.5 -1 1.2 -0.7 1.8 -0.7zM-4.8 15.8l0.6 0 0.7 0.4 0.5 1 0 1 -0.3 1 -0.6 1 -1 1 -1.3 1 -3 1.5 -3.6 1 -4 0.7 -4 0.2 -4 -0.1 -3.4 -0.5 -3.6 -0.9 -3 -1.1 -3 -1.5 -2.4 -1.9 -1.6 -2 -0.3 -1.4 0.9 -0.1 5.4 -0.1 29.6 -0.1zM4.6 15.8l1.6 0.1 29.6 0.1 5.4 0.1 0.9 0.1 -0.3 1.4 -1.6 2 -2.4 1.9 -3 1.5 -3 1.1 -3.6 0.9 -3.4 0.5 -4 0.1 -4 -0.2 -4 -0.7 -3.6 -1 -3 -1.5 -2 -1.6 -0.6 -0.8 -0.5 -1 -0.2 -1 0.3 -1 0.6 -0.7z"/><path fill="#f00" fill-opacity="0.1290" fill-rule="evenodd" d="M-22.3 -8.8l4.1 0.2 3.4 0.4 3.6 0.8 3.4 1.3 2.5 1.4 1.5 1.3 0.6 0.7 0.3 0.9 -0.1 1.6 -3.2 0.2 -15 0.1 -14 -0.1 -7.7 -0.2 2.1 -2.2 2 -1.5 2 -1.3 2.6 -1.2 3 -1 2.4 -0.6 3 -0.5zM20.4 -8.8l3.4 0.1 3.4 0.4 3.6 0.8 3 0.9 2.4 1.2 2.6 1.5 2 1.5 2.1 2.2 -7.7 0.2 -14 0.1 -15 -0.1 -3.2 -0.2 -0.1 -1.6 0.7 -1.4 1.6 -1.5 2 -1.2 3 -1.2 3 -0.8 3.6 -0.6zM-24 5.8l4.8 -0.1 4 0.5 1.8 0.6 0.8 0.4 0.5 0.6 0 0.4 -0.3 0.6 -1.4 0.6 -4 0.8 -4.4 0.1 -4 -0.5 -1.8 -0.6 -0.9 -0.4 -0.4 -0.6 0 -0.4 0.3 -0.6 1.2 -0.6 1.6 -0.5zM17.9 5.8l4.3 -0.2 4 0.5 2 0.7 0.8 0.4 0.3 0.6 0 0.4 -0.4 0.6 -1.1 0.6 -1.6 0.4 -2.4 0.4 -5 0.1 -3.9 -0.5 -1.7 -0.6 -0.8 -0.4 -0.3 -0.6 0 -0.4 0.5 -0.6 1.2 -0.6 1.4 -0.4zM-42 16.2l9.8 -0.2 27 -0.1 0.9 0.3 0.4 0.6 0.2 1 -0.5 1.4 -1.2 1.6 -1.8 1.2 -2.6 1.1 -3 0.9 -3 0.6 -3.4 0.3 -3.6 0 -3.4 -0.3 -3 -0.5 -3 -0.8 -3 -1.2 -2.6 -1.3 -2 -1.5 -1.4 -1.5zM4.3 16.2l0.9 -0.3 15.6 0 16 0.1 5.2 0.2 -0.8 1.6 -1.4 1.5 -2.6 1.8 -3 1.4 -3 1.1 -3.4 0.8 -3.6 0.4 -3 0.1 -4 -0.2 -3.4 -0.5 -3 -0.8 -3 -1.1 -2.4 -1.5 -1.2 -1.6 -0.5 -1.4 0.2 -1z"/><path fill="#f00" fill-opacity="0.1481" fill-rule="evenodd" d="M-26.4 -7.8l4.2 -0.3 4 0.1 4 0.6 3.4 0.8 3.6 1.4 2.4 1.6 1.2 1.4 0.4 1 0.1 1 -4.1 0.2 -14 0 -21.2 -0.2 3.2 -2.7 3.4 -2.1 4.6 -1.7zM16.2 -7.8l3.6 -0.3 4 0.1 4 0.5 3.4 0.8 3 1 3 1.5 2.6 1.7 2.6 2.3 -19.2 0.2 -20 -0.2 -0.1 0 0.1 -1 0.6 -1.3 1 -1.1 1.4 -1 2 -1 2.6 -1zM-24.1 7.2l2.3 -0.3 2.6 0 1.6 0.3 0.9 0.6 0 0.4 -1 0.6 -1.5 0.2 -3.6 0 -1.1 -0.2 -1 -0.6 0 -0.4zM17.6 7.2l2.2 -0.3 2 0 2.3 0.4 0.8 0.5 0 0.4 -1 0.6 -2.1 0.3 -2 0 -2.1 -0.3 -1 -0.6 0 -0.4zM-41.8 16.2l11.6 -0.2 24.4 0 1.1 0.2 0.3 0.6 0.1 1 -0.6 1.4 -1.3 1.4 -1.6 1 -2.4 1 -3 0.8 -3 0.6 -3 0.2 -3.5 0 -3.1 -0.2 -3 -0.5 -2.4 -0.6 -3 -1 -3 -1.5 -2 -1.3 -1.6 -1.3zM4.7 16.2l1.1 -0.2 15 -0.1 15 0.1 6 0.2 -1 1.6 -2 1.7 -2.6 1.5 -2.4 1.1 -3 1 -3.1 0.6 -2.9 0.4 -3.6 0.2 -3.4 -0.2 -3.6 -0.5 -3 -0.7 -3 -1.1 -2 -1.2 -1.3 -1.4 -0.6 -1.4 0.1 -1z"/><path fill="#f00" fill-opacity="0.1739" fill-rule="evenodd" d="M-25.4 -7.2l3.6 -0.3 4 0.2 3.6 0.5 3.4 0.9 3 1.2 2.6 1.5 1.4 1.6 0.6 1.4 -4.6 0.1 -13.4 0.1 -20.6 -0.2 3.6 -2.8 3.4 -1.8 4.6 -1.6zM17.3 -7.2l3.5 -0.3 3.4 0.1 3.6 0.5 3.4 0.8 3 1 2.6 1.2 2.4 1.6 2.6 2.1 -20 0.2 -18.6 -0.2 0.4 -1 0.6 -1.1 1.6 -1.3 1.4 -0.9 4.6 -1.7zM-41.7 16.2l12.9 -0.2 23 0 0.8 0.2 0.3 1 -0.5 1.6 -1 1.1 -1.6 1 -2.4 1.1 -3 0.8 -3 0.5 -6 0.3 -3 -0.2 -3 -0.4 -2.6 -0.6 -3 -0.9 -2.4 -1.1 -2.6 -1.5 -2 -1.6zM5 16.2l0.8 -0.2 15 0 20.9 0.2 -1.5 1.6 -2 1.4 -2.4 1.4 -2.6 1 -2.4 0.8 -3 0.7 -3 0.4 -3.6 0.1 -3.4 -0.1 -3.6 -0.5 -3 -0.7 -2.4 -0.9 -2 -1.1 -1.6 -1.5 -0.5 -1.6z"/><path fill="#f00" fill-opacity="0.2105" fill-rule="evenodd" d="M-24.4 -6.8l3.2 -0.1 3.4 0.2 3.6 0.5 3 0.7 3 1.1 2.4 1.4 1.6 1.3 0.8 1.5 -17.8 0.2 -20 -0.2 3.4 -2.5 4 -2 4.6 -1.3zM18.4 -6.8l3.4 -0.1 3.4 0.2 3 0.5 3 0.7 2.6 0.8 2.4 1.2 2.6 1.4 2.4 1.9 -20 0.2 -17.8 -0.2 0.8 -1.5 1 -0.9 3 -1.8 2.6 -0.9 2.4 -0.7zM-41.5 16.2l13.7 -0.2 22 0.1 0.6 0.1 0.2 1 -0.4 1 -1.4 1.5 -1.4 0.9 -2 0.8 -2.6 0.7 -3 0.6 -3 0.3 -3.4 0 -5.6 -0.5 -5.4 -1.5 -4.6 -2 -2 -1.3zM5.2 16.2l1 -0.2 14.6 0 20.7 0.2 -1.7 1.5 -2 1.3 -2.6 1.2 -2.4 1 -5.6 1.4 -6 0.4 -3.4 -0.1 -3 -0.4 -3 -0.6 -2.6 -0.9 -2 -1 -1.4 -1.3 -0.8 -1.5z"/><path fill="#f00" fill-opacity="0.2667" fill-rule="evenodd" d="M-23.3 -6.2l3.1 -0.1 3 0.2 3 0.5 3 0.7 2.4 0.9 2.6 1.3 1.4 1.1 1.2 1.4 -17.6 0.2 -19.3 -0.2 3.7 -2.5 4 -1.8 4.6 -1.2zM19.4 -6.2l5.8 0.1 3 0.4 3 0.8 2.6 0.8 2.4 1.1 4.3 2.8 -19.3 0.2 -17.6 -0.2 0.6 -0.9 1.6 -1.3 2 -1.1 2 -0.9 4.4 -1.2zM-41.3 16.2l14.1 -0.2 21 0.1 0.9 0.1 0 0.6 -0.5 1.3 -1 1 -1.4 0.9 -2 0.8 -2.6 0.7 -3 0.6 -6 0.4 -5.4 -0.5 -5 -1.2 -4.6 -1.8zM5.3 16.2l0.9 -0.1 14.6 -0.1 20.5 0.2 -4.5 2.8 -2.6 1.1 -2.4 0.9 -5 1.1 -5.6 0.4 -3.4 -0.2 -3 -0.4 -3 -0.6 -2.6 -0.8 -2 -1.1 -1 -0.7 -0.9 -1.5z"/><path fill="#f00" fill-opacity="0.3636" fill-rule="evenodd" d="M-22.1 -5.8l5.3 0.3 5.6 1.2 2.4 0.9 2 0.9 1.6 1 1.5 1.3 -17.5 0.2 -18.6 -0.2 3.6 -2.2 4.4 -1.8 5 -1.2zM20.6 -5.8l5.6 0.4 5 1 4.6 1.7 4 2.5 -18.6 0.2 -17.5 -0.2 1.5 -1.3 1.6 -1 4 -1.7 5 -1.1zM-40.8 16.2l20 -0.2 14.6 0.1 0.8 0.1 -0.2 1 -0.6 1 -1.6 1 -2 0.9 -2.4 0.8 -3 0.6 -6 0.4 -5.6 -0.4 -5 -1.1 -4 -1.5zM5.4 16.2l0.8 -0.1 14.6 -0.1 20 0.2 -5 2.7 -4 1.5 -5 1.1 -5.6 0.4 -6 -0.4 -3 -0.6 -2.4 -0.8 -2 -0.9 -1.6 -1 -0.6 -1z"/><path fill="#f00" fill-opacity="0.5357" fill-rule="evenodd" d="M-27.4 -4.8l3.2 -0.3 3.4 -0.1 3.6 0.2 3 0.4 3 0.8 2.4 0.9 2.6 1.2 2.1 1.5 -17.1 0.2 -17.9 -0.2 2.9 -1.7 2.4 -1.1 3 -1zM15.3 -4.8l2.9 -0.3 3.5 -0.1 3.5 0.2 3 0.4 3 0.7 2.6 0.9 2.4 1.1 2.9 1.7 -17.9 0.2 -17.1 -0.2 2.7 -1.8 2.4 -1.1 3 -1zM-40.2 16.2l19.4 -0.2 14 0.1 1.3 0.1 -0.3 0.9 -1 1 -1.4 0.9 -2 0.8 -5 1.2 -6 0.4 -5 -0.3 -5 -1 -4 -1.4zM5.5 16.2l1.3 -0.1 14 -0.1 19.4 0.2 -5 2.5 -4 1.4 -5 1 -5 0.3 -6 -0.4 -5 -1.2 -2 -0.8 -1.4 -0.9 -1 -1z"/><path fill="#f00" fill-opacity="1.0000" fill-rule="evenodd" d="M-23.4 -4.8l5.2 0.1 5 0.8 4.4 1.4 4.3 2.3 -16.7 0.1 -17.3 -0.1 3.3 -1.8 4 -1.4 4 -0.9zM19.4 -4.8l5.4 0.1 5 0.9 4.4 1.4 4.3 2.2 -17.3 0.1 -16.7 -0.1 3.3 -1.9 3.4 -1.3 4 -0.9zM-39.4 16.2l18.6 -0.2 15.3 0.2 -0.7 1.2 -1 0.7 -3.6 1.5 -4.9 1 -5.5 0.4 -5 -0.4 -4.6 -0.8 -4 -1.4zM5.5 16.2l15.3 -0.2 18.6 0.2 -4.6 2.2 -4 1.4 -4.6 0.8 -5 0.4 -5.4 -0.4 -5 -1 -3.6 -1.5 -1 -0.7z"/></g>
</g>
<polygon points="187.70,506.00 190.20,490.15 226.40,490.15 228.80,506.00" fill="#000" fill-opacity="0.24"/><polygon points="276.30,506.00 273.80,490.15 237.60,490.15 235.20,506.00" fill="#000" fill-opacity="0.24"/>
</g>
<rect x="73.5" y="618.95" width="317.0" height="0.95" fill="#fff"/>
<rect x="73.5" y="375.5" width="317.0" height="245.0" fill="none" stroke="#000" stroke-width="1.10"/>
<line x1="88.50" y1="620.50" x2="88.50" y2="625.90" stroke="#000" stroke-width="1.10"/>
<text x="88.10" y="641.40" font-size="13.89" text-anchor="middle" textLength="19.2" lengthAdjust="spacingAndGlyphs">−2</text>
<line x1="160.50" y1="620.50" x2="160.50" y2="625.90" stroke="#000" stroke-width="1.10"/>
<text x="160.10" y="641.40" font-size="13.89" text-anchor="middle" textLength="19.2" lengthAdjust="spacingAndGlyphs">−1</text>
<line x1="232.50" y1="620.50" x2="232.50" y2="625.90" stroke="#000" stroke-width="1.10"/>
<text x="232.10" y="641.40" font-size="13.89" text-anchor="middle" textLength="8.3" lengthAdjust="spacingAndGlyphs">0</text>
<line x1="303.50" y1="620.50" x2="303.50" y2="625.90" stroke="#000" stroke-width="1.10"/>
<text x="303.10" y="641.40" font-size="13.89" text-anchor="middle" textLength="8.3" lengthAdjust="spacingAndGlyphs">1</text>
<line x1="375.50" y1="620.50" x2="375.50" y2="625.90" stroke="#000" stroke-width="1.10"/>
<text x="375.10" y="641.40" font-size="13.89" text-anchor="middle" textLength="8.3" lengthAdjust="spacingAndGlyphs">2</text>
<line x1="68.10" y1="398.50" x2="73.50" y2="398.50" stroke="#000" stroke-width="1.10"/>
<text x="62.60" y="403.35" font-size="13.89" text-anchor="end" textLength="21.3" lengthAdjust="spacingAndGlyphs">1.5</text>
<line x1="68.10" y1="434.50" x2="73.50" y2="434.50" stroke="#000" stroke-width="1.10"/>
<text x="62.60" y="439.35" font-size="13.89" text-anchor="end" textLength="21.3" lengthAdjust="spacingAndGlyphs">1.0</text>
<line x1="68.10" y1="470.50" x2="73.50" y2="470.50" stroke="#000" stroke-width="1.10"/>
<text x="62.60" y="475.35" font-size="13.89" text-anchor="end" textLength="21.3" lengthAdjust="spacingAndGlyphs">0.5</text>
<line x1="68.10" y1="506.50" x2="73.50" y2="506.50" stroke="#000" stroke-width="1.10"/>
<text x="62.60" y="511.35" font-size="13.89" text-anchor="end" textLength="21.3" lengthAdjust="spacingAndGlyphs">0.0</text>
<line x1="68.10" y1="541.50" x2="73.50" y2="541.50" stroke="#000" stroke-width="1.10"/>
<text x="62.60" y="546.35" font-size="13.89" text-anchor="end" textLength="32.5" lengthAdjust="spacingAndGlyphs">−0.5</text>
<line x1="68.10" y1="577.50" x2="73.50" y2="577.50" stroke="#000" stroke-width="1.10"/>
<text x="62.60" y="582.35" font-size="13.89" text-anchor="end" textLength="32.5" lengthAdjust="spacingAndGlyphs">−1.0</text>
<line x1="68.10" y1="613.50" x2="73.50" y2="613.50" stroke="#000" stroke-width="1.10"/>
<text x="62.60" y="618.35" font-size="13.89" text-anchor="end" textLength="32.5" lengthAdjust="spacingAndGlyphs">−1.5</text>
<text x="232.00" y="660.70" font-size="13.89" text-anchor="middle" textLength="8.2" lengthAdjust="spacingAndGlyphs">y</text>
<text x="20.50" y="498.00" font-size="13.89" text-anchor="middle" textLength="7.3" lengthAdjust="spacingAndGlyphs" transform="rotate(-90 20.50 498.00)">z</text>
<text x="232.00" y="366.60" font-size="16.67" text-anchor="middle" textLength="171.0" lengthAdjust="spacingAndGlyphs">Ez (q-TM symmetric)</text>
<rect x="410.00" y="366.60" width="14.40" height="274.95" fill="url(#cb)"/>
<polygon points="410.00,366.90 417.20,352.85 424.40,366.90" fill="rgb(5,48,97)"/>
<polygon points="410.00,641.55 410.00,366.60 417.20,352.85 424.40,366.60 424.40,641.55" fill="none" stroke="#000" stroke-width="1.10" stroke-linejoin="miter"/>
<line x1="424.40" y1="379.50" x2="430.10" y2="379.50" stroke="#000" stroke-width="1.10"/>
<text x="434.30" y="385.10" font-size="13.89" text-anchor="start" textLength="16.8" lengthAdjust="spacingAndGlyphs">30</text>
<line x1="424.40" y1="421.50" x2="430.10" y2="421.50" stroke="#000" stroke-width="1.10"/>
<text x="434.30" y="427.10" font-size="13.89" text-anchor="start" textLength="16.8" lengthAdjust="spacingAndGlyphs">20</text>
<line x1="424.40" y1="462.50" x2="430.10" y2="462.50" stroke="#000" stroke-width="1.10"/>
<text x="434.30" y="468.10" font-size="13.89" text-anchor="start" textLength="16.8" lengthAdjust="spacingAndGlyphs">10</text>
<line x1="424.40" y1="504.50" x2="430.10" y2="504.50" stroke="#000" stroke-width="1.10"/>
<text x="434.30" y="510.10" font-size="13.89" text-anchor="start" textLength="8.4" lengthAdjust="spacingAndGlyphs">0</text>
<line x1="424.40" y1="545.50" x2="430.10" y2="545.50" stroke="#000" stroke-width="1.10"/>
<text x="434.30" y="551.10" font-size="13.89" text-anchor="start" textLength="27.8" lengthAdjust="spacingAndGlyphs">−10</text>
<line x1="424.40" y1="587.50" x2="430.10" y2="587.50" stroke="#000" stroke-width="1.10"/>
<text x="434.30" y="593.10" font-size="13.89" text-anchor="start" textLength="27.8" lengthAdjust="spacingAndGlyphs">−20</text>
<line x1="424.40" y1="628.50" x2="430.10" y2="628.50" stroke="#000" stroke-width="1.10"/>
<text x="434.30" y="634.10" font-size="13.89" text-anchor="start" textLength="27.8" lengthAdjust="spacingAndGlyphs">−30</text>
<text x="479.10" y="507.27" font-size="13.89" text-anchor="middle" textLength="49.0" lengthAdjust="spacingAndGlyphs" transform="rotate(-90 479.10 507.27)">Re{Ez}</text>
</g>
<g>
<clipPath id="clip3"><rect x="565.5" y="375.5" width="317.0" height="245.0"/></clipPath>
<g clip-path="url(#clip3)">
<g filter="url(#cm)">
<rect x="563.5" y="373.5" width="321.0" height="249.0" fill="#000"/>
<rect x="565.5" y="375.5" width="158.5" height="245.0" fill="#0f0" fill-opacity="0.008"/><g transform="translate(724.00 506.00) scale(1 -1)"><path fill="#f00" fill-opacity="0.0080" fill-rule="evenodd" d="M32.8 -78.8l3.4 -0.2 4 -0.1 7.6 0.6 7.4 1.5 7.6 2.4 7 3 7 4 6.4 4.7 6 5.3 5.4 5.8 4.4 6 3.9 6.6 3.2 7 2.7 7.4 2 8 1.5 8.6 0.8 9 0.2 9.4 -0.5 9 -1.1 9 -1.7 8.6 -2.5 8 -3 7.4 -3.5 6.6 -4.4 6.4 -5 6 -5.8 5.8 -6.6 5 -7 4.4 -7.4 3.5 -7.6 2.7 -7.4 1.7 -7.6 0.8 -5 0.1 -4.4 -0.3 -4.6 -0.8 -4 -1.1 -4 -1.6 -3.4 -1.9 -3 -2.2 -2.8 -2.5 -2.2 -2.9 -2 -3.2 -1.6 -3.5 -1.4 -4 -1.1 -4.4 -0.9 -5 -0.6 -5.6 -0.5 -6.4 -0.4 -11.6 -0.2 -15.4 0 -28.6 0.2 -18 0.4 -9.4 0.5 -7.9 0.9 -6.7 1.2 -5.4 1.7 -5.6 2.2 -4.7 2.6 -3.7 3.4 -3.6 4 -2.9 4.6 -2.3 5 -1.6z"/><path fill="#f00" fill-opacity="0.0091" fill-rule="evenodd" d="M33.3 -63.8l5.9 0 6 0.7 6.6 1.6 6 2.1 6 2.9 5.4 3.4 5.6 4.2 5 4.7 4.2 5 3.9 5.4 3.4 6 2.7 6 2.4 7 1.6 6.6 1.1 7 0.5 7 -0.1 7 -0.7 7 -1.2 7 -2 7 -2.3 6 -2.9 6 -3.4 5.4 -4.1 5.6 -4.6 5 -5 4.4 -5.1 3.7 -6 3.5 -6 2.7 -6 1.9 -6.4 1.4 -6 0.5 -4.6 0 -4.4 -0.6 -4 -0.9 -4 -1.4 -4 -2 -3 -2.1 -2.6 -2.3 -2.4 -3 -2 -3.2 -1.6 -3.1 -1.4 -4.1 -1 -4 -0.9 -4.4 -0.7 -5.6 -0.8 -14 -0.2 -9.4 0.1 -17 -0.1 -6 0.5 -17 0.5 -7.1 0.8 -5.9 1.1 -5.6 1.4 -4.4 1.7 -4.2 2.6 -4.1 3 -3.5 3.4 -2.9 4 -2.3 4.6 -1.8 4.4 -1.1z"/><path fill="#f00" fill-opacity="0.0112" fill-rule="evenodd" d="M31 -55.2l5.2 -0.2 5.6 0.5 5.4 1.2 5.6 1.8 5.4 2.5 5 2.9 4.6 3.3 4.4 4.1 4 4.3 3.7 5 3 5 2.6 5.6 2 5.4 1.7 6.1 1.1 6.5 0.5 6 0.1 6 -0.5 6.4 -1.1 6 -1.7 6.6 -2 5.4 -2.6 5.6 -3 5 -3.7 5 -4.1 4.4 -4 3.7 -5 3.7 -5 2.9 -5.4 2.5 -5 1.7 -5.6 1.2 -5.4 0.6 -4.6 0 -4 -0.5 -4 -0.8 -3.4 -1.2 -3.6 -1.7 -3 -1.9 -2.4 -2.2 -2.3 -2.4 -2.1 -3 -1.6 -3 -1.5 -3.6 -1.1 -3.5 -0.9 -4.5 -0.7 -4.4 -1 -12 -0.2 -8.6 0.2 -16 -0.2 -5 0.4 -11.4 0.6 -7 0.8 -5.6 1 -4.8 1.3 -4.2 1.7 -3.9 2.2 -3.5 2.8 -3.4 3 -2.6 3.6 -2.3 3.9 -1.7 4.5 -1.3z"/><path fill="#f00" fill-opacity="0.0134" fill-rule="evenodd" d="M29.9 -49.2l4.9 -0.2 5 0.4 5 1 5 1.6 4.9 2.3 4.5 2.6 4.6 3.2 3.9 3.5 3.5 4 3.1 4 2.7 4.6 2.5 5 1.8 5 1.6 5.4 1 5.6 0.5 6 0.1 6 -0.5 5.4 -0.8 5.6 -1.5 5.4 -1.7 5 -2.3 5 -2.6 4.6 -3.3 4.4 -3.6 4.1 -4 3.7 -4.4 3.3 -4.6 2.7 -4.4 2.1 -5 1.7 -5 1.1 -5 0.6 -4 0 -4 -0.4 -3.6 -0.7 -3.4 -1.1 -3 -1.4 -3 -1.8 -2.6 -2 -2.4 -2.5 -2 -2.7 -1.6 -2.6 -1.4 -3.3 -1.3 -3.8 -1 -4 -0.7 -4.5 -1 -10.9 -0.2 -6 0.4 -15.6 -0.4 -5 0.3 -8 0.6 -6 0.9 -5.4 1 -4.6 1.4 -4.1 1.7 -3.9 2.3 -3.4 2.4 -2.9 3 -2.5 3.6 -2.2 3.4 -1.5 4 -1.2z"/><path fill="#f00" fill-opacity="0.0162" fill-rule="evenodd" d="M26.7 -44.2l4.5 -0.5 4.6 0.1 4.4 0.6 5 1.3 4.6 1.6 4.4 2.3 4.1 2.6 3.9 3.1 3.6 3.5 3.1 3.8 2.7 4 2.4 4.6 1.9 4.4 1.5 5 1.1 5 0.7 5 0.2 5.6 -0.1 5.4 -0.7 5.6 -1.1 5 -1.5 5 -1.9 4.4 -2.4 4.6 -2.7 4 -3.2 3.9 -3.6 3.5 -4 3.2 -4 2.5 -4.4 2.3 -4.6 1.7 -4.4 1.1 -4.6 0.7 -4 0.1 -3.4 -0.2 -3.6 -0.5 -3 -0.8 -3 -1.1 -3 -1.5 -2.4 -1.7 -2.6 -2.2 -2 -2.2 -1.6 -2.4 -1.7 -3 -1.3 -3 -1.2 -3.4 -0.9 -4 -0.7 -4.4 -0.6 -4.6 -0.4 -7.6 0.6 -16 -0.6 -4 0.1 -4.4 0.6 -6 0.7 -5.3 1 -4.5 1.2 -3.8 1.5 -3.4 1.9 -3.2 2.4 -3.3 2.6 -2.4 3 -2.1 3.4 -1.9 3.6 -1.2z"/><path fill="#f00" fill-opacity="0.0223" fill-rule="evenodd" d="M26.7 -40.2l4.1 -0.4 4.4 0.1 4 0.6 4.6 1.1 4 1.5 4 2 4 2.5 3.4 2.8 3.3 3.2 2.7 3.4 2.5 3.6 2.2 4 1.7 4 1.4 4.6 1.1 5 0.7 5 0.2 5 -0.2 5 -0.4 4.4 -1 5 -1.4 4.6 -1.8 4.4 -2.1 4 -2.6 4 -2.9 3.6 -3 3 -3.4 2.7 -4 2.6 -4 2.1 -4.4 1.7 -4 1 -4.6 0.7 -3.4 0.1 -3.6 -0.1 -3.4 -0.6 -3 -0.8 -3 -1.1 -3 -1.6 -2.6 -1.7 -2 -1.8 -2 -2.2 -1.8 -2.6 -1.4 -2.4 -1.3 -3 -1.2 -3.6 -0.9 -3.4 -0.7 -4 -0.5 -4.6 -0.3 -5.4 0.3 -4.6 0.1 -6.4 0.4 -5 -0.8 -3 0.1 -4 0.6 -5.4 0.8 -4.6 0.9 -4 1.3 -3.6 1.4 -3.3 2 -3.3 2.6 -3 2.4 -2.3 3 -2 3 -1.5 3.6 -1.2z"/><path fill="#f00" fill-opacity="0.0271" fill-rule="evenodd" d="M29.5 -36.2l4.3 0 4 0.5 4 1 3.4 1.3 3.6 1.6 3.4 2.1 3.6 2.7 2.8 2.8 2.6 3 2.4 3.4 1.9 3.6 1.5 3.4 1.3 4 1 4.6 0.6 4.4 0.3 4.6 0 4.4 -0.4 4.6 -0.8 4.4 -1 4 -1.5 4 -1.6 3.6 -2.2 3.4 -2.2 3 -2.7 3 -3 2.7 -3.6 2.5 -3.4 2 -3.6 1.5 -4 1.3 -4 0.8 -4 0.4 -3.4 -0.1 -3 -0.3 -3 -0.7 -3 -1 -2.6 -1.1 -2.4 -1.4 -2.6 -1.9 -2 -2 -2 -2.4 -1.5 -2.4 -1.4 -2.9 -1.1 -2.7 -1 -3.3 -0.7 -3.4 -0.6 -4 -0.3 -3.6 0.4 -6 0.1 -7 0.6 -4 0.1 -0.4 0.9 -1 1.3 -0.6 -2 0 -0.2 0.4 -0.6 -0.2 -0.4 -0.6 -0.3 -2 0.2 -3.6 0.7 -4.4 1 -4.6 1.1 -3.4 1.6 -3.6 1.7 -3 2.4 -3 2.6 -2.4 2.4 -1.8 3 -1.6 3.6 -1.3 4 -1z"/><path fill="#f00" fill-opacity="0.0279" fill-rule="evenodd" d="M26.2 -32.8l3.6 -0.2 3.4 0.1 3.6 0.4 4 1 3.4 1.3 3.6 1.7 3 1.9 3 2.4 2.6 2.4 2.4 2.9 2 3.1 1.6 3 1.5 3.6 1 3.4 0.9 4 0.6 4.6 0.3 4.4 -0.1 4.6 -0.4 4.4 -0.7 4 -1.1 4 -1.4 3.6 -1.8 3.5 -1.9 2.9 -2.4 3 -2.7 2.7 -3 2.5 -3 1.9 -3.4 1.8 -3.6 1.3 -4 1.1 -3.4 0.5 -3 0.2 -3 -0.2 -3 -0.4 -3 -0.7 -3 -1.1 -2.6 -1.2 -2.4 -1.6 -2 -1.6 -2 -2.1 -1.6 -1.9 -1.4 -2.3 -1.5 -2.9 -1.1 -2.7 -1 -3.4 -1.1 -6.3 -0.1 -3 0.6 -4.6 -0.1 -4.4 0.3 -3.6 0.5 -1.5 0.2 -1.5 0.3 -0.4 1 -0.8 1.5 -0.8 -3.5 -0.1 -0.6 -0.3 -0.3 -1.6 0.2 -3.4 0.8 -4.6 1.1 -4 1.4 -3.4 1.5 -3 1.9 -2.8 2.4 -2.8 2.6 -2.1 3 -1.9 3 -1.3 3 -1z"/><path fill="#f00" fill-opacity="0.0315" fill-rule="evenodd" d="M26.4 -30.2l3.4 -0.3 3.4 0.2 3.6 0.5 3.4 0.9 3.6 1.4 3 1.5 3 1.9 2.4 2.1 2.4 2.2 2 2.6 2 3 1.5 3 1.2 3 1 3.4 0.8 4 0.5 4 0.2 4.6 -0.1 4.5 -0.3 3.9 -0.7 3.6 -0.9 3.4 -1.3 3.6 -1.5 3 -1.9 3 -2.3 2.8 -2.6 2.5 -2.4 2 -3 2 -3 1.5 -3.6 1.4 -3.4 0.9 -4 0.6 -3 0.1 -3 -0.2 -3 -0.5 -2.6 -0.6 -2.4 -0.9 -2.6 -1.3 -2.4 -1.5 -2 -1.7 -2 -2 -1.6 -1.9 -1.4 -2.4 -1.3 -2.4 -1.9 -5.4 -0.7 -3 -0.4 -3 -0.1 -2.6 0.8 -4 -0.2 -4.4 0.3 -3.6 0.5 -0.4 -0.2 -0.6 0.7 -2 1.1 -1 2.3 -1 -4.5 -0.2 -0.7 -0.2 -0.2 -1 0.1 -3 0.8 -4 1 -3.8 1.6 -3.7 1.4 -2.7 2 -2.8 2 -2.2 2.6 -2 3 -1.9 3 -1.4 3 -0.9z"/><path fill="#f00" fill-opacity="0.0355" fill-rule="evenodd" d="M26.3 -27.8l3.5 -0.1 3 0.1 3 0.4 3.4 0.9 3 1.2 3 1.4 2.6 1.7 2.6 2 2 2 2.1 2.4 1.7 2.6 1.3 2.4 1.2 3 0.8 3 0.7 3.6 0.5 4 0.3 4.4 0 4 -0.3 4 -0.5 3.6 -0.9 3.4 -1 3 -1.5 3 -1.5 2.6 -2.1 2.6 -2.4 2.6 -2.6 2 -3 2 -3 1.4 -3 1.2 -3.4 0.9 -3.6 0.5 -3 0.1 -2.4 -0.2 -3 -0.4 -2.6 -0.7 -4.4 -1.8 -2.6 -1.5 -2 -1.5 -2 -2 -1.4 -1.7 -1.6 -2.2 -1.2 -2.3 -1.2 -2.9 -0.9 -2.7 -0.7 -2.5 -0.3 -2.5 0.1 -2.4 1.1 -3 -0.5 -5 0.3 -1.6 -0.2 -2 0.4 -0.4 0 -0.6 0.7 -1.3 1 -1.1 1.4 -0.9 2.2 -0.7 -5.6 -0.2 -1 -0.2 -0.1 -0.6 0 -2.4 0.7 -3.6 1.1 -3.4 1.5 -3.6 1.8 -3 2 -2.6 2 -2 2.4 -2 2.6 -1.5 3 -1.3 3 -0.9zM6.8 15.2l-0.6 0.3 0 0.2 0.9 0.1 -0.2 -0.6z"/><path fill="#f00" fill-opacity="0.0399" fill-rule="evenodd" d="M27.1 -25.8l3.1 0 3 0.2 3.6 0.7 3 0.9 2.4 1 3 1.6 2.6 1.8 2.1 1.8 1.9 2 1.5 2 1.5 2.6 1.2 2.4 0.9 2.6 0.7 3 0.8 7.4 0.2 8.6 -0.3 3.4 -0.5 3 -0.8 3 -1.1 3 -1.3 2.6 -1.6 2.4 -2 2.6 -2.1 2 -2.6 2 -2.5 1.5 -3 1.4 -3 1.1 -3 0.7 -3.6 0.4 -3 0 -2.4 -0.2 -5 -1.1 -4.6 -1.9 -2 -1.2 -2 -1.5 -2 -2 -1.4 -1.7 -2.6 -4 -2 -5 -0.6 -2.5 -0.3 -2 0.1 -1.6 0.4 -1.3 0.4 -0.7 0.6 -0.4 0.7 0 -0.2 -0.6 0.1 -0.4 -0.5 -0.6 -0.6 -1.4 0.6 -0.6 -0.4 -0.4 -0.1 -1 -0.4 -1 0.4 -1 -0.2 -1 0.2 -1.6 0.4 -1 0.9 -1.4 1.2 -1 1.9 -0.9 2.4 -0.7 -6 -0.1 -2.1 -0.3 0 -2.6 0.6 -3 1.1 -3.1 1.4 -3.3 1.6 -2.6 2 -2.6 2.4 -2.5 2.6 -1.8 3 -1.7 3 -1.1 3 -0.8zM6.2 14.7l-0.4 0.2 0 0.9 3 0 0.3 -0.6z"/><path fill="#f00" fill-opacity="0.0447" fill-rule="evenodd" d="M28.1 -23.8l3.1 0.1 3 0.4 3 0.7 3 1 3 1.5 2.6 1.6 2.4 2 2 2.1 1.6 2.2 1.2 2 1.1 2.5 0.8 2.5 0.8 5 0.6 9.4 -0.2 6.6 -0.4 3 -0.6 2.4 -0.9 2.6 -1.1 2.4 -1.6 2.6 -1.5 2 -2 2 -2.2 1.8 -2.5 1.6 -2.5 1.2 -2.6 1 -3 0.8 -2.4 0.5 -3 0.2 -3.6 -0.2 -3.4 -0.5 -3 -0.9 -3 -1.3 -2.6 -1.5 -2.4 -2 -2 -2 -2 -2.6 -1.8 -3.1 -1.4 -3.6 -0.7 -3 0.1 -2.4 0.2 -0.7 1 -0.8 0.2 0.5 0.8 0 4.5 0 0.4 -0.6 -3.6 -1 -1.2 -0.4 -0.5 -0.5 -0.6 -1.1 -0.4 -0.3 -0.1 -0.1 0.5 -0.6 -0.3 -1.4 -0.3 -0.6 0.4 -3.4 0.8 -2 1.4 -1.6 2.6 -1.1 3.7 -0.9 -7.3 -0.1 -2.9 -0.3 0.6 -4 1.9 -5 2.4 -4.3 3 -3.5 3.6 -2.7 4 -2.1 4.5 -1.4z"/><path fill="#f00" fill-opacity="0.0502" fill-rule="evenodd" d="M25.1 -21.8l5.1 -0.2 5 0.7 2.6 0.7 2.4 1 4 2.2 2 1.5 1.8 1.7 2.7 3.4 1.1 2 0.8 2 0.6 2 0.4 2.6 0.6 12.4 0 5.6 -0.9 5 -0.8 2.4 -0.9 2 -1.5 2.6 -1.9 2.2 -2 1.9 -2.4 1.9 -2.6 1.4 -3 1.3 -3 0.9 -3 0.5 -5 0.2 -4.4 -0.7 -4.6 -1.4 -4 -2.2 -3.4 -2.9 -3 -3.8 -2.3 -4.3 -0.7 -2.2 -0.5 -1.8 0.1 -2 0.2 -0.6 0.6 -0.3 7.4 -0.1 0.5 -0.6 -2.9 -0.6 -2.3 -0.8 -1.2 -0.7 -0.7 -0.9 -0.7 -3 0 -1 0.3 -2.4 0.7 -1.6 1.3 -1.4 2.2 -1.2 2.9 -0.8 3.4 -0.6 -8.9 -0.1 -3.6 -0.3 0.9 -4 1.7 -4.3 1.6 -2.6 1.6 -2.1 1.8 -2.1 2.6 -2 2.4 -1.6 3 -1.4 3 -0.9zM39.2 0.2l3.6 0.5 1 -0.1 0.4 -0.4z"/><path fill="#f00" fill-opacity="0.0563" fill-rule="evenodd" d="M23.4 -19.8l4.8 -0.4 4.6 0.3 4.4 1 4.6 2 3.4 2.4 3 3.1 1.2 1.6 1 2 1.1 3.6 0.2 2.4 0 5.6 0.6 7.4 0 4 -0.5 4.6 -1.4 4 -1 2 -1.6 2.2 -2 2.1 -2 1.6 -2.6 1.5 -2.4 1.2 -3 1 -2.6 0.6 -5 0.4 -4.4 -0.5 -4.6 -1.2 -4 -2 -3.4 -2.6 -3 -3.2 -1.5 -2.1 -1.1 -2.1 -0.8 -1.9 -0.5 -2 -0.1 -2 0.2 -0.6 0.2 -0.1 9.7 -0.3 0.7 -0.6 -2.9 -0.4 -2.5 -0.8 -1.8 -0.8 -1.3 -1 -0.8 -1.4 -0.3 -2.6 0.4 -2.4 0.8 -1.7 0.9 -0.9 1.1 -0.8 2.6 -1 3.4 -0.7 4.8 -0.5 -11.2 -0.1 -4.9 -0.3 1.1 -3.6 1 -2.4 1.4 -2.6 1.8 -2.6 2 -2.2 2 -1.7 2 -1.3 2.6 -1.4 3 -1.1zM35.8 0.2l6.4 0.8 1.6 -0.1 0.4 0.3 0.2 -1z"/><path fill="#f00" fill-opacity="0.0597" fill-rule="evenodd" d="M23.5 -18.2l4.3 -0.5 4.4 0.3 4.6 1 4 1.7 3.4 2.3 2.7 2.6 1.9 3 0.6 1.6 0.6 2 0.2 2.4 -0.5 5.6 0.7 7 0.2 5 -0.3 3.4 -1 3.6 -1.1 2 -1.4 2 -1.6 1.7 -2 1.7 -2 1.3 -2.4 1.3 -2.6 0.9 -3 0.7 -4.4 0.4 -4.6 -0.3 -4.4 -1.1 -4 -1.8 -3.6 -2.5 -3 -3.1 -2.4 -3.8 -1 -2.3 -0.6 -1.8 0 -1.3 0.1 -0.6 0.5 -0.2 11.9 -0.2 1 -0.6 -4.5 -0.6 -3.2 -0.8 -2.1 -1 -1.5 -1.6 -0.4 -1 -0.3 -1.4 0.1 -1.5 0.4 -1.5 0.5 -1 0.8 -1 1.3 -0.9 1.2 -0.7 2.2 -0.7 3 -0.6 8 -0.6 8.6 0.1 4.4 0.3 5 0.7 2 0 0.4 -0.2 -0.1 -1 -0.3 0 -29.4 0 -7 -0.2 -3.5 -0.2 1.5 -4 1.4 -2.9 2 -2.8 2 -2.2 2.6 -2.1 3 -1.8 3.4 -1.4zM38.8 15.2l-0.5 0 0.6 0.6 1.7 0 -0.7 -0.6z"/><path fill="#f00" fill-opacity="0.0635" fill-rule="evenodd" d="M25.9 -17.2l4.3 -0.1 4 0.6 3.6 1.1 3.4 1.7 3.1 2.3 2.1 2.4 1.7 3 0.7 3 -0.1 2.4 -1.2 3.6 1.2 6.4 0.4 5.1 0.1 2.9 -0.5 3 -1.1 3 -1.2 2 -1.6 2 -2 1.7 -2 1.3 -2.6 1.3 -2.4 0.9 -2.6 0.6 -2.4 0.4 -4.6 0 -4 -0.6 -4 -1.3 -3.4 -1.9 -3.6 -2.7 -2.4 -2.9 -2.3 -3.8 -0.7 -1.9 -0.4 -1.5 0 -0.6 0.8 -0.2 15.2 -0.3 1.8 -0.5 -6 -0.4 -4 -0.8 -3 -1.2 -1.8 -1.6 -0.6 -1 -0.3 -1.4 0 -1.6 0.5 -1.4 0.6 -1 1 -1 1.2 -0.8 1.4 -0.7 2 -0.6 3 -0.5 7 -0.6 9.7 0.2 8.9 1 2 -0.3 0.3 -0.3 -0.4 -1 -0.4 -0.1 -28.5 0.1 -7 -0.2 -4 -0.2 1.4 -3.7 1.7 -2.9 2.3 -3 2.6 -2.3 3 -2 3 -1.5 3.4 -1.1zM33.2 15.2l1.5 0.6 6.6 0 -0.5 -0.7 -1 -0.2z"/><path fill="#f00" fill-opacity="0.0678" fill-rule="evenodd" d="M23.7 -15.8l4.5 -0.3 2.6 0.1 2.4 0.4 4 1.1 4 2 2 1.5 1.6 1.5 1.3 1.7 0.9 1.6 0.6 2 0.2 1.4 -0.2 1.6 -0.4 1 -1 0.7 -0.4 0.1 -1.6 -0.5 -27 0.1 -8 -0.2 -4 -0.2 1.6 -3.4 1.4 -2.5 2 -2.5 2 -1.9 2.6 -1.8 3 -1.6 3 -1.2zM19.4 1.2l8.8 -0.3 8.6 0.4 6.4 1.1 0.8 0.8 -0.2 0.6 1.4 0.2 0.6 0.5 0.8 1.7 0.6 2.6 0.7 7 0 2.4 -0.5 2.6 -0.8 2 -1.3 2 -1.5 1.7 -1.6 1.3 -2 1.4 -4 1.8 -4.5 1 -4.5 0.2 -4.4 -0.5 -4.6 -1.4 -4 -2.2 -3.4 -2.9 -2 -2.4 -1.6 -2.3 -1.2 -2.7 -0.4 -1.6 0.2 0 9.4 -0.4 26.3 0 -0.3 -0.7 -1.4 -0.5 -11.6 0.5 -9 -0.5 -5.1 -0.8 -1.9 -0.7 -1.7 -0.9 -1.5 -1.4 -0.5 -1 -0.3 -1 0.2 -2.1 0.4 -0.9 0.7 -1 1.7 -1.5 2 -0.8 2.8 -0.7z"/><path fill="#f00" fill-opacity="0.0727" fill-rule="evenodd" d="M24.3 -14.8l4.5 -0.2 4.4 0.5 4 1.2 3.6 1.8 3 2.4 1.1 1.3 1 1.6 0.7 1.4 0.3 1.6 -0.1 1.4 -0.3 1 -0.5 0.6 -0.8 0.3 -6 0 -23.4 0 -10.2 -0.3 1.6 -3.2 1.6 -2.3 2 -2.3 2.4 -2.2 2.6 -1.6 2.4 -1.3 3 -1zM23.4 1.2l8.4 0 7 0.8 3.2 0.8 1.2 0.4 0.4 1 0.9 0.6 0.4 0.4 1 3.6 0.3 4 0.7 4 -0.1 2.4 -0.8 2.6 -1.2 2 -1.7 2 -2.3 1.8 -2 1.1 -2 0.9 -4.6 1.2 -2.4 0.3 -2.6 0 -4.4 -0.5 -4.6 -1.4 -4 -2.2 -3.4 -2.9 -2.6 -3.1 -2.4 -4.7 0.4 -0.1 10 -0.4 25.6 0 -0.2 -0.6 -0.4 -0.4 -1.4 -0.5 -12 0.5 -4.6 -0.1 -4.4 -0.5 -4.8 -1 -1.8 -0.7 -1.3 -0.7 -1.3 -1.6 -0.5 -1 -0.1 -1 0.4 -2 0.6 -1 1 -1 1.8 -1 2.8 -1 3.6 -0.6z"/><path fill="#f00" fill-opacity="0.0784" fill-rule="evenodd" d="M24.3 -13.8l4.5 -0.2 4 0.4 4 1.2 3.4 1.7 3 2.4 2 2.5 0.7 1.6 0.3 1.4 -0.1 1 -0.4 1.1 -0.5 0.5 -1 0.2 -5.4 0.1 -22.6 0 -10.1 -0.3 1.7 -3 1.4 -2.1 2 -2.2 2 -1.7 2.6 -1.6 2.4 -1.3 3 -1zM21 1.8l7.8 -0.4 7 0.5 3 0.5 2.4 0.6 1.5 0.8 1.2 1 0.2 0.4 -0.2 1.6 0.4 0.4 0.5 1.6 0 4.4 1.1 3 0.1 2 -0.4 2 -0.6 1.6 -1.2 1.9 -1.6 1.5 -1.4 1.2 -2 1.2 -4 1.6 -4.6 0.9 -4.4 -0.1 -4.6 -0.8 -4 -1.5 -1.9 -1 -2.1 -1.4 -3 -2.7 -2 -2.6 -2.2 -3.8 9.2 -0.3 26.7 -0.1 -0.1 -1.1 -0.6 -0.4 -1 -0.3 -1.4 -0.1 -9 0.6 -7.6 -0.2 -3.4 -0.4 -3 -0.6 -2 -0.7 -1.8 -0.8 -1.5 -1.6 -0.6 -1.4 -0.1 -1 0.2 -1 0.9 -1.6 1.9 -1.4 2 -0.8 2.7 -0.8z"/><path fill="#f00" fill-opacity="0.0851" fill-rule="evenodd" d="M23.8 -12.8l4 -0.3 4 0.3 4 1 3.4 1.5 3 2.2 2.1 2.3 0.8 1.6 0.4 1.4 0.1 1 -0.4 1 -0.3 0.6 -0.7 0.1 -5.4 0.2 -22 0 -10.2 -0.3 1.6 -2.8 1.6 -2 2 -2 2 -1.6 2.4 -1.6 2.6 -1.2 2.4 -0.8zM26.5 1.8l5.3 0 5 0.6 3.5 0.8 1.3 0.6 1.6 1 0 0.4 0.3 0.6 -0.4 1 0.5 0.4 -0.5 0.6 0.9 0.4 0 0.6 -0.8 1.6 -0.4 0.1 -0.2 0.3 0.6 0 0.6 0.4 -0.4 1 -1.2 0.8 -0.4 0.8 0.4 0.3 1.6 0.4 1 1.3 0.3 1 0.2 1 -0.3 2 -1.2 2.4 -1.7 2 -2.3 1.8 -3 1.6 -4 1.2 -4.6 0.4 -4.4 -0.3 -4.6 -1.2 -4 -2 -3.4 -2.6 -2.6 -2.6 -2.9 -4.3 9.5 -0.3 26.3 -0.1 0.1 -0.6 -0.1 -0.4 -0.8 -1.1 -0.5 -0.1 -2 0 -9.6 0.6 -7.4 -0.3 -3.6 -0.5 -2.7 -0.6 -2.3 -1 -1.3 -1 -1 -1.6 -0.3 -1 0.1 -1 0.7 -1.4 1.7 -1.6 2.2 -1 2.9 -0.7 4 -0.5z"/><path fill="#f00" fill-opacity="0.0930" fill-rule="evenodd" d="M23 -11.8l4.2 -0.4 4 0.2 4 0.9 3.6 1.5 3 2 1.3 1.4 1.1 1.4 0.6 1.3 0.3 1.3 0 1 -0.4 1 -0.9 0.2 -2.6 0 -13.4 0.2 -13.6 -0.1 -7.2 -0.3 1.8 -2.7 1.4 -1.8 1.6 -1.5 2 -1.6 2 -1.3 2.4 -1.2 2.6 -0.9zM22.9 2.2l4.9 -0.1 5 0.1 4 0.6 3.5 1 1.7 1 0.9 1 0 1 0.2 0.4 -0.2 0.6 0.7 0.4 -0.6 1 -0.6 1.6 0.8 0.5 -1.4 1.7 -12 0.9 -5 -0.1 -4 -0.4 -3.6 -0.6 -2.4 -0.9 -1.9 -1.1 -1.1 -1.6 -0.3 -1 0.1 -1 0.8 -1.4 1.8 -1.5 2 -0.9 2.8 -0.6zM42.2 15.8l0.6 -0.5 0.4 0.1 0.7 0.4 0.5 1 0.2 1.4 -0.3 1.6 -0.7 1.4 -0.8 1.2 -1.3 1.4 -2.7 1.9 -3 1.4 -3.6 0.9 -4 0.4 -3.4 -0.2 -3 -0.6 -3 -1 -3 -1.4 -2.6 -1.7 -2 -1.7 -2 -2.2 -2.5 -3.4 9.5 -0.3 24.6 0z"/><path fill="#f00" fill-opacity="0.1026" fill-rule="evenodd" d="M25 -11.2l3.8 -0.2 3.4 0.4 3.6 0.9 3 1.4 2.4 1.7 2.2 2.2 0.8 1.5 0.4 1.1 0 2 -3.8 0.2 -13 0.1 -13 -0.1 -7.3 -0.2 1.7 -2.5 1.6 -1.7 2 -1.8 2 -1.5 2.4 -1.4 2.6 -1 2.4 -0.7zM21.5 2.8l4.7 -0.4 5.1 0.1 4.5 0.5 3.4 0.9 1.6 0.7 0.8 0.6 0.7 1 0.4 1 0.1 0.7 0.6 0.3 -0.8 1 -0.3 1.6 0.7 0.4 -1.2 0.9 -1.6 0.4 -6 0.8 -5 0.2 -4 0 -4 -0.4 -3 -0.5 -2.4 -0.8 -1.8 -1 -1.3 -1.6 -0.3 -1.4 0.6 -1.6 0.9 -1 1.9 -1 2.4 -0.9zM7.2 16.2l9.6 -0.3 24.4 0 1.6 -0.1 0.4 0.1 0.7 0.9 0.1 1.4 -0.6 2 -1.2 1.8 -1.8 1.8 -2.2 1.3 -2.4 1.1 -3 0.9 -3 0.4 -3 0 -3 -0.3 -3 -0.7 -2.6 -0.9 -2.4 -1.2 -2.6 -1.7 -2 -1.7 -1.4 -1.6z"/><path fill="#f00" fill-opacity="0.1143" fill-rule="evenodd" d="M23.3 -10.2l3.9 -0.5 3.6 0.2 3.4 0.7 3.6 1.3 3 1.9 2 1.9 1.4 2.5 0.2 2 -4.2 0.2 -12.4 0.1 -12.6 -0.1 -7.2 -0.2 1.8 -2.4 1.4 -1.6 3.6 -2.7 4 -2.1zM26 2.8l4.3 0 3.9 0.3 3.1 0.7 2.5 1 1 0.6 0.7 0.8 0.7 2 0.1 0.6 -0.9 2.4 -1.6 0.8 -4 0.7 -4 0.4 -4 0.1 -3.6 -0.1 -3.4 -0.4 -3 -0.8 -2 -0.8 -1.8 -1.3 -0.6 -1.6 0.3 -1.4 1.1 -1.3 1.4 -0.9 2.6 -0.9 3 -0.6zM7.7 16.2l11.5 -0.3 23 0 0.9 0.3 0.3 0.6 0.2 1 -0.6 2 -0.9 1.4 -1.9 1.8 -2 1.3 -2.4 1.2 -3 0.8 -3 0.4 -3 0.1 -3 -0.3 -2.6 -0.6 -2.4 -0.8 -2.6 -1.2 -2.4 -1.5 -2 -1.7 -2 -2z"/><path fill="#f00" fill-opacity="0.1290" fill-rule="evenodd" d="M24.6 -9.8l3.6 -0.1 3.6 0.3 3 0.7 3 1.2 2.4 1.5 2 1.8 1.6 2.2 0.5 2 -4.5 0.2 -12 0.1 -12.6 -0.1 -6.7 -0.2 1.7 -2.2 1.6 -1.5 3.5 -2.6 1.9 -1.1 2.6 -1 2.4 -0.7zM23.9 3.2l3.9 -0.1 4 0.1 3.4 0.5 2.6 0.7 1.6 0.8 1.4 1.3 0.6 1.7 -0.3 1.6 -0.9 1.1 -1.4 0.7 -3 0.6 -4 0.5 -4 0.2 -4 -0.2 -3 -0.5 -3 -0.8 -2 -1.1 -1.1 -1.1 -0.3 -1.4 0.7 -1.6 1.2 -1 2.2 -1 2.3 -0.5zM8.2 16.2l12 -0.3 21.6 0.1 0.9 0.2 0.3 0.6 0.1 1 -0.4 1.4 -0.9 1.6 -2 1.8 -2 1.2 -2.6 1.1 -2.4 0.7 -3 0.4 -3 0.1 -2.6 -0.3 -2.9 -0.6 -2.5 -0.8 -2.6 -1.2 -2 -1.2 -2 -1.5 -2 -1.9z"/><path fill="#f00" fill-opacity="0.1481" fill-rule="evenodd" d="M26.6 -9.2l2.7 0 2.9 0.3 3 0.8 2.6 1.1 2 1.2 2 1.6 1.4 1.9 1 2.1 -5 0.2 -11.4 0.1 -12 -0.1 -6.8 -0.2 1.8 -2.1 2 -1.8 2 -1.5 2 -1.1 2.4 -1.1 2.6 -0.7 2.4 -0.5zM23.1 3.8l3.7 -0.3 3.4 0 3 0.3 3 0.7 2 0.7 1.4 1 0.8 1.6 0 1.4 -0.7 1 -1.5 0.9 -2.3 0.7 -3.3 0.4 -3.8 0.3 -3.6 -0.1 -3.4 -0.4 -2.6 -0.7 -1.4 -0.6 -1.6 -1 -0.6 -0.9 -0.2 -0.6 0.1 -1 0.7 -1 1.6 -1 2.4 -0.9zM8.7 16.2l12.5 -0.3 20.6 0.1 0.7 0.2 0.3 1 -0.3 1.6 -1 1.4 -1.7 1.7 -2 1.3 -2.6 1 -2.4 0.7 -2.6 0.4 -3 0.1 -3 -0.2 -2.4 -0.5 -2.6 -0.8 -2.4 -1.1 -2 -1.1 -2 -1.5 -2 -1.7z"/><path fill="#f00" fill-opacity="0.1739" fill-rule="evenodd" d="M23.3 -8.2l3.5 -0.4 3 0 3.4 0.6 3 1 3 1.5 2 1.5 1.6 1.7 1.2 2.1 -5.2 0.2 -11.1 0.1 -18.2 -0.3 2.7 -2.9 3.6 -2.4 3.4 -1.7zM22.8 4.2l3 -0.3 3.4 0 3.6 0.3 2.4 0.5 1.6 0.5 1.6 1 0.8 1 0.2 1.6 -0.5 1 -1.1 0.8 -2 0.6 -2.7 0.6 -3.4 0.2 -2.9 0 -3.5 -0.2 -2.5 -0.6 -1.6 -0.5 -1.6 -0.9 -0.9 -1 -0.1 -0.6 0.1 -1 0.8 -1 1.3 -0.8 1.7 -0.6zM9.2 16.2l12.6 -0.3 19.4 0.1 1.1 0.2 0.2 1 -0.5 1.6 -1.1 1.4 -1.7 1.4 -2 1.2 -2.4 1 -2.6 0.6 -2.4 0.3 -2.6 0.1 -2.4 -0.2 -2.5 -0.4 -2.5 -0.8 -2.6 -1 -4 -2.4 -2 -1.7z"/><path fill="#f00" fill-opacity="0.2105" fill-rule="evenodd" d="M23.9 -7.8l2.9 -0.2 3 0 3 0.5 3 0.9 2.4 1.1 2 1.3 2 1.9 1.6 2.1 -5.6 0.2 -10.4 0.1 -17.8 -0.3 2.8 -2.7 3.4 -2.3 4 -1.7zM22.9 4.8l2.9 -0.4 3 -0.1 3 0.2 2.4 0.5 2 0.8 1.5 0.9 0.5 1.1 0 1 -0.7 1 -0.9 0.4 -1.8 0.7 -2.6 0.5 -5.4 0.2 -3 -0.3 -2 -0.4 -1.9 -0.7 -0.9 -0.4 -1 -1 -0.2 -1 0.5 -1 0.9 -0.8 1.7 -0.8zM9.8 16.2l11.4 -0.2 18 0 2.6 0.1 0.4 0.1 0.1 0.6 -0.4 1.4 -1.1 1.5 -1.6 1.3 -2 1.2 -2 0.8 -2.4 0.7 -2.6 0.4 -2.9 0.1 -2.5 -0.2 -2.6 -0.4 -4.4 -1.5 -2.6 -1.3 -2 -1.4z"/><path fill="#f00" fill-opacity="0.2667" fill-rule="evenodd" d="M24.4 -7.2l2.8 -0.3 3 0.2 3 0.5 2.6 0.8 2.4 1.1 2 1.3 1.6 1.3 1.8 2.1 -15.8 0.2 -17.3 -0.2 2.7 -2.5 3.6 -2.2 4 -1.6zM23.3 5.2l4.5 -0.4 2.4 0.1 2.4 0.3 1.8 0.6 1.4 0.6 0.9 0.8 0.3 1 -0.6 1 -0.7 0.6 -1.1 0.4 -2 0.6 -4.8 0.3 -4.6 -0.5 -2 -0.6 -1.3 -0.8 -0.4 -0.4 -0.3 -1 0.6 -1 0.7 -0.6zM10.3 16.2l11.5 -0.2 17 0 3 0.1 0.3 0.1 0 0.6 -0.6 1.4 -1.3 1.4 -1.4 1.2 -2 1 -2 0.8 -2.6 0.6 -2.4 0.3 -2.6 0.1 -2.4 -0.2 -2.6 -0.4 -4.4 -1.5 -4 -2.3z"/><path fill="#f00" fill-opacity="0.3636" fill-rule="evenodd" d="M24.7 -6.8l2.5 -0.1 3 0.1 2.6 0.4 2.4 0.7 2.6 1.1 2 1.2 1.4 1.2 2.1 2 -15.5 0.2 -16.8 -0.2 2.8 -2.3 3.4 -2.1 3.6 -1.3zM24.3 5.8l3.9 -0.4 3.6 0.4 1.6 0.4 1 0.6 0.6 0.4 0.3 0.6 0 0.4 -0.2 0.6 -0.9 0.6 -2.6 0.8 -3.8 0.3 -3.6 -0.3 -2.4 -1 -0.6 -0.4 -0.3 -0.6 0 -0.4 0.2 -0.6 0.7 -0.5zM10.8 16.2l17 -0.2 12.4 0.1 1.8 0.1 -0.2 1.1 -1 1.3 -1.6 1.3 -2 1.2 -2 0.8 -2.4 0.7 -2.6 0.3 -2.4 0.2 -4.5 -0.5 -4.5 -1.2 -4 -2.1 -2 -1.4z"/><path fill="#f00" fill-opacity="0.5357" fill-rule="evenodd" d="M24.9 -6.2l2.3 -0.2 2.6 0.1 2.4 0.3 2.6 0.7 2 0.7 2 1.1 2 1.4 2.1 1.9 -15.1 0.2 -16.2 -0.2 2.6 -2.2 3.6 -1.9 3.4 -1.3zM26.3 6.2l2.9 0 2 0.4 1.6 0.6 0.4 0.6 0 0.4 -0.4 0.6 -1 0.4 -2 0.5 -2.8 0.1 -2.2 -0.5 -1.4 -0.5 -0.4 -0.6 0 -0.5 0.3 -0.5 0.9 -0.4zM11.4 16.2l16.4 -0.2 12 0.1 2.1 0.1 -0.7 1.4 -1 1 -1.4 1.1 -2 1.1 -2 0.7 -2.6 0.6 -4.4 0.4 -4.5 -0.4 -4.5 -1.3 -4 -2z"/><path fill="#f00" fill-opacity="1.0000" fill-rule="evenodd" d="M24.4 -5.8l2.4 -0.2 2.4 0.1 2.6 0.3 2.4 0.6 2.6 0.9 2 1 3.7 2.9 -14.7 0.2 -15.7 -0.2 2.7 -2.1 3 -1.6 3 -1.1zM26.2 7.8l1.1 -0.4 0.9 -0.1 1.7 0.5 -0.1 0.4 -1.6 0.4 -1.9 -0.4zM11.9 16.2l15.9 -0.2 14.1 0.2 -0.7 1.1 -1.4 1.3 -1.6 1 -2 1 -4 1.1 -4.4 0.4 -4.6 -0.4 -4 -1.1 -4 -1.9z"/><path fill="#0f0" fill-opacity="0.0080" fill-rule="evenodd" d="M-45.6 -78.8l5.4 -0.3 5 0.1 4.4 0.5 4.6 1 4.4 1.5 3.6 1.7 3.4 2.3 3 2.6 2.6 2.9 2 3 1.8 3.7 1.4 4 1.2 4.7 0.9 4.9 0.7 5.4 0.5 7 0.4 11.6 0.2 16.4 0 29 -0.2 17.6 -0.4 9.4 -0.7 8 -0.8 6.4 -1.3 5.6 -1.7 5.3 -2.6 4.9 -3 4 -2 2.1 -2 1.6 -4.4 2.8 -5 2.1 -5.6 1.4 -6 0.7 -7 0 -7.4 -0.9 -7.6 -1.8 -7 -2.5 -7 -3.3 -6.4 -3.9 -6.6 -4.9 -5.4 -5.1 -4.9 -5.5 -4.3 -6 -3.8 -6.4 -3.2 -7 -2.6 -7.6 -1.9 -7.4 -1.4 -8.6 -0.8 -8.4 -0.2 -9.6 0.5 -9 1 -8.4 1.7 -8.6 2.1 -7.4 2.9 -7.6 3.6 -7 3.9 -5.9 4.8 -6.2 5.6 -5.6 6 -5 6.4 -4.3 7 -3.7 7.6 -3 7.4 -2.1z"/><path fill="#0f0" fill-opacity="0.0091" fill-rule="evenodd" d="M-39.4 -63.8l4.6 0 4.6 0.4 4.4 0.8 4 1.3 3.6 1.6 3.4 2.2 3 2.5 2.6 2.9 2 2.9 1.7 3.4 1.5 4 1.1 4 1 5 0.7 5.5 0.8 14.1 0.2 10 -0.1 6 0.1 17 -0.5 17 -0.6 7 -0.8 6 -1.1 5.5 -1.4 4.5 -2.2 4.6 -2.4 3.9 -3 3.3 -3.6 2.7 -4 2.3 -5 1.8 -5 1.1 -5 0.4 -6 -0.1 -6 -0.9 -6 -1.6 -6 -2.2 -6 -3.1 -5.4 -3.5 -5 -3.9 -5 -4.8 -4.3 -5 -3.5 -5 -3.4 -6 -2.7 -6 -2.3 -6.6 -1.6 -6.4 -1.1 -7 -0.5 -7 0.1 -7 0.6 -6.6 1.2 -7 1.7 -6.4 2.4 -6.6 2.8 -6 3.2 -5.4 4 -5.6 4.4 -5 4.9 -4.4 5.1 -3.9 5.4 -3.4 6 -2.9 6 -2.1 6 -1.5z"/><path fill="#0f0" fill-opacity="0.0112" fill-rule="evenodd" d="M-38.5 -55.2l4.3 -0.2 4 0.2 4 0.7 4 1.1 3.4 1.4 3.6 2 3 2.4 2.4 2.6 2 2.7 1.8 3.1 1.5 3.4 1.3 4.2 1 4.5 0.7 4.9 0.9 12 0.2 7 -0.2 5.4 0.2 17 -0.4 11.6 -0.6 6.4 -0.8 6 -1.2 5 -1.4 4.2 -1.9 4.3 -2.5 3.8 -3 3.2 -3 2.4 -4 2.2 -4 1.6 -4.6 1 -5 0.6 -5.4 -0.1 -5.6 -0.8 -5 -1.2 -5.4 -2 -5 -2.4 -5 -3.1 -4.6 -3.5 -4.4 -4.1 -3.9 -4.6 -3.3 -4.5 -2.6 -4.4 -2.6 -5.6 -2 -5.4 -1.5 -5.6 -1.1 -6 -0.6 -6.4 -0.1 -6 0.5 -6.6 1 -6 1.5 -6 2 -5.4 2.5 -5.6 2.8 -5 3.6 -5 3.8 -4.3 4 -3.8 4.4 -3.5 5 -3.2 5 -2.5 5.6 -2 5.4 -1.4z"/><path fill="#0f0" fill-opacity="0.0134" fill-rule="evenodd" d="M-37.4 -49.2l4.2 -0.2 4 0.2 4 0.7 3.4 1 3.6 1.4 3 1.8 3 2.3 2.4 2.6 2 2.6 1.8 3 1.5 3.6 1.1 3.4 1 4 0.7 4.6 0.6 5.4 0.4 6 0.1 5 -0.4 4 0.4 17 -0.4 9 -0.7 6 -0.9 5.6 -1.2 4.3 -1.4 4.1 -1.9 3.6 -2.1 3.1 -3 3.2 -3 2.3 -3.6 2 -4 1.6 -4.4 1 -4.6 0.5 -4.4 -0.1 -5 -0.6 -5 -1.2 -5 -1.7 -4.6 -2.2 -4.4 -2.7 -4 -3 -4 -3.7 -3.6 -3.9 -2.9 -4.2 -2.7 -4.4 -2.2 -4.6 -1.8 -5 -1.5 -5.4 -1 -5.6 -0.5 -5.4 -0.1 -5.6 0.4 -5.4 0.8 -5.6 1.3 -5.4 1.9 -5.6 2 -4.4 2.5 -4.6 3.1 -4.4 3.4 -4 3.9 -3.8 4 -3.2 4.4 -2.9 4.6 -2.2 5 -1.9 5 -1.3z"/><path fill="#0f0" fill-opacity="0.0162" fill-rule="evenodd" d="M-38.8 -44.2l3.6 -0.4 4 -0.1 4 0.4 3.4 0.7 3.6 1.1 3 1.4 3 1.9 2.5 2 1.9 2.1 2 2.7 1.6 2.6 1.6 3.6 1.1 3.4 1 4 0.7 4.4 0.6 5.2 0.4 6.4 -0.1 2 -0.5 3 0.5 15.6 -0.1 5.4 -0.6 6 -0.8 5 -1 4.6 -1.4 4 -1.9 4 -2.1 3.2 -2.4 2.8 -3 2.6 -3.6 2.1 -3.4 1.5 -4 1.1 -4 0.6 -4.6 0.1 -4.4 -0.4 -4.6 -0.8 -4.4 -1.4 -4 -1.7 -4.6 -2.5 -3.9 -2.8 -3.5 -2.9 -3.4 -3.5 -2.8 -3.6 -2.6 -4 -2.1 -4 -1.9 -4.4 -1.4 -4.6 -1.1 -5 -0.7 -5 -0.2 -5 0.1 -5.4 0.6 -5 0.9 -5 1.4 -5 1.7 -4.6 2.3 -4.4 2.4 -4 3.1 -4 3.1 -3.5 3.6 -3.1 4 -2.8 4 -2.3 4.4 -2 4.6 -1.4z"/><path fill="#0f0" fill-opacity="0.0223" fill-rule="evenodd" d="M-37.3 -40.2l3.5 -0.4 3.6 0 3.4 0.3 3.6 0.8 3.4 1.1 3 1.4 2.6 1.6 2.4 2 2 2.1 2 2.6 1.6 2.6 1.4 3.3 1.3 3.6 0.9 4 0.8 4.4 0.5 4.6 0.2 5 -0.8 3 0.4 5 0.1 6.4 0.3 4.6 -0.2 5 -0.6 4.9 -0.9 4.5 -1 4 -1.4 3.9 -1.9 3.7 -2.1 3 -2.6 2.7 -2.4 2 -3 1.8 -3.6 1.6 -4 1.1 -4 0.6 -4 0.1 -4 -0.3 -4.4 -0.8 -4 -1.2 -4.1 -1.7 -3.9 -2.2 -3.6 -2.4 -3.4 -2.9 -2.9 -3 -2.8 -3.4 -2.2 -3.6 -2.1 -4 -1.7 -4 -1.2 -4 -1 -4.4 -0.7 -5 -0.2 -5 0.2 -5 0.5 -4.6 0.9 -5 1.3 -4.4 1.5 -4 2 -4 2.5 -4 2.7 -3.6 3.2 -3.3 3.4 -2.9 3.6 -2.4 3.4 -2 4 -1.7 4.6 -1.4z"/><path fill="#0f0" fill-opacity="0.0271" fill-rule="evenodd" d="M-32.7 -36.3l3.5 0.1 3 0.3 3 0.6 3 0.9 3 1.3 2.4 1.5 2.6 1.8 2 2 2 2.4 1.4 2.4 1.4 2.8 1.2 2.7 1 3.3 0.8 4 0.6 4 0.3 3.4 -0.1 2 -0.6 1.2 -0.6 0.2 -0.2 -0.4 -2 0 1.3 0.6 0.9 1 0.1 0.4 0.6 4 0.1 7 0.4 6 -0.5 5 -1 5.6 -1.4 4.4 -1.7 4 -2 3.3 -2 2.4 -2.6 2.4 -3 2.1 -3.4 1.7 -3.6 1.2 -3.4 0.8 -4 0.3 -4 -0.1 -4.1 -0.6 -3.9 -1.1 -3.6 -1.3 -3.5 -1.7 -3.5 -2.2 -2.9 -2.3 -3 -2.9 -2.6 -3 -2.1 -3 -2 -3.4 -1.7 -4 -1.3 -4 -0.9 -4 -0.6 -4 -0.3 -4.6 0 -4.4 0.4 -4.6 0.7 -4.4 1.1 -4.6 1.4 -4 1.6 -3.4 2 -3.6 2.2 -3 2.6 -3 3 -2.6 3.4 -2.6 3.6 -2.1 3.4 -1.5 4 -1.4 4 -0.8z"/><path fill="#0f0" fill-opacity="0.0279" fill-rule="evenodd" d="M-35 -32.8l3.2 -0.2 3 0 3 0.3 3 0.6 3 1 2.6 1.1 2.4 1.4 2.6 1.9 2 1.9 2 2.5 1.4 2.3 1.4 2.8 1.2 2.8 1 3.3 0.8 3.9 0.5 3.4 0 2.6 -0.3 1 -0.6 0.3 -3.5 0.1 1.9 1 0.9 1 0.2 1.6 0.6 2 0.2 3 -0.1 4.4 0.6 5 -0.2 3.6 -0.8 4.4 -1.2 4.3 -1.6 3.7 -1.4 2.7 -2.1 2.8 -2.5 2.7 -2.4 2 -3 1.7 -3.6 1.5 -3.4 0.9 -3.6 0.5 -3.4 0.2 -3.6 -0.3 -3.4 -0.6 -3.6 -1 -3.4 -1.4 -3 -1.6 -3 -1.9 -3 -2.5 -2.6 -2.5 -2.1 -2.6 -2 -3 -1.6 -3 -1.5 -3.6 -1.1 -3.4 -0.9 -4 -0.5 -4 -0.2 -4.6 0.1 -4.4 0.5 -4.6 0.7 -4 1 -4 1.3 -3.4 1.7 -3.6 1.8 -3 2.4 -3 2.4 -2.6 3 -2.5 3 -2 3 -1.6 3.6 -1.5 3.4 -1z"/><path fill="#0f0" fill-opacity="0.0315" fill-rule="evenodd" d="M-33.8 -30.2l3 -0.3 3 0.1 3 0.4 2.6 0.5 3 1 2.4 1.2 2.6 1.5 2 1.5 2 2 1.4 1.7 1.6 2.2 1.4 2.7 1.3 2.9 1 3 0.7 3.4 0.5 3.2 0 2 -0.2 1 -0.3 0.1 -1 0.2 -3.9 0.1 2.3 1 0.6 0.6 0.8 1 0.1 0.9 0.3 0.5 -0.2 0.6 0.5 0.4 0.3 3.6 -0.2 5 0.8 4 -0.2 3.4 -0.8 4 -1.4 4.2 -1.4 3.3 -2 3.3 -2 2.4 -2.6 2.4 -2.4 1.8 -3 1.5 -3 1.2 -3 0.7 -3.6 0.5 -3 0.1 -3.4 -0.3 -3.6 -0.6 -3.4 -1.1 -3 -1.2 -3 -1.6 -3 -2 -2.5 -2 -2.4 -2.6 -2 -2.4 -1.6 -2.6 -1.6 -3 -1.2 -3 -1 -3.4 -0.7 -3.6 -0.4 -3.4 -0.2 -4.6 0.1 -4.4 0.4 -4.6 0.7 -4 1 -3.4 1 -3 1.4 -3 1.9 -3 2.1 -2.8 2.5 -2.6 2.5 -2.1 3 -2 3 -1.6 3.4 -1.4 3.6 -1z"/><path fill="#0f0" fill-opacity="0.0355" fill-rule="evenodd" d="M-33.1 -27.8l5.3 -0.1 3 0.4 2.6 0.5 2.4 0.8 2.6 1.1 2.5 1.4 1.9 1.4 2 1.8 1.6 1.7 1.4 2 1.6 2.5 1.1 2.5 1.1 3 0.8 3 0.5 3 0 2 -0.1 0.6 -0.4 0.1 -6.2 0.3 2.2 0.7 1.4 0.9 1 1.1 0.7 1.3 0 0.6 0.4 0.4 -0.2 2 0.3 1.6 -0.5 5 1.1 3 0 3 -0.4 2.4 -0.8 3 -2 5.1 -1.6 2.6 -2 2.6 -2.4 2.5 -2.6 1.8 -3 1.7 -3 1.2 -3 0.8 -3.4 0.5 -3 0.1 -3 -0.2 -3 -0.5 -3.6 -1 -2.4 -1 -3 -1.4 -2.7 -1.8 -2.6 -2 -2 -2 -2.1 -2.5 -1.7 -2.5 -1.3 -2.4 -1.2 -3 -0.9 -3 -0.7 -3 -0.4 -3.6 -0.2 -4 0.1 -4.4 0.3 -4.6 0.6 -4 0.7 -3 1 -3 1.3 -3 1.4 -2.4 1.9 -2.6 2.5 -2.6 2.4 -2.2 3 -2 3 -1.5 3 -1.2 3 -0.8zM-6.8 15.2l-0.1 0 -0.2 0.6 0.9 0 0 -0.3z"/><path fill="#0f0" fill-opacity="0.0399" fill-rule="evenodd" d="M-31.7 -25.8l2.9 0 2.6 0.1 5 1 2.4 0.9 2.6 1.2 2 1.2 2 1.5 2 1.9 1.4 1.8 2.6 4 1.1 2.4 1.1 3 0.6 2.6 0.4 2.4 -0.1 1.6 -0.1 0 -2.6 0.3 -5.4 0.1 3 0.9 2 1.1 1 1.1 0.8 1.9 0.2 1.6 -0.2 0.9 0.4 1.1 -0.4 1 -0.1 1 -0.4 0.4 0.6 0.6 -0.6 1.4 -0.5 0.6 0.1 0.5 -0.2 0.5 0.7 0 0.6 0.4 0.4 0.7 0.4 1.3 0 2 -0.4 2.6 -0.7 2.4 -1 2.6 -1.3 2.4 -1.4 2.4 -2 2.4 -2.6 2.4 -2.4 1.7 -3 1.6 -3 1.1 -3 0.7 -3.6 0.4 -3 0 -3 -0.3 -3 -0.6 -3 -0.9 -3 -1.3 -2.4 -1.3 -2 -1.4 -2.3 -1.9 -1.9 -2 -1.6 -2 -1.6 -2.4 -1.3 -2.6 -1 -2.4 -0.8 -3 -0.5 -3 -0.3 -3.6 0 -8.4 0.4 -4.6 0.5 -3.4 0.7 -3 0.9 -2.6 1.2 -2.4 1.5 -2.6 1.9 -2.4 2.2 -2.2 2.4 -2 2.6 -1.6 3 -1.4 3 -1.1 3.4 -0.9zM-6.8 14.7l-2.3 0.5 0.3 0.6 3.1 0 -0.1 -0.9z"/><path fill="#0f0" fill-opacity="0.0447" fill-rule="evenodd" d="M-30.1 -23.8l4.9 0.3 2.4 0.4 2.6 0.7 2.4 1 2 1.1 2 1.3 2 1.6 3 3.2 1.6 2.2 1.2 2.2 1.9 5 0.6 2.6 0.2 2 -2.9 0.3 -7.3 0.1 3.7 0.9 2.6 1.1 1.4 1.5 0.8 2.1 0.4 3.4 -0.3 0.6 -0.3 1.4 0.5 0.6 -0.1 0.1 -0.4 0.3 -0.6 1.1 -0.5 0.5 -1.2 0.4 -3.6 1 0.4 0.6 4.4 0 0.9 0 0.2 -0.5 1 0.8 0.2 0.7 0.1 2 -0.6 3 -1.3 3.4 -1.4 2.9 -1.6 2.2 -2 2.3 -2.4 2.2 -2.6 1.6 -3 1.5 -3 1 -3 0.7 -3.4 0.3 -2.6 -0.1 -3 -0.3 -3 -0.6 -2.4 -0.8 -2.6 -1.1 -2.4 -1.4 -2.6 -1.8 -1.7 -1.6 -1.9 -2 -1.5 -2 -1.2 -2 -1.1 -2.4 -0.9 -2.6 -0.6 -2.4 -0.4 -3 -0.2 -3 0.4 -10 0.7 -6.6 1.3 -4.4 1.2 -2.6 1.2 -2 2 -2.4 2.1 -2 2.6 -2 2.6 -1.4 3 -1.4 3 -0.9 3 -0.6z"/><path fill="#0f0" fill-opacity="0.0502" fill-rule="evenodd" d="M-32.6 -21.8l2.8 -0.2 2.6 0 5 0.8 2.4 0.7 2.6 1.1 4 2.4 2 1.7 1.4 1.6 2.9 3.9 1.1 2.3 1 2.5 1.2 4.8 -3.6 0.3 -8.9 0.1 3.4 0.6 2.9 0.8 2.2 1.2 1.3 1.4 0.7 1.6 0.3 2.4 0 1 -0.7 3 -0.8 0.9 -1.1 0.7 -2.3 0.8 -2.9 0.6 0.5 0.6 7.4 0.1 0.4 0.2 0.4 0.7 0.1 1 -0.3 2.4 -1.2 3.2 -1.7 3.4 -2.3 3 -2.4 2.5 -3 2.1 -3 1.6 -3.6 1.2 -4 0.8 -2.4 0.1 -3 -0.1 -5 -0.9 -4.6 -1.6 -2.4 -1.4 -2 -1.3 -1.8 -1.6 -1.8 -1.7 -2.5 -3.7 -1.8 -4 -0.6 -2.6 -0.4 -2.4 -0.2 -6 0.7 -13 0.4 -2.6 0.6 -2 1.6 -3.4 1.3 -2 1.9 -2.3 2 -1.8 2.6 -1.7 2.4 -1.4 2.6 -1 2.4 -0.8zM-43.8 0.2l-0.4 0 0.4 0.4 1 0.1 3.7 -0.5z"/><path fill="#0f0" fill-opacity="0.0563" fill-rule="evenodd" d="M-33.8 -19.8l2.6 -0.3 2.4 -0.1 5 0.4 4.6 1.2 2.4 1.1 2 1.2 2 1.4 2 1.8 3 3.7 2.3 4.2 1.6 5 -4.9 0.3 -11.2 0.1 4.8 0.5 3.4 0.7 2.6 1 1.6 1.4 0.8 1 0.4 1 0.4 2 -0.1 2 -0.7 2 -1 1 -2 1.1 -2.4 0.7 -3.4 0.6 0.7 0.6 9.7 0.3 0.2 0.1 0.2 0.6 0 1.4 -0.8 3 -1.4 3 -2.1 3 -2.1 2.5 -2.6 2 -3 1.9 -3.4 1.4 -3.6 0.9 -4.4 0.5 -5 -0.4 -2.6 -0.6 -2.4 -0.8 -4.1 -1.9 -3.5 -2.6 -1.4 -1.5 -1.5 -1.8 -1.2 -2 -1 -2 -1.1 -4 -0.2 -2.6 -0.1 -3 0.6 -9.4 0 -6 0.4 -3 1.1 -3 1.2 -2 1.5 -2 1.7 -1.8 2 -1.6 2 -1.3 2.6 -1.2 2.4 -0.9zM-44.2 0.2l-0.2 0 0.2 1 0.4 -0.3 1.6 0.1 6.8 -0.8z"/><path fill="#0f0" fill-opacity="0.0597" fill-rule="evenodd" d="M-33.4 -18.2l4.6 -0.5 5 0.4 4.6 1.2 4 2 2 1.3 2 1.7 2.9 3.3 2.3 4 1.7 4.6 -3.5 0.2 -6 0.2 -30.7 0 -0.1 1 0.4 0.2 2 0 6.4 -0.8 5.5 -0.3 7.1 0.1 6 0.4 3.4 0.6 2.8 0.8 1.9 1 1.4 1.6 0.8 2 0.2 2 -0.5 2 -1 1.4 -1.6 1 -2.4 1 -2.6 0.6 -3.9 0.4 1 0.6 9.9 0.1 2 0.1 0.5 0.2 0.2 1 -0.3 1.6 -0.7 2 -1 2 -1.6 2.4 -1.6 2 -1.9 1.9 -2 1.5 -2 1.2 -2.6 1.2 -2.4 0.9 -2.6 0.5 -4.4 0.4 -4.6 -0.3 -4.4 -1.2 -4 -1.8 -3.6 -2.5 -2.4 -2.8 -2.1 -3.4 -1 -3.6 -0.3 -2.4 0 -3 0.9 -10.6 -0.4 -6 0.2 -2 0.9 -2.4 1 -2 1.2 -1.7 1.8 -1.9 1.9 -1.4 1.9 -1.2 2.4 -1.3 2.6 -0.9zM-39.8 15.2l-0.8 0.6 1.7 0 0.6 -0.6z"/><path fill="#0f0" fill-opacity="0.0635" fill-rule="evenodd" d="M-30.7 -17.2l4.5 -0.1 4 0.6 4 1.3 3.4 1.9 3 2.3 3 3.2 2.4 3.8 1.6 4 -4 0.2 -6.9 0.2 -28.5 -0.1 -0.5 0.1 -0.3 0.6 -0.1 0.4 0.3 0.3 2 0.3 6.6 -0.9 5.4 -0.3 7 0 6 0.5 3.7 0.7 2.9 0.9 1.6 1.1 1.4 1.4 0.7 2 0 2 -0.3 1.1 -0.6 0.9 -1.4 1.3 -2 1 -3 0.8 -3.4 0.6 -5 0.3 1.8 0.6 12.2 0.1 3 0.1 0.8 0.2 -0.1 1 -0.4 1.6 -1.9 3.7 -1.4 2.2 -2 2.2 -2 1.7 -2 1.3 -2.6 1.3 -2.4 1 -2.6 0.7 -3 0.5 -4.4 0 -4 -0.6 -4 -1.3 -3.6 -1.9 -2.9 -2.4 -2.1 -2.5 -1.5 -2.9 -0.8 -3.6 -0.1 -3 0.4 -5 1.3 -7.4 -1.2 -3.6 -0.1 -2.4 0.3 -2 0.8 -2 1.3 -2 1.6 -2 2 -1.7 2 -1.3 2 -1 2.6 -0.9 3 -0.8zM-40.8 15.1l-0.5 0.6 0.5 0.1 6.1 0 1.7 -0.6 -5.8 -0.3z"/><path fill="#0f0" fill-opacity="0.0678" fill-rule="evenodd" d="M-32.7 -15.8l4.5 -0.3 4.4 0.3 4 1.1 4 1.8 3.6 2.4 2.7 2.7 2.3 3.3 2 4.3 -4 0.2 -8 0.2 -27 -0.1 -1.6 0.5 -0.4 -0.1 -0.5 -0.3 -0.7 -1 -0.3 -1 -0.1 -1.4 0.3 -1.6 0.5 -1.4 1.8 -2.8 2.4 -2.4 3 -2 3.6 -1.5zM-36.1 1.2l8.3 -0.3 8.6 0.4 3 0.4 2.4 0.6 2.4 0.9 1.4 1 0.9 1 0.7 1.6 0.2 1.4 -0.3 1.6 -0.5 1 -0.9 1 -1.3 0.9 -1.4 0.5 -4.2 1.1 -6.4 0.7 -7 0 -9.6 -0.4 -1.4 0.5 -0.3 0.7 26.3 0 9.4 0.4 0.2 0 -0.2 0.8 -1.3 3.2 -1.6 2.6 -1.5 1.8 -3 2.8 -4 2.4 -4.6 1.7 -4.4 0.7 -5 -0.1 -4.6 -1 -4 -1.7 -3.4 -2.4 -1.7 -1.8 -1.4 -2 -1 -2 -0.5 -2 -0.1 -3.4 0.7 -6.6 0.5 -2.4 0.9 -2.3 0.6 -0.5 1.4 -0.2 -0.2 -0.6 0.8 -0.8z"/><path fill="#0f0" fill-opacity="0.0727" fill-rule="evenodd" d="M-31.9 -14.8l4.1 -0.2 4 0.3 4 1.1 3.6 1.5 3 1.9 3 2.7 2.4 3.3 2.2 4 -5.6 0.3 -10.5 0.1 -17.1 -0.1 -7 -0.2 -0.7 -0.7 -0.2 -0.4 -0.2 -1 0.1 -1.6 0.9 -2.4 1.8 -2.6 2.3 -2 3 -1.9 3.6 -1.3zM-32.2 1.3l6 -0.1 5.4 0.2 4.6 0.7 3 0.9 2.2 1.2 1 1 0.6 1 0.4 2 -0.1 1 -0.7 1.3 -1.1 1.3 -1.8 1 -2.1 0.7 -3 0.6 -4.4 0.5 -5 0.2 -12.6 -0.5 -1.4 0.5 -0.4 0.4 -0.2 0.6 27 0 9 0.4 -1.4 3.2 -1.6 2.3 -2 2.4 -2.4 2.2 -3.6 2.2 -4.4 1.7 -4.6 0.9 -4.4 0 -4.6 -0.8 -4 -1.6 -3.4 -2.2 -2.6 -2.7 -0.9 -1.6 -0.7 -1.4 -0.5 -3 0 -1.6 0.7 -3.4 0.3 -4 1 -3.6 0.4 -0.4 0.9 -0.6 0.4 -0.9 1.2 -0.5 4.6 -1z"/><path fill="#0f0" fill-opacity="0.0784" fill-rule="evenodd" d="M-31.7 -13.8l3.9 -0.2 4 0.3 4 1 3.6 1.6 3 1.9 3 2.7 2.1 2.7 2 3.6 -7.1 0.3 -14.6 0.1 -14.4 -0.1 -2 -0.1 -1 -0.2 -0.5 -0.6 -0.4 -1 0.1 -2 1.1 -2.4 1.7 -2.1 2.3 -1.9 2.7 -1.6 3 -1.2zM-34.6 1.7l5.3 -0.3 6.1 0.2 5 0.5 3.4 0.9 2.8 1.2 1.5 1.6 0.5 1 0.2 1 -0.1 1 -0.3 1 -1.2 1.4 -1.5 1 -2.3 0.9 -2.6 0.6 -4.1 0.5 -5.3 0.3 -4.6 -0.1 -8 -0.5 -1 0.2 -1 0.6 -0.1 1.1 26.7 0.1 9.2 0.3 -2.8 4.5 -3 3.4 -2 1.6 -2 1.3 -4 1.8 -2.4 0.7 -2.6 0.4 -2.4 0.2 -2.6 0 -4.4 -0.7 -2.6 -0.8 -2 -1 -2.4 -1.5 -2 -1.9 -1.5 -2 -0.9 -2 -0.4 -1.4 0 -1.6 0.3 -1.4 0.9 -2.6 0.1 -5 0.5 -1.1 0.3 -0.3 -0.2 -1.6 0.2 -0.4 1.2 -1 0.9 -0.6 2 -0.6z"/><path fill="#0f0" fill-opacity="0.0851" fill-rule="evenodd" d="M-32 -12.8l3.8 -0.3 4 0.3 4 0.9 3.4 1.4 3 1.9 3 2.5 2.4 2.9 1.8 3 -7.1 0.3 -14.1 0.1 -14 -0.1 -2.4 -0.2 -0.7 -0.1 -0.7 -1.6 0.3 -2 1 -2 1.5 -1.9 2.6 -2 2.4 -1.3 3 -1.1zM-29.3 1.8l5.1 0 4.4 0.4 3.6 0.8 2.4 0.9 1.9 1.3 0.8 1 0.3 1 0 1.7 -0.3 0.9 -0.7 0.8 -1.4 1.2 -2.3 1 -2.7 0.6 -3 0.4 -8 0.4 -9.6 -0.6 -2 0 -0.5 0.2 -0.8 1 -0.1 0.4 0.1 0.6 26.3 0.1 9.5 0.3 -2.8 4 -2.1 2.5 -2.5 2 -3.1 1.9 -4 1.6 -4 0.8 -4 0.2 -4 -0.4 -4 -1.2 -3 -1.6 -2.8 -2.2 -1.8 -2.6 -0.8 -2.4 0 -1.6 0.2 -1 0.5 -1 0.7 -0.7 1.6 -0.4 0.4 -0.3 -0.4 -0.8 -1.2 -0.8 -0.4 -1 0.6 -0.4 0.6 0 -0.2 -0.3 -0.4 -0.1 -0.8 -1.6 0 -0.6 0.9 -0.4 -0.5 -0.6 0.5 -0.4 -0.4 -1 0.3 -0.6 0 -0.4 2 -1.2 3 -0.9 4 -0.7z"/><path fill="#0f0" fill-opacity="0.0930" fill-rule="evenodd" d="M-32.7 -11.8l3.5 -0.4 4 0.1 4 0.8 3.4 1.2 3 1.6 3 2.3 2.6 2.7 2.2 3.3 -7.2 0.3 -13.6 0.1 -13.4 -0.2 -2.6 0 -0.9 -0.2 -0.4 -1.6 0.3 -1.4 1 -2 1.6 -1.9 2 -1.6 2 -1.2 2.4 -1zM-32.8 2.2l4.6 -0.1 4.4 0.1 4 0.4 3 0.7 2.6 1 1.8 1.5 0.8 1.4 0 1.6 -0.8 1.4 -2 1.6 -2.8 1 -3 0.6 -4 0.4 -5 0.1 -12.6 -0.9 -1.5 -1.8 0.9 -0.4 -0.6 -1.6 -0.6 -1 0.7 -0.4 -0.2 -0.6 0.2 -0.4 0 -1 1.1 -1.2 2 -1 3.1 -0.8zM-43.9 15.8l0.7 -0.4 0.4 -0.1 0.6 0.5 1 0.1 23.4 0 11.1 0.3 -2.5 3.4 -2 2.2 -2 1.7 -2.6 1.7 -3 1.4 -3 1 -3 0.6 -3.4 0.2 -3.6 -0.3 -3.5 -0.9 -2.9 -1.2 -2.6 -1.6 -2.1 -2.2 -1.4 -2.4 -0.3 -1.6 0 -1 0.4 -1z"/><path fill="#0f0" fill-opacity="0.1026" fill-rule="evenodd" d="M-30.7 -11.2l3.5 -0.2 3.4 0.3 3.6 0.9 3 1.1 3 1.8 2.4 1.9 2.5 2.6 1.8 2.6 -7.3 0.2 -13 0.1 -13 -0.1 -3.8 -0.2 -0.1 -1.6 0.7 -2 1.2 -1.8 1.8 -1.6 2.2 -1.5 2.6 -1.2 2.4 -0.8zM-34.2 2.8l4.4 -0.4 4.6 0 4 0.4 3.4 0.7 2.6 0.9 1.8 1.4 0.9 1.4 0 1.6 -0.9 1.4 -1.8 1.3 -3 1.1 -3.5 0.6 -4.5 0.3 -5 0 -4 -0.4 -6 -0.8 -1.6 -0.7 -0.2 -0.4 0.7 -0.4 -0.3 -1.6 -0.8 -1 0.6 -0.3 0.1 -0.6 0.7 -1.5 1 -1 1.8 -0.9 2.1 -0.7zM-43.6 16.2l0.8 -0.4 1.6 0.1 24.4 0 9.6 0.3 -2.6 3.2 -1.4 1.6 -2.6 2.1 -2.4 1.6 -2.6 1.1 -3 1 -3 0.6 -3 0.2 -3.4 -0.3 -3 -0.6 -3 -1.1 -2.6 -1.4 -2.2 -2 -1.4 -2 -0.6 -2 0 -1z"/><path fill="#0f0" fill-opacity="0.1143" fill-rule="evenodd" d="M-32.2 -10.2l3.5 -0.4 3.5 0.1 3.4 0.6 3.6 1.1 3 1.6 2.4 1.7 2.6 2.4 2.2 2.9 -7.2 0.2 -12.6 0.1 -12.4 -0.1 -4.2 -0.2 0.1 -1.6 0.5 -1.4 1 -1.5 1.6 -1.5 2 -1.4 2 -1.1 2.4 -0.9zM-29.8 2.8l4 0 3.6 0.2 3 0.6 2.2 0.6 1.9 1 1.1 1 0.5 1 0 1.6 -1 1.4 -1.7 1.2 -2.6 0.8 -4 0.7 -4.4 0.3 -4.6 -0.1 -4.4 -0.5 -4.3 -0.8 -0.9 -0.6 -0.9 -2.4 0.6 -2 1.1 -1.6 1.8 -1 2.6 -0.7 3 -0.5zM-43.1 16.2l0.9 -0.3 14.4 0 13 0.1 7.1 0.2 -2.1 2.5 -2 2 -2 1.7 -2.4 1.5 -2.6 1.2 -3 0.9 -3 0.6 -3 0.2 -3.4 -0.2 -3 -0.7 -3 -1.1 -2.6 -1.4 -2 -1.8 -1.2 -1.8 -0.6 -2 0.2 -1z"/><path fill="#0f0" fill-opacity="0.1290" fill-rule="evenodd" d="M-30.9 -9.8l3.1 -0.1 3.6 0.2 3 0.6 3 1 3 1.6 2.4 1.7 2.6 2.4 1.7 2.2 -6.7 0.2 -12.6 0.1 -12 -0.1 -4.5 -0.2 0.6 -2 0.9 -1.6 1.6 -1.6 1.4 -1.2 2 -1.1 2 -0.9 2.6 -0.7zM-31.9 3.2l3.7 -0.1 4 0.1 3 0.4 2.7 0.6 2.2 1 1.2 1 0.6 1 0 1.6 -0.6 1 -0.5 0.4 -1.8 1 -2.8 0.9 -3 0.5 -4 0.2 -4 0 -4.6 -0.5 -3 -0.7 -1.4 -0.7 -0.9 -1.1 -0.3 -1.6 0.3 -1 0.5 -1 1.2 -1 2.1 -1 2.5 -0.6zM-42.7 16.2l0.9 -0.2 14 -0.1 12.5 0.1 7.1 0.2 -2 2.4 -2 1.9 -2 1.5 -2.6 1.5 -2.4 1.1 -3 0.9 -3 0.5 -2.6 0.1 -3 -0.2 -3 -0.5 -3 -1.1 -2.4 -1.3 -2.1 -1.8 -1.4 -2 -0.4 -1.4 0.1 -1z"/><path fill="#0f0" fill-opacity="0.1481" fill-rule="evenodd" d="M-28.9 -9.2l2.7 0 3 0.3 3 0.8 2.4 0.9 2.6 1.3 2.4 1.8 2 1.8 1.8 2.1 -6.8 0.2 -12 0.1 -11.4 -0.1 -5 -0.2 0.9 -2 1.1 -1.5 1.4 -1.4 2 -1.4 2 -1 2.6 -0.9 2.4 -0.5zM-32.8 3.8l3.6 -0.3 3.4 0 3 0.3 3 0.6 2.2 0.8 1.4 1 0.7 1 0.1 1 -0.2 0.6 -0.7 1 -1.9 1.2 -2.5 0.8 -3.1 0.4 -3.4 0.3 -4 -0.1 -3.6 -0.4 -3 -0.7 -1.4 -0.7 -0.9 -0.8 -0.4 -1.6 0.5 -1.4 1 -1 1.8 -1 1.7 -0.6zM-42.5 16.2l0.7 -0.2 14 -0.1 12 0.1 7.1 0.2 -2.1 2.3 -1.9 1.7 -2.1 1.5 -2.4 1.4 -2.6 1 -2.4 0.7 -2.5 0.4 -3.1 0.2 -2.9 -0.2 -3.1 -0.5 -2.4 -0.8 -2.6 -1.3 -2 -1.5 -1.4 -1.9 -0.5 -1.4 0 -1z"/><path fill="#0f0" fill-opacity="0.1739" fill-rule="evenodd" d="M-32.1 -8.2l3.3 -0.4 3 0 3.6 0.6 3 0.8 3 1.4 2.4 1.6 2 1.6 2.3 2.4 -18.3 0.3 -11 -0.1 -5.2 -0.2 1.8 -2.8 1.4 -1.4 1.6 -1.1 3.4 -1.7zM-33.1 4.2l2.9 -0.3 3 0 3.4 0.2 2.6 0.5 2.1 0.6 1.6 1 0.8 1 0.1 1 -0.5 1 -1.2 1 -2.5 1 -2.4 0.5 -3 0.3 -3.6 0 -3.3 -0.3 -2.7 -0.5 -2 -0.6 -1.1 -0.8 -0.5 -1 0.2 -1.4 0.8 -1.2 1.2 -0.7 1.8 -0.7zM-42.3 16.2l1.1 -0.2 13.4 -0.1 11.6 0.1 7 0.2 -2 2.1 -2 1.7 -4 2.4 -2.6 1 -2.4 0.8 -2.6 0.4 -3 0.2 -3 -0.2 -2.4 -0.4 -2.6 -0.8 -2.4 -1.2 -2 -1.4 -1.6 -1.6 -0.6 -1.4 -0.1 -1z"/><path fill="#0f0" fill-opacity="0.2105" fill-rule="evenodd" d="M-31.4 -7.8l2.6 -0.2 3 0 3 0.5 3 0.8 3 1.2 2.6 1.5 2 1.5 2.2 2.3 -17.8 0.3 -10.4 -0.1 -5.6 -0.2 2 -2.7 3.1 -2.3 3.5 -1.6zM-33.1 4.8l2.9 -0.4 2.4 -0.1 3 0.2 2.6 0.4 2 0.6 1.3 0.7 0.9 1 0.2 1 -0.6 1 -1.4 1 -1.4 0.6 -2.1 0.4 -5.4 0.4 -3.1 -0.2 -2.4 -0.4 -2 -0.6 -1.3 -0.6 -0.7 -1 0 -1 0.5 -1 1.5 -1zM-42.2 16.2l1 -0.2 13.4 -0.1 18 0.3 -3.4 3.2 -2 1.4 -2.6 1.3 -2.4 0.9 -2.6 0.7 -2.4 0.4 -2.6 0.1 -3 -0.2 -2.4 -0.4 -2.6 -0.8 -2 -0.9 -2 -1.3 -1.4 -1.4 -0.9 -1.4z"/><path fill="#0f0" fill-opacity="0.2667" fill-rule="evenodd" d="M-30.9 -7.2l2.7 -0.3 3 0.1 3 0.5 2.4 0.7 2.6 1.1 2.4 1.3 2 1.5 2.3 2.1 -17.3 0.2 -15.8 -0.2 2.4 -2.6 3 -2.1 3.4 -1.5zM-32.6 5.2l2.4 -0.3 2.4 -0.1 4.5 0.4 1.7 0.6 1.4 0.6 0.8 0.8 0.2 1 -0.6 0.9 -0.9 0.7 -1.1 0.4 -2 0.6 -2.4 0.3 -2.6 0 -4.4 -0.5 -1.6 -0.4 -1.4 -0.8 -0.6 -0.6 -0.1 -1 0.7 -1 0.7 -0.6zM-42.1 16.2l1.3 -0.1 13 -0.2 17.5 0.3 -1.9 1.9 -2 1.5 -4 2.1 -4.6 1.4 -2.4 0.4 -2.6 0.1 -3 -0.2 -2.4 -0.4 -2.6 -0.8 -2 -0.9 -2 -1.2 -1.4 -1.5 -0.8 -1.4z"/><path fill="#0f0" fill-opacity="0.3636" fill-rule="evenodd" d="M-30.6 -6.8l2.8 -0.1 2.6 0.1 2.4 0.4 3 0.8 2.6 1 2 1.1 2 1.3 2.2 2 -16.8 0.2 -15.5 -0.2 2.5 -2.4 3 -2 3.6 -1.4zM-31.7 5.8l3.9 -0.4 3.6 0.4 1.6 0.4 1 0.6 0.5 0.4 0.2 0.6 0 0.4 -0.9 1 -1 0.6 -2 0.5 -4 0.2 -3.4 -0.4 -2.3 -0.9 -0.6 -0.4 -0.2 -0.6 0 -0.4 0.3 -0.6 0.8 -0.5zM-42 16.2l1.8 -0.1 12.4 -0.1 17 0.2 -2 1.7 -2 1.4 -4 2.1 -4.4 1.2 -4.6 0.5 -2.4 -0.2 -2.6 -0.3 -2.4 -0.7 -2 -0.8 -2 -1.2 -1.6 -1.3 -1 -1.3z"/><path fill="#0f0" fill-opacity="0.5357" fill-rule="evenodd" d="M-30.4 -6.2l2.6 -0.2 2.6 0.1 2.4 0.4 2.6 0.6 2.4 1 2 1 2 1.3 2.2 1.8 -16.2 0.2 -15.1 -0.2 2.7 -2.3 3 -1.8 3.4 -1.3zM-29.8 6.2l3 0 2 0.4 1.5 0.7 0.3 0.5 0 0.4 -0.4 0.6 -1 0.4 -2.4 0.5 -2.4 0 -2.6 -0.4 -1 -0.5 -0.4 -0.6 0 -0.4 0.4 -0.6 0.9 -0.4zM-41.9 16.2l2.1 -0.1 12 -0.1 16.4 0.2 -3.4 2.6 -4 2 -4.4 1.3 -4.6 0.4 -4.4 -0.4 -2.6 -0.6 -2 -0.7 -1.9 -1.1 -1.5 -1.1 -1 -1z"/><path fill="#0f0" fill-opacity="1.0000" fill-rule="evenodd" d="M-30.9 -5.8l2.7 -0.2 2.4 0.1 2.6 0.3 2.4 0.6 2.6 0.9 2 1 2 1.2 2.1 1.7 -15.7 0.2 -14.7 -0.2 2.7 -2.3 2.6 -1.4 3 -1.1zM-29.9 7.8l1.6 -0.5 1 0.1 1.1 0.4 -0.1 0.4 -1.9 0.4 -1.6 -0.4zM-41.9 16.2l14.1 -0.2 15.9 0.2 -3.3 2.5 -4 1.9 -4 1.1 -4.6 0.4 -4.4 -0.4 -4 -1.1 -2 -1 -1.6 -1 -1.4 -1.3z"/></g>
</g>
<polygon points="679.70,506.00 682.20,490.15 718.40,490.15 720.80,506.00" fill="#000" fill-opacity="0.24"/><polygon points="768.30,506.00 765.80,490.15 729.60,490.15 727.20,506.00" fill="#000" fill-opacity="0.24"/>
</g>
<rect x="565.5" y="618.95" width="317.0" height="0.95" fill="#fff"/>
<rect x="565.5" y="375.5" width="317.0" height="245.0" fill="none" stroke="#000" stroke-width="1.10"/>
<line x1="580.50" y1="620.50" x2="580.50" y2="625.90" stroke="#000" stroke-width="1.10"/>
<text x="580.10" y="641.40" font-size="13.89" text-anchor="middle" textLength="19.2" lengthAdjust="spacingAndGlyphs">−2</text>
<line x1="652.50" y1="620.50" x2="652.50" y2="625.90" stroke="#000" stroke-width="1.10"/>
<text x="652.10" y="641.40" font-size="13.89" text-anchor="middle" textLength="19.2" lengthAdjust="spacingAndGlyphs">−1</text>
<line x1="724.50" y1="620.50" x2="724.50" y2="625.90" stroke="#000" stroke-width="1.10"/>
<text x="724.10" y="641.40" font-size="13.89" text-anchor="middle" textLength="8.3" lengthAdjust="spacingAndGlyphs">0</text>
<line x1="795.50" y1="620.50" x2="795.50" y2="625.90" stroke="#000" stroke-width="1.10"/>
<text x="795.10" y="641.40" font-size="13.89" text-anchor="middle" textLength="8.3" lengthAdjust="spacingAndGlyphs">1</text>
<line x1="867.50" y1="620.50" x2="867.50" y2="625.90" stroke="#000" stroke-width="1.10"/>
<text x="867.10" y="641.40" font-size="13.89" text-anchor="middle" textLength="8.3" lengthAdjust="spacingAndGlyphs">2</text>
<line x1="560.10" y1="398.50" x2="565.50" y2="398.50" stroke="#000" stroke-width="1.10"/>
<text x="554.60" y="403.35" font-size="13.89" text-anchor="end" textLength="21.3" lengthAdjust="spacingAndGlyphs">1.5</text>
<line x1="560.10" y1="434.50" x2="565.50" y2="434.50" stroke="#000" stroke-width="1.10"/>
<text x="554.60" y="439.35" font-size="13.89" text-anchor="end" textLength="21.3" lengthAdjust="spacingAndGlyphs">1.0</text>
<line x1="560.10" y1="470.50" x2="565.50" y2="470.50" stroke="#000" stroke-width="1.10"/>
<text x="554.60" y="475.35" font-size="13.89" text-anchor="end" textLength="21.3" lengthAdjust="spacingAndGlyphs">0.5</text>
<line x1="560.10" y1="506.50" x2="565.50" y2="506.50" stroke="#000" stroke-width="1.10"/>
<text x="554.60" y="511.35" font-size="13.89" text-anchor="end" textLength="21.3" lengthAdjust="spacingAndGlyphs">0.0</text>
<line x1="560.10" y1="541.50" x2="565.50" y2="541.50" stroke="#000" stroke-width="1.10"/>
<text x="554.60" y="546.35" font-size="13.89" text-anchor="end" textLength="32.5" lengthAdjust="spacingAndGlyphs">−0.5</text>
<line x1="560.10" y1="577.50" x2="565.50" y2="577.50" stroke="#000" stroke-width="1.10"/>
<text x="554.60" y="582.35" font-size="13.89" text-anchor="end" textLength="32.5" lengthAdjust="spacingAndGlyphs">−1.0</text>
<line x1="560.10" y1="613.50" x2="565.50" y2="613.50" stroke="#000" stroke-width="1.10"/>
<text x="554.60" y="618.35" font-size="13.89" text-anchor="end" textLength="32.5" lengthAdjust="spacingAndGlyphs">−1.5</text>
<text x="724.00" y="660.70" font-size="13.89" text-anchor="middle" textLength="8.2" lengthAdjust="spacingAndGlyphs">y</text>
<text x="512.50" y="498.00" font-size="13.89" text-anchor="middle" textLength="7.3" lengthAdjust="spacingAndGlyphs" transform="rotate(-90 512.50 498.00)">z</text>
<text x="724.00" y="366.60" font-size="16.67" text-anchor="middle" textLength="209.0" lengthAdjust="spacingAndGlyphs">Ez (q-TM anti-symmetric)</text>
<rect x="902.70" y="365.97" width="14.40" height="262.45" fill="url(#cb)"/>
<polygon points="902.70,366.27 909.90,352.85 917.10,366.27" fill="rgb(5,48,97)"/>
<polygon points="902.70,628.13 909.90,641.55 917.10,628.13" fill="rgb(103,0,31)"/>
<polygon points="902.70,628.43 902.70,365.97 909.90,352.85 917.10,365.97 917.10,628.43 909.90,641.55" fill="none" stroke="#000" stroke-width="1.10" stroke-linejoin="miter"/>
<line x1="917.10" y1="408.50" x2="922.80" y2="408.50" stroke="#000" stroke-width="1.10"/>
<text x="927.00" y="414.10" font-size="13.89" text-anchor="start" textLength="16.8" lengthAdjust="spacingAndGlyphs">20</text>
<line x1="917.10" y1="453.50" x2="922.80" y2="453.50" stroke="#000" stroke-width="1.10"/>
<text x="927.00" y="459.10" font-size="13.89" text-anchor="start" textLength="16.8" lengthAdjust="spacingAndGlyphs">10</text>
<line x1="917.10" y1="497.50" x2="922.80" y2="497.50" stroke="#000" stroke-width="1.10"/>
<text x="927.00" y="503.10" font-size="13.89" text-anchor="start" textLength="8.4" lengthAdjust="spacingAndGlyphs">0</text>
<line x1="917.10" y1="541.50" x2="922.80" y2="541.50" stroke="#000" stroke-width="1.10"/>
<text x="927.00" y="547.10" font-size="13.89" text-anchor="start" textLength="27.8" lengthAdjust="spacingAndGlyphs">−10</text>
<line x1="917.10" y1="586.50" x2="922.80" y2="586.50" stroke="#000" stroke-width="1.10"/>
<text x="927.00" y="592.10" font-size="13.89" text-anchor="start" textLength="27.8" lengthAdjust="spacingAndGlyphs">−20</text>
<text x="971.80" y="500.40" font-size="13.89" text-anchor="middle" textLength="49.0" lengthAdjust="spacingAndGlyphs" transform="rotate(-90 971.80 500.40)">Re{Ez}</text>
</g>
</svg></body></html>
